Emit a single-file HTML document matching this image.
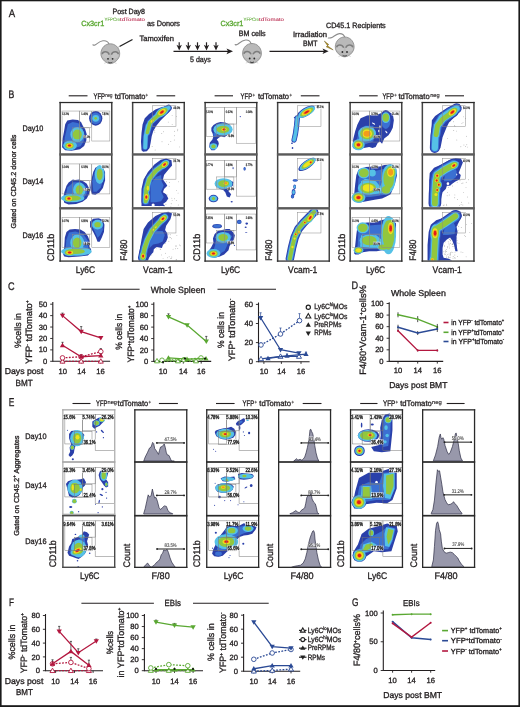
<!DOCTYPE html>
<html><head><meta charset="utf-8"><style>
html,body{margin:0;padding:0;background:#fff;width:520px;height:707px;overflow:hidden}
svg{display:block;font-family:"Liberation Sans", sans-serif;text-rendering:geometricPrecision;will-change:transform}
</style></head><body>
<svg width="520" height="707" viewBox="0 0 520 707" fill="#231f20">
<defs>
<filter id="bl" x="-20%" y="-20%" width="140%" height="140%"><feGaussianBlur stdDeviation="0.6"/></filter>
<filter id="bl2" x="-20%" y="-20%" width="140%" height="140%"><feGaussianBlur stdDeviation="0.3"/></filter>
<clipPath id="cB00"><rect x="60.199999999999996" y="102.89999999999999" width="51.5" height="51.0"/></clipPath>
<clipPath id="cB01"><rect x="132.70000000000002" y="102.89999999999999" width="51.5" height="51.0"/></clipPath>
<clipPath id="cB02"><rect x="205.20000000000002" y="102.89999999999999" width="51.5" height="51.0"/></clipPath>
<clipPath id="cB03"><rect x="277.7" y="102.89999999999999" width="51.5" height="51.0"/></clipPath>
<clipPath id="cB04"><rect x="350.2" y="102.89999999999999" width="51.5" height="51.0"/></clipPath>
<clipPath id="cB05"><rect x="422.40000000000003" y="102.89999999999999" width="51.5" height="51.0"/></clipPath>
<clipPath id="cB10"><rect x="60.199999999999996" y="155.8" width="51.5" height="51.0"/></clipPath>
<clipPath id="cB11"><rect x="132.70000000000002" y="155.8" width="51.5" height="51.0"/></clipPath>
<clipPath id="cB12"><rect x="205.20000000000002" y="155.8" width="51.5" height="51.0"/></clipPath>
<clipPath id="cB13"><rect x="277.7" y="155.8" width="51.5" height="51.0"/></clipPath>
<clipPath id="cB14"><rect x="350.2" y="155.8" width="51.5" height="51.0"/></clipPath>
<clipPath id="cB15"><rect x="422.40000000000003" y="155.8" width="51.5" height="51.0"/></clipPath>
<clipPath id="cB20"><rect x="60.199999999999996" y="209.60000000000002" width="51.5" height="51.0"/></clipPath>
<clipPath id="cB21"><rect x="132.70000000000002" y="209.60000000000002" width="51.5" height="51.0"/></clipPath>
<clipPath id="cB22"><rect x="205.20000000000002" y="209.60000000000002" width="51.5" height="51.0"/></clipPath>
<clipPath id="cB23"><rect x="277.7" y="209.60000000000002" width="51.5" height="51.0"/></clipPath>
<clipPath id="cB24"><rect x="350.2" y="209.60000000000002" width="51.5" height="51.0"/></clipPath>
<clipPath id="cB25"><rect x="422.40000000000003" y="209.60000000000002" width="51.5" height="51.0"/></clipPath>
<clipPath id="cE00"><rect x="63.0" y="410.1" width="51.6" height="50.9"/></clipPath>
<clipPath id="cE02"><rect x="206.9" y="410.1" width="51.6" height="50.9"/></clipPath>
<clipPath id="cE04"><rect x="350.7" y="410.1" width="51.6" height="50.9"/></clipPath>
<clipPath id="cE10"><rect x="63.0" y="463.1" width="51.6" height="50.9"/></clipPath>
<clipPath id="cE12"><rect x="206.9" y="463.1" width="51.6" height="50.9"/></clipPath>
<clipPath id="cE14"><rect x="350.7" y="463.1" width="51.6" height="50.9"/></clipPath>
<clipPath id="cE20"><rect x="63.0" y="516.4" width="51.6" height="50.9"/></clipPath>
<clipPath id="cE22"><rect x="206.9" y="516.4" width="51.6" height="50.9"/></clipPath>
<clipPath id="cE24"><rect x="350.7" y="516.4" width="51.6" height="50.9"/></clipPath>
</defs>
<rect x="0" y="0" width="520" height="707" fill="#fff"/>
<text x="8.8" y="16.5" font-size="11" textLength="6.4" lengthAdjust="spacingAndGlyphs" stroke="#231f20" stroke-width="0.32">A</text>
<text x="112.5" y="14.2" font-size="7.6" textLength="32.5" lengthAdjust="spacingAndGlyphs" stroke="#231f20" stroke-width="0.32">Post Day8</text>
<text x="81.2" y="25.5" font-size="7.6" textLength="23" lengthAdjust="spacingAndGlyphs" fill="#5aa832" stroke="#5aa832" stroke-width="0.32">Cx3cr1</text>
<text x="104.5" y="21.3" font-size="4.8" textLength="15.5" lengthAdjust="spacingAndGlyphs" fill="#5aa832" stroke="#5aa832" stroke-width="0.05">YFPCre</text>
<text x="120" y="21.3" font-size="4.8" textLength="25" lengthAdjust="spacingAndGlyphs" fill="#b3173f" stroke="#b3173f" stroke-width="0.05">tdTomato</text>
<text x="147" y="25.5" font-size="7.6" textLength="33" lengthAdjust="spacingAndGlyphs" stroke="#231f20" stroke-width="0.32">as Donors</text>
<text x="139.5" y="41.2" font-size="7.6" textLength="34.5" lengthAdjust="spacingAndGlyphs" stroke="#231f20" stroke-width="0.32">Tamoxifen</text>
<text x="220.4" y="25.5" font-size="7.6" textLength="23" lengthAdjust="spacingAndGlyphs" fill="#5aa832" stroke="#5aa832" stroke-width="0.32">Cx3cr1</text>
<text x="243.5" y="21.3" font-size="4.8" textLength="15.5" lengthAdjust="spacingAndGlyphs" fill="#5aa832" stroke="#5aa832" stroke-width="0.05">YFPCre</text>
<text x="259" y="21.3" font-size="4.8" textLength="25" lengthAdjust="spacingAndGlyphs" fill="#b3173f" stroke="#b3173f" stroke-width="0.05">tdTomato</text>
<text x="238.8" y="35.5" font-size="7.6" textLength="26.8" lengthAdjust="spacingAndGlyphs" stroke="#231f20" stroke-width="0.32">BM cells</text>
<text x="293" y="36.5" font-size="7.6" textLength="34" lengthAdjust="spacingAndGlyphs" stroke="#231f20" stroke-width="0.32">Irradiation</text>
<text x="303" y="45.5" font-size="7.6" textLength="14.5" lengthAdjust="spacingAndGlyphs" stroke="#231f20" stroke-width="0.32">BMT</text>
<text x="326" y="28" font-size="7.6" textLength="59.7" lengthAdjust="spacingAndGlyphs" stroke="#231f20" stroke-width="0.32">CD45.1 Recipients</text>
<text x="190" y="61.5" font-size="7.6" textLength="20.8" lengthAdjust="spacingAndGlyphs" stroke="#231f20" stroke-width="0.32">5 days</text>
<line x1="173.5" y1="51.3" x2="229" y2="51.3" stroke="#231f20" stroke-width="1.3"/>
<path d="M226.5,48.4 L233,51.3 L226.5,54.2 L228,51.3 Z" fill="#231f20"/>
<line x1="179.2" y1="42.3" x2="179.2" y2="47" stroke="#231f20" stroke-width="1.2"/>
<path d="M176.5,44.8 L179.2,46.3 L181.89999999999998,44.8 L179.2,50.6 Z" fill="#231f20"/>
<line x1="188.3" y1="42.3" x2="188.3" y2="47" stroke="#231f20" stroke-width="1.2"/>
<path d="M185.60000000000002,44.8 L188.3,46.3 L191.0,44.8 L188.3,50.6 Z" fill="#231f20"/>
<line x1="197.5" y1="42.3" x2="197.5" y2="47" stroke="#231f20" stroke-width="1.2"/>
<path d="M194.8,44.8 L197.5,46.3 L200.2,44.8 L197.5,50.6 Z" fill="#231f20"/>
<line x1="206.5" y1="42.3" x2="206.5" y2="47" stroke="#231f20" stroke-width="1.2"/>
<path d="M203.8,44.8 L206.5,46.3 L209.2,44.8 L206.5,50.6 Z" fill="#231f20"/>
<line x1="216" y1="42.3" x2="216" y2="47" stroke="#231f20" stroke-width="1.2"/>
<path d="M213.3,44.8 L216,46.3 L218.7,44.8 L216,50.6 Z" fill="#231f20"/>
<line x1="269.5" y1="51.3" x2="325" y2="51.3" stroke="#231f20" stroke-width="1.3"/>
<path d="M322.5,48.5 L328.6,51.3 L322.5,54.1 L324,51.3 Z" fill="#231f20"/>
<path d="M324.3,41 L328.8,44.6 L327.2,45.6 L333.2,49.9 L326.2,46.8 L327.6,45.8 Z" fill="#b8961e" stroke="#5a4a10" stroke-width="0.4"/>
<line x1="119.5" y1="46.5" x2="132.5" y2="39.5" stroke="#222" stroke-width="1.4"/>
<line x1="117.5" y1="47.5" x2="120" y2="46.3" stroke="#999" stroke-width="0.6"/>
<g transform="translate(100.9,43.6)"><path d="M8,0.3 C7,-2.5 5,-3.2 2,-2.8 C-1.5,-2.3 -3.5,0 -5.5,1.2 C-6.5,1.8 -7.5,1.6 -8,1.2" fill="none" stroke="#8c8c8c" stroke-width="1.1" stroke-linecap="round"/><path d="M9.4,0.2 C14.2,0.2 18.4,3.8 18.8,9.6 C19,13 17.4,15.4 15.2,17.4 C13.2,19.2 11.2,20 9.4,20 C7.6,20 5.6,19.2 3.6,17.4 C1.4,15.4 -0.2,13 0,9.6 C0.4,3.8 4.6,0.2 9.4,0.2 Z" fill="#b9b9b9" stroke="#858585" stroke-width="0.8"/><path d="M1.2,12.5 C1,9.5 3,8 5,8.2 C7,8.4 8.3,9.8 8.6,12 C8.8,14.5 6,15.5 4,14.8 C2.2,14.2 1.3,13.5 1.2,12.5 Z" fill="#c4c4c4"/><path d="M17.6,12.5 C17.8,9.5 15.8,8 13.8,8.2 C11.8,8.4 10.5,9.8 10.2,12 C10,14.5 12.8,15.5 14.8,14.8 C16.6,14.2 17.5,13.5 17.6,12.5 Z" fill="#c4c4c4"/><path d="M1.3,10.5 C2,7.8 6.5,7 8.4,11" fill="none" stroke="#7d7d7d" stroke-width="1.5"/><path d="M17.5,10.5 C16.8,7.8 12.3,7 10.4,11" fill="none" stroke="#7d7d7d" stroke-width="1.5"/><circle cx="7.1" cy="15.2" r="0.9" fill="#2a2a2a"/><circle cx="11.7" cy="15.2" r="0.9" fill="#2a2a2a"/><path d="M7.4,18.6 C8.5,19.4 10.3,19.4 11.4,18.6" fill="none" stroke="#333" stroke-width="0.9"/><path d="M6,17.8 L2.8,17.2 M6,18.6 L3.2,19.8 M12.8,17.8 L16,17.2 M12.8,18.6 L15.6,19.8" stroke="#b0b0b0" stroke-width="0.45"/></g>
<g transform="translate(242.6,43.3)"><path d="M8.5,0.3 C7.5,-2.5 6,-3.6 3,-3.3 C-0.5,-3 -3,-0.5 -5,1 C-6,1.6 -7,1.6 -7.4,1.2" fill="none" stroke="#8c8c8c" stroke-width="1.1" stroke-linecap="round"/><path d="M9.4,0.2 C14.2,0.2 18.4,3.8 18.8,9.6 C19,13 17.4,15.4 15.2,17.4 C13.2,19.2 11.2,20 9.4,20 C7.6,20 5.6,19.2 3.6,17.4 C1.4,15.4 -0.2,13 0,9.6 C0.4,3.8 4.6,0.2 9.4,0.2 Z" fill="#b9b9b9" stroke="#858585" stroke-width="0.8"/><path d="M1.2,12.5 C1,9.5 3,8 5,8.2 C7,8.4 8.3,9.8 8.6,12 C8.8,14.5 6,15.5 4,14.8 C2.2,14.2 1.3,13.5 1.2,12.5 Z" fill="#c4c4c4"/><path d="M17.6,12.5 C17.8,9.5 15.8,8 13.8,8.2 C11.8,8.4 10.5,9.8 10.2,12 C10,14.5 12.8,15.5 14.8,14.8 C16.6,14.2 17.5,13.5 17.6,12.5 Z" fill="#c4c4c4"/><path d="M1.3,10.5 C2,7.8 6.5,7 8.4,11" fill="none" stroke="#7d7d7d" stroke-width="1.5"/><path d="M17.5,10.5 C16.8,7.8 12.3,7 10.4,11" fill="none" stroke="#7d7d7d" stroke-width="1.5"/><circle cx="7.1" cy="15.2" r="0.9" fill="#2a2a2a"/><circle cx="11.7" cy="15.2" r="0.9" fill="#2a2a2a"/><path d="M7.4,18.6 C8.5,19.4 10.3,19.4 11.4,18.6" fill="none" stroke="#333" stroke-width="0.9"/><path d="M6,17.8 L2.8,17.2 M6,18.6 L3.2,19.8 M12.8,17.8 L16,17.2 M12.8,18.6 L15.6,19.8" stroke="#b0b0b0" stroke-width="0.45"/></g>
<g transform="translate(335.3,36.8)"><path d="M9.4,0.2 C8.5,-2.4 6.8,-3.4 4,-3.2 C1,-3 -1,-0.5 -3.5,0.8 C-4.5,1.3 -6,1.3 -7,1.2" fill="none" stroke="#8c8c8c" stroke-width="1.1" stroke-linecap="round"/><path d="M9.4,0.2 C14.2,0.2 18.4,3.8 18.8,9.6 C19,13 17.4,15.4 15.2,17.4 C13.2,19.2 11.2,20 9.4,20 C7.6,20 5.6,19.2 3.6,17.4 C1.4,15.4 -0.2,13 0,9.6 C0.4,3.8 4.6,0.2 9.4,0.2 Z" fill="#b9b9b9" stroke="#858585" stroke-width="0.8"/><path d="M1.2,12.5 C1,9.5 3,8 5,8.2 C7,8.4 8.3,9.8 8.6,12 C8.8,14.5 6,15.5 4,14.8 C2.2,14.2 1.3,13.5 1.2,12.5 Z" fill="#c4c4c4"/><path d="M17.6,12.5 C17.8,9.5 15.8,8 13.8,8.2 C11.8,8.4 10.5,9.8 10.2,12 C10,14.5 12.8,15.5 14.8,14.8 C16.6,14.2 17.5,13.5 17.6,12.5 Z" fill="#c4c4c4"/><path d="M1.3,10.5 C2,7.8 6.5,7 8.4,11" fill="none" stroke="#7d7d7d" stroke-width="1.5"/><path d="M17.5,10.5 C16.8,7.8 12.3,7 10.4,11" fill="none" stroke="#7d7d7d" stroke-width="1.5"/><circle cx="7.1" cy="15.2" r="0.9" fill="#2a2a2a"/><circle cx="11.7" cy="15.2" r="0.9" fill="#2a2a2a"/><path d="M7.4,18.6 C8.5,19.4 10.3,19.4 11.4,18.6" fill="none" stroke="#333" stroke-width="0.9"/><path d="M6,17.8 L2.8,17.2 M6,18.6 L3.2,19.8 M12.8,17.8 L16,17.2 M12.8,18.6 L15.6,19.8" stroke="#b0b0b0" stroke-width="0.45"/></g>
<text x="8.6" y="97.7" font-size="11" textLength="5.8" lengthAdjust="spacingAndGlyphs" stroke="#231f20" stroke-width="0.32">B</text>
<line x1="68.7" y1="95.8" x2="87.5" y2="95.8" stroke="#231f20" stroke-width="1.1"/>
<line x1="156.5" y1="95.8" x2="175.2" y2="95.8" stroke="#231f20" stroke-width="1.1"/>
<text x="93.5" y="98.6" font-size="8.0" textLength="11.5" lengthAdjust="spacingAndGlyphs" stroke="#231f20" stroke-width="0.32">YFP</text>
<text x="105.2" y="96.7" font-size="5.6" textLength="7.3" lengthAdjust="spacingAndGlyphs" stroke="#231f20" stroke-width="0.15">neg</text>
<text x="114.8" y="98.6" font-size="8.0" textLength="30.6" lengthAdjust="spacingAndGlyphs" stroke="#231f20" stroke-width="0.32">tdTomato</text>
<text x="145.6" y="96.7" font-size="5.6" textLength="2.6" lengthAdjust="spacingAndGlyphs" stroke="#231f20" stroke-width="0.15">+</text>
<line x1="214.6" y1="95.8" x2="233" y2="95.8" stroke="#231f20" stroke-width="1.1"/>
<line x1="300.8" y1="95.8" x2="319.5" y2="95.8" stroke="#231f20" stroke-width="1.1"/>
<text x="240.6" y="98.6" font-size="8.0" textLength="11.5" lengthAdjust="spacingAndGlyphs" stroke="#231f20" stroke-width="0.32">YFP</text>
<text x="252.6" y="96.7" font-size="5.6" textLength="2.6" lengthAdjust="spacingAndGlyphs" stroke="#231f20" stroke-width="0.15">+</text>
<text x="257.9" y="98.6" font-size="8.0" textLength="31.1" lengthAdjust="spacingAndGlyphs" stroke="#231f20" stroke-width="0.32">tdTomato</text>
<text x="289.6" y="96.7" font-size="5.6" textLength="2.6" lengthAdjust="spacingAndGlyphs" stroke="#231f20" stroke-width="0.15">+</text>
<line x1="359.2" y1="95.8" x2="377.7" y2="95.8" stroke="#231f20" stroke-width="1.1"/>
<line x1="445" y1="95.8" x2="464" y2="95.8" stroke="#231f20" stroke-width="1.1"/>
<text x="382.5" y="98.6" font-size="8.0" textLength="11.3" lengthAdjust="spacingAndGlyphs" stroke="#231f20" stroke-width="0.32">YFP</text>
<text x="394.2" y="96.7" font-size="5.6" textLength="2.6" lengthAdjust="spacingAndGlyphs" stroke="#231f20" stroke-width="0.15">+</text>
<text x="398.5" y="98.6" font-size="8.0" textLength="31.1" lengthAdjust="spacingAndGlyphs" stroke="#231f20" stroke-width="0.32">tdTomato</text>
<text x="430.2" y="96.7" font-size="5.6" textLength="9.5" lengthAdjust="spacingAndGlyphs" stroke="#231f20" stroke-width="0.15">neg</text>
<text x="22.4" y="130.5" font-size="8" textLength="21" lengthAdjust="spacingAndGlyphs" stroke="#231f20" stroke-width="0.32">Day10</text>
<text x="22.4" y="183.7" font-size="8" textLength="21" lengthAdjust="spacingAndGlyphs" stroke="#231f20" stroke-width="0.32">Day14</text>
<text x="22.4" y="237.7" font-size="8" textLength="21" lengthAdjust="spacingAndGlyphs" stroke="#231f20" stroke-width="0.32">Day16</text>
<text x="16.2" y="228.5" font-size="7.2" textLength="94" lengthAdjust="spacingAndGlyphs" transform="rotate(-90 16.2 228.5)" stroke="#231f20" stroke-width="0.32">Gated on CD45.2 donor cells</text>
<text x="54.5" y="261.2" font-size="9.6" textLength="27.4" lengthAdjust="spacingAndGlyphs" transform="rotate(-90 54.5 261.2)" stroke="#231f20" stroke-width="0.32">CD11b</text>
<text x="75.8" y="273" font-size="9.6" textLength="19.3" lengthAdjust="spacingAndGlyphs" stroke="#231f20" stroke-width="0.32">Ly6C</text>
<text x="127.1" y="260.8" font-size="9.6" textLength="21.2" lengthAdjust="spacingAndGlyphs" transform="rotate(-90 127.1 260.8)" stroke="#231f20" stroke-width="0.32">F4/80</text>
<text x="143.1" y="273" font-size="9.6" textLength="29.3" lengthAdjust="spacingAndGlyphs" stroke="#231f20" stroke-width="0.32">Vcam-1</text>
<text x="199.6" y="261.2" font-size="9.6" textLength="27.4" lengthAdjust="spacingAndGlyphs" transform="rotate(-90 199.6 261.2)" stroke="#231f20" stroke-width="0.32">CD11b</text>
<text x="220.9" y="273" font-size="9.6" textLength="19.3" lengthAdjust="spacingAndGlyphs" stroke="#231f20" stroke-width="0.32">Ly6C</text>
<text x="272" y="260.8" font-size="9.6" textLength="21.2" lengthAdjust="spacingAndGlyphs" transform="rotate(-90 272 260.8)" stroke="#231f20" stroke-width="0.32">F4/80</text>
<text x="288" y="273" font-size="9.6" textLength="29.3" lengthAdjust="spacingAndGlyphs" stroke="#231f20" stroke-width="0.32">Vcam-1</text>
<text x="344.6" y="261.2" font-size="9.6" textLength="27.4" lengthAdjust="spacingAndGlyphs" transform="rotate(-90 344.6 261.2)" stroke="#231f20" stroke-width="0.32">CD11b</text>
<text x="365.90000000000003" y="273" font-size="9.6" textLength="19.3" lengthAdjust="spacingAndGlyphs" stroke="#231f20" stroke-width="0.32">Ly6C</text>
<text x="416.5" y="260.8" font-size="9.6" textLength="21.2" lengthAdjust="spacingAndGlyphs" transform="rotate(-90 416.5 260.8)" stroke="#231f20" stroke-width="0.32">F4/80</text>
<text x="432.5" y="273" font-size="9.6" textLength="29.3" lengthAdjust="spacingAndGlyphs" stroke="#231f20" stroke-width="0.32">Vcam-1</text>
<text x="8" y="290.3" font-size="11" textLength="6.6" lengthAdjust="spacingAndGlyphs" stroke="#231f20" stroke-width="0.32">C</text>
<line x1="81.4" y1="289.3" x2="139.6" y2="289.3" stroke="#231f20" stroke-width="1.1"/>
<text x="150.8" y="292.5" font-size="9" textLength="54.6" lengthAdjust="spacingAndGlyphs" stroke="#231f20" stroke-width="0.32">Whole Spleen</text>
<line x1="217.5" y1="289.3" x2="276" y2="289.3" stroke="#231f20" stroke-width="1.1"/>
<line x1="52.8" y1="302" x2="52.8" y2="361.8" stroke="#231f20" stroke-width="1.1"/>
<line x1="52.8" y1="361.3" x2="110.1" y2="361.3" stroke="#231f20" stroke-width="1.1"/>
<line x1="50.199999999999996" y1="304.20000000000005" x2="52.8" y2="304.20000000000005" stroke="#231f20" stroke-width="0.9"/>
<text x="47.199999999999996" y="306.80000000000007" font-size="7.6" text-anchor="end" stroke="#231f20" stroke-width="0.32">50</text>
<line x1="50.199999999999996" y1="315.62" x2="52.8" y2="315.62" stroke="#231f20" stroke-width="0.9"/>
<text x="47.199999999999996" y="318.22" font-size="7.6" text-anchor="end" stroke="#231f20" stroke-width="0.32">40</text>
<line x1="50.199999999999996" y1="327.04" x2="52.8" y2="327.04" stroke="#231f20" stroke-width="0.9"/>
<text x="47.199999999999996" y="329.64000000000004" font-size="7.6" text-anchor="end" stroke="#231f20" stroke-width="0.32">30</text>
<line x1="50.199999999999996" y1="338.46000000000004" x2="52.8" y2="338.46000000000004" stroke="#231f20" stroke-width="0.9"/>
<text x="47.199999999999996" y="341.06000000000006" font-size="7.6" text-anchor="end" stroke="#231f20" stroke-width="0.32">20</text>
<line x1="50.199999999999996" y1="349.88" x2="52.8" y2="349.88" stroke="#231f20" stroke-width="0.9"/>
<text x="47.199999999999996" y="352.48" font-size="7.6" text-anchor="end" stroke="#231f20" stroke-width="0.32">10</text>
<line x1="50.199999999999996" y1="361.3" x2="52.8" y2="361.3" stroke="#231f20" stroke-width="0.9"/>
<text x="47.199999999999996" y="363.90000000000003" font-size="7.6" text-anchor="end" stroke="#231f20" stroke-width="0.32">0</text>
<text x="62.8" y="374.3" font-size="7.6" text-anchor="middle" stroke="#231f20" stroke-width="0.32">10</text>
<line x1="62.8" y1="361.3" x2="62.8" y2="363.5" stroke="#231f20" stroke-width="0.9"/>
<text x="81.6" y="374.3" font-size="7.6" text-anchor="middle" stroke="#231f20" stroke-width="0.32">14</text>
<line x1="81.6" y1="361.3" x2="81.6" y2="363.5" stroke="#231f20" stroke-width="0.9"/>
<text x="100.6" y="374.3" font-size="7.6" text-anchor="middle" stroke="#231f20" stroke-width="0.32">16</text>
<line x1="100.6" y1="361.3" x2="100.6" y2="363.5" stroke="#231f20" stroke-width="0.9"/>
<text x="4.7" y="374.4" font-size="8.6" textLength="38.7" lengthAdjust="spacingAndGlyphs" stroke="#231f20" stroke-width="0.32">Days post</text>
<text x="15.6" y="385.8" font-size="9" textLength="17.2" lengthAdjust="spacingAndGlyphs" stroke="#231f20" stroke-width="0.32">BMT</text>
<text x="21.3" y="348" font-size="9.2" textLength="35" lengthAdjust="spacingAndGlyphs" transform="rotate(-90 21.3 348)" stroke="#231f20" stroke-width="0.32">%cells in</text>
<text x="32.4" y="363.9" font-size="9.2" textLength="63.5" lengthAdjust="spacingAndGlyphs" transform="rotate(-90 32.4 363.9)" stroke="#231f20" stroke-width="0.32">YFP<tspan font-size="5" dy="-3">-</tspan><tspan dy="3"> tdTomato</tspan><tspan font-size="5" dy="-3">+</tspan></text>
<path d="M62.50,361.30 L81.20,361.30 L100.80,361.30" fill="none" stroke="#b3173f" stroke-width="1.3" stroke-dasharray="1.8,1.4"/>
<path d="M59.97,363.14 L65.03,363.14 L62.50,358.77 Z" fill="#fff" stroke="#b3173f" stroke-width="0.9"/>
<path d="M78.67,363.14 L83.73,363.14 L81.20,358.77 Z" fill="#fff" stroke="#b3173f" stroke-width="0.9"/>
<path d="M98.27,363.14 L103.33,363.14 L100.80,358.77 Z" fill="#fff" stroke="#b3173f" stroke-width="0.9"/>
<path d="M62.50,357.87 L81.20,356.73 L100.80,351.59" fill="none" stroke="#b3173f" stroke-width="1.3" stroke-dasharray="1.8,1.4"/>
<line x1="100.8" y1="351.593" x2="100.8" y2="348.593" stroke="#222" stroke-width="0.7"/>
<line x1="99.7" y1="348.593" x2="101.89999999999999" y2="348.593" stroke="#222" stroke-width="0.7"/>
<circle cx="62.50" cy="357.87" r="2.30" fill="#fff" stroke="#b3173f" stroke-width="0.9"/>
<circle cx="81.20" cy="356.73" r="2.30" fill="#fff" stroke="#b3173f" stroke-width="0.9"/>
<circle cx="100.80" cy="351.59" r="2.30" fill="#fff" stroke="#b3173f" stroke-width="0.9"/>
<path d="M62.50,345.31 L81.20,356.73 L100.80,355.59" fill="none" stroke="#b3173f" stroke-width="1.3"/>
<line x1="62.5" y1="345.312" x2="62.5" y2="342.312" stroke="#222" stroke-width="0.7"/>
<line x1="61.4" y1="342.312" x2="63.6" y2="342.312" stroke="#222" stroke-width="0.7"/>
<line x1="81.2" y1="356.732" x2="81.2" y2="355.232" stroke="#222" stroke-width="0.7"/>
<line x1="80.10000000000001" y1="355.232" x2="82.3" y2="355.232" stroke="#222" stroke-width="0.7"/>
<line x1="100.8" y1="355.59000000000003" x2="100.8" y2="354.09000000000003" stroke="#222" stroke-width="0.7"/>
<line x1="99.7" y1="354.09000000000003" x2="101.89999999999999" y2="354.09000000000003" stroke="#222" stroke-width="0.7"/>
<path d="M59.86,347.15 L65.14,347.15 L62.50,342.67 Z" fill="#b3173f"/>
<path d="M78.56,358.57 L83.84,358.57 L81.20,354.09 Z" fill="#b3173f"/>
<path d="M98.16,357.43 L103.44,357.43 L100.80,352.95 Z" fill="#b3173f"/>
<path d="M62.50,315.62 L81.20,331.61 L100.80,337.89" fill="none" stroke="#b3173f" stroke-width="1.3"/>
<line x1="62.5" y1="315.62" x2="62.5" y2="313.12" stroke="#222" stroke-width="0.7"/>
<line x1="61.4" y1="313.12" x2="63.6" y2="313.12" stroke="#222" stroke-width="0.7"/>
<line x1="81.2" y1="331.608" x2="81.2" y2="326.608" stroke="#222" stroke-width="0.7"/>
<line x1="80.10000000000001" y1="326.608" x2="82.3" y2="326.608" stroke="#222" stroke-width="0.7"/>
<line x1="100.8" y1="337.889" x2="100.8" y2="336.889" stroke="#222" stroke-width="0.7"/>
<line x1="99.7" y1="336.889" x2="101.89999999999999" y2="336.889" stroke="#222" stroke-width="0.7"/>
<path d="M59.86,313.78 L65.14,313.78 L62.50,318.26 Z" fill="#b3173f"/>
<path d="M78.56,329.77 L83.84,329.77 L81.20,334.25 Z" fill="#b3173f"/>
<path d="M98.16,336.05 L103.44,336.05 L100.80,340.53 Z" fill="#b3173f"/>
<line x1="153.8" y1="302.2" x2="153.8" y2="361.9" stroke="#231f20" stroke-width="1.1"/>
<line x1="153.8" y1="361.4" x2="211.2" y2="361.4" stroke="#231f20" stroke-width="1.1"/>
<line x1="151.20000000000002" y1="304.26" x2="153.8" y2="304.26" stroke="#231f20" stroke-width="0.9"/>
<text x="148.20000000000002" y="306.86" font-size="7.6" text-anchor="end" stroke="#231f20" stroke-width="0.32">100</text>
<line x1="151.20000000000002" y1="315.688" x2="153.8" y2="315.688" stroke="#231f20" stroke-width="0.9"/>
<text x="148.20000000000002" y="318.288" font-size="7.6" text-anchor="end" stroke="#231f20" stroke-width="0.32">80</text>
<line x1="151.20000000000002" y1="327.116" x2="153.8" y2="327.116" stroke="#231f20" stroke-width="0.9"/>
<text x="148.20000000000002" y="329.716" font-size="7.6" text-anchor="end" stroke="#231f20" stroke-width="0.32">60</text>
<line x1="151.20000000000002" y1="338.544" x2="153.8" y2="338.544" stroke="#231f20" stroke-width="0.9"/>
<text x="148.20000000000002" y="341.144" font-size="7.6" text-anchor="end" stroke="#231f20" stroke-width="0.32">40</text>
<line x1="151.20000000000002" y1="349.972" x2="153.8" y2="349.972" stroke="#231f20" stroke-width="0.9"/>
<text x="148.20000000000002" y="352.572" font-size="7.6" text-anchor="end" stroke="#231f20" stroke-width="0.32">20</text>
<line x1="151.20000000000002" y1="361.4" x2="153.8" y2="361.4" stroke="#231f20" stroke-width="0.9"/>
<text x="148.20000000000002" y="364.0" font-size="7.6" text-anchor="end" stroke="#231f20" stroke-width="0.32">0</text>
<text x="163.1" y="374.3" font-size="7.6" text-anchor="middle" stroke="#231f20" stroke-width="0.32">10</text>
<line x1="163.1" y1="361.4" x2="163.1" y2="363.59999999999997" stroke="#231f20" stroke-width="0.9"/>
<text x="183.3" y="374.3" font-size="7.6" text-anchor="middle" stroke="#231f20" stroke-width="0.32">14</text>
<line x1="183.3" y1="361.4" x2="183.3" y2="363.59999999999997" stroke="#231f20" stroke-width="0.9"/>
<text x="201.2" y="374.3" font-size="7.6" text-anchor="middle" stroke="#231f20" stroke-width="0.32">16</text>
<line x1="201.2" y1="361.4" x2="201.2" y2="363.59999999999997" stroke="#231f20" stroke-width="0.9"/>
<text x="122.4" y="349.8" font-size="9.2" textLength="36" lengthAdjust="spacingAndGlyphs" transform="rotate(-90 122.4 349.8)" stroke="#231f20" stroke-width="0.32">% cells in</text>
<text x="134.1" y="362.5" font-size="9.2" textLength="57" lengthAdjust="spacingAndGlyphs" transform="rotate(-90 134.1 362.5)" stroke="#231f20" stroke-width="0.32">YFP<tspan font-size="5" dy="-3">+</tspan><tspan dy="3">tdTomato</tspan><tspan font-size="5" dy="-3">+</tspan></text>
<path d="M157.00,361.00 L178.00,361.00 L196.00,361.00" fill="none" stroke="#5aa832" stroke-width="1.3" stroke-dasharray="1.8,1.4"/>
<path d="M154.47,362.84 L159.53,362.84 L157.00,358.47 Z" fill="#fff" stroke="#5aa832" stroke-width="0.9"/>
<path d="M175.47,362.84 L180.53,362.84 L178.00,358.47 Z" fill="#fff" stroke="#5aa832" stroke-width="0.9"/>
<path d="M193.47,362.84 L198.53,362.84 L196.00,358.47 Z" fill="#fff" stroke="#5aa832" stroke-width="0.9"/>
<path d="M162.00,360.26 L184.00,359.69 L201.00,357.97" fill="none" stroke="#5aa832" stroke-width="1.3" stroke-dasharray="1.8,1.4"/>
<circle cx="162.00" cy="360.26" r="2.30" fill="#fff" stroke="#5aa832" stroke-width="0.9"/>
<circle cx="184.00" cy="359.69" r="2.30" fill="#fff" stroke="#5aa832" stroke-width="0.9"/>
<circle cx="201.00" cy="357.97" r="2.30" fill="#fff" stroke="#5aa832" stroke-width="0.9"/>
<path d="M168.50,357.97 L187.00,359.11 L206.00,358.54" fill="none" stroke="#5aa832" stroke-width="1.3"/>
<path d="M165.85,359.81 L171.15,359.81 L168.50,355.33 Z" fill="#5aa832"/>
<path d="M184.35,360.95 L189.65,360.95 L187.00,356.47 Z" fill="#5aa832"/>
<path d="M203.35,360.38 L208.65,360.38 L206.00,355.90 Z" fill="#5aa832"/>
<circle cx="163.00" cy="362.00" r="1.10" fill="#111"/>
<circle cx="185.00" cy="358.50" r="1.10" fill="#111"/>
<circle cx="205.00" cy="358.50" r="1.10" fill="#111"/>
<path d="M168.50,316.83 L187.10,325.12 L206.30,341.40" fill="none" stroke="#5aa832" stroke-width="1.3"/>
<line x1="168.5" y1="316.83079999999995" x2="168.5" y2="313.83079999999995" stroke="#222" stroke-width="0.7"/>
<line x1="167.4" y1="313.83079999999995" x2="169.6" y2="313.83079999999995" stroke="#222" stroke-width="0.7"/>
<line x1="206.3" y1="341.40099999999995" x2="206.3" y2="336.40099999999995" stroke="#222" stroke-width="0.7"/>
<line x1="205.20000000000002" y1="336.40099999999995" x2="207.4" y2="336.40099999999995" stroke="#222" stroke-width="0.7"/>
<path d="M165.85,314.99 L171.15,314.99 L168.50,319.48 Z" fill="#5aa832"/>
<path d="M184.45,323.28 L189.75,323.28 L187.10,327.76 Z" fill="#5aa832"/>
<path d="M203.66,339.56 L208.95,339.56 L206.30,344.05 Z" fill="#5aa832"/>
<line x1="258.5" y1="302.5" x2="258.5" y2="362.2" stroke="#231f20" stroke-width="1.1"/>
<line x1="258.5" y1="361.7" x2="309.6" y2="361.7" stroke="#231f20" stroke-width="1.1"/>
<line x1="255.9" y1="304.4" x2="258.5" y2="304.4" stroke="#231f20" stroke-width="0.9"/>
<text x="252.9" y="307.0" font-size="7.6" text-anchor="end" stroke="#231f20" stroke-width="0.32">60</text>
<line x1="255.9" y1="323.5" x2="258.5" y2="323.5" stroke="#231f20" stroke-width="0.9"/>
<text x="252.9" y="326.1" font-size="7.6" text-anchor="end" stroke="#231f20" stroke-width="0.32">40</text>
<line x1="255.9" y1="342.59999999999997" x2="258.5" y2="342.59999999999997" stroke="#231f20" stroke-width="0.9"/>
<text x="252.9" y="345.2" font-size="7.6" text-anchor="end" stroke="#231f20" stroke-width="0.32">20</text>
<line x1="255.9" y1="361.7" x2="258.5" y2="361.7" stroke="#231f20" stroke-width="0.9"/>
<text x="252.9" y="364.3" font-size="7.6" text-anchor="end" stroke="#231f20" stroke-width="0.32">0</text>
<text x="263.9" y="374.3" font-size="7.6" text-anchor="middle" stroke="#231f20" stroke-width="0.32">10</text>
<line x1="263.9" y1="361.7" x2="263.9" y2="363.9" stroke="#231f20" stroke-width="0.9"/>
<text x="281.4" y="374.3" font-size="7.6" text-anchor="middle" stroke="#231f20" stroke-width="0.32">14</text>
<line x1="281.4" y1="361.7" x2="281.4" y2="363.9" stroke="#231f20" stroke-width="0.9"/>
<text x="301" y="374.3" font-size="7.6" text-anchor="middle" stroke="#231f20" stroke-width="0.32">16</text>
<line x1="301" y1="361.7" x2="301" y2="363.9" stroke="#231f20" stroke-width="0.9"/>
<text x="223.8" y="348" font-size="9.2" textLength="36" lengthAdjust="spacingAndGlyphs" transform="rotate(-90 223.8 348)" stroke="#231f20" stroke-width="0.32">% cells in</text>
<text x="235.2" y="361.3" font-size="9.2" textLength="62.6" lengthAdjust="spacingAndGlyphs" transform="rotate(-90 235.2 361.3)" stroke="#231f20" stroke-width="0.32">YFP<tspan font-size="5" dy="-3">+</tspan><tspan dy="3"> tdTomato</tspan><tspan font-size="5" dy="-3">-</tspan></text>
<path d="M261.00,358.83 L280.50,356.45 L299.00,356.45" fill="none" stroke="#2b4a95" stroke-width="1.3"/>
<path d="M258.47,360.67 L263.53,360.67 L261.00,356.31 Z" fill="#fff" stroke="#2b4a95" stroke-width="0.9"/>
<path d="M277.97,358.29 L283.03,358.29 L280.50,353.92 Z" fill="#fff" stroke="#2b4a95" stroke-width="0.9"/>
<path d="M296.47,358.29 L301.53,358.29 L299.00,353.92 Z" fill="#fff" stroke="#2b4a95" stroke-width="0.9"/>
<path d="M268.00,358.36 L287.00,355.97 L306.00,354.06" fill="none" stroke="#2b4a95" stroke-width="1.3"/>
<line x1="287" y1="355.96999999999997" x2="287" y2="353.96999999999997" stroke="#2b4a95" stroke-width="0.7"/>
<line x1="285.9" y1="353.96999999999997" x2="288.1" y2="353.96999999999997" stroke="#2b4a95" stroke-width="0.7"/>
<line x1="306" y1="354.06" x2="306" y2="352.06" stroke="#2b4a95" stroke-width="0.7"/>
<line x1="304.9" y1="352.06" x2="307.1" y2="352.06" stroke="#2b4a95" stroke-width="0.7"/>
<path d="M265.36,360.20 L270.64,360.20 L268.00,355.71 Z" fill="#2b4a95"/>
<path d="M284.36,357.81 L289.64,357.81 L287.00,353.32 Z" fill="#2b4a95"/>
<path d="M303.36,355.90 L308.64,355.90 L306.00,351.42 Z" fill="#2b4a95"/>
<path d="M261.00,344.99 L280.50,334.00 L299.50,320.63" fill="none" stroke="#2b4a95" stroke-width="1.3" stroke-dasharray="1.8,1.4"/>
<line x1="261" y1="344.9875" x2="261" y2="342.9875" stroke="#2b4a95" stroke-width="0.7"/>
<line x1="259.9" y1="342.9875" x2="262.1" y2="342.9875" stroke="#2b4a95" stroke-width="0.7"/>
<line x1="280.5" y1="334.005" x2="280.5" y2="328.005" stroke="#2b4a95" stroke-width="0.7"/>
<line x1="279.4" y1="328.005" x2="281.6" y2="328.005" stroke="#2b4a95" stroke-width="0.7"/>
<line x1="299.5" y1="320.635" x2="299.5" y2="313.635" stroke="#2b4a95" stroke-width="0.7"/>
<line x1="298.4" y1="313.635" x2="300.6" y2="313.635" stroke="#2b4a95" stroke-width="0.7"/>
<circle cx="261.00" cy="344.99" r="2.30" fill="#fff" stroke="#2b4a95" stroke-width="0.9"/>
<circle cx="280.50" cy="334.00" r="2.30" fill="#fff" stroke="#2b4a95" stroke-width="0.9"/>
<circle cx="299.50" cy="320.63" r="2.30" fill="#fff" stroke="#2b4a95" stroke-width="0.9"/>
<path d="M260.60,317.77 L280.50,349.76 L298.90,353.11" fill="none" stroke="#2b4a95" stroke-width="1.3"/>
<line x1="260.6" y1="317.77" x2="260.6" y2="312.77" stroke="#2b4a95" stroke-width="0.7"/>
<line x1="259.5" y1="312.77" x2="261.70000000000005" y2="312.77" stroke="#2b4a95" stroke-width="0.7"/>
<path d="M257.96,315.93 L263.25,315.93 L260.60,320.41 Z" fill="#2b4a95"/>
<path d="M277.86,347.92 L283.14,347.92 L280.50,352.41 Z" fill="#2b4a95"/>
<path d="M296.25,351.27 L301.54,351.27 L298.90,355.75 Z" fill="#2b4a95"/>
<circle cx="308.3" cy="307.2" r="2.1" fill="#fff" stroke="#222" stroke-width="1.2"/>
<text x="314.3" y="309.2" font-size="7.6" textLength="33" lengthAdjust="spacingAndGlyphs" stroke="#231f20" stroke-width="0.32">Ly6C<tspan font-size="4.8" dy="-2.8">hi</tspan><tspan dy="2.8">MOs</tspan></text>
<path d="M305.8,318 L310.8,318 L308.3,313.6 Z" fill="#fff" stroke="#222" stroke-width="1.1"/>
<text x="314.3" y="318.6" font-size="7.6" textLength="33" lengthAdjust="spacingAndGlyphs" stroke="#231f20" stroke-width="0.32">Ly6C<tspan font-size="4.8" dy="-2.8">lo</tspan><tspan dy="2.8">MOs</tspan></text>
<path d="M305.7,326.8 L310.9,326.8 L308.3,322.2 Z" fill="#222"/>
<text x="314.3" y="326.6" font-size="7.6" textLength="27" lengthAdjust="spacingAndGlyphs" stroke="#231f20" stroke-width="0.32">PreRPMs</text>
<path d="M305.7,331.4 L310.9,331.4 L308.3,336 Z" fill="#222"/>
<text x="314.3" y="335.4" font-size="7.6" textLength="17" lengthAdjust="spacingAndGlyphs" stroke="#231f20" stroke-width="0.32">RPMs</text>
<text x="351.4" y="289.2" font-size="11" textLength="6.6" lengthAdjust="spacingAndGlyphs" stroke="#231f20" stroke-width="0.32">D</text>
<text x="390.9" y="296" font-size="8.6" textLength="54.9" lengthAdjust="spacingAndGlyphs" stroke="#231f20" stroke-width="0.32">Whole Spleen</text>
<line x1="389.2" y1="302.2" x2="389.2" y2="361.9" stroke="#231f20" stroke-width="1.1"/>
<line x1="389.2" y1="361.4" x2="443.2" y2="361.4" stroke="#231f20" stroke-width="1.1"/>
<line x1="386.59999999999997" y1="303.5" x2="389.2" y2="303.5" stroke="#231f20" stroke-width="0.9"/>
<text x="383.59999999999997" y="306.1" font-size="7.6" text-anchor="end" stroke="#231f20" stroke-width="0.32">100</text>
<line x1="386.59999999999997" y1="315.08" x2="389.2" y2="315.08" stroke="#231f20" stroke-width="0.9"/>
<text x="383.59999999999997" y="317.68" font-size="7.6" text-anchor="end" stroke="#231f20" stroke-width="0.32">80</text>
<line x1="386.59999999999997" y1="326.65999999999997" x2="389.2" y2="326.65999999999997" stroke="#231f20" stroke-width="0.9"/>
<text x="383.59999999999997" y="329.26" font-size="7.6" text-anchor="end" stroke="#231f20" stroke-width="0.32">60</text>
<line x1="386.59999999999997" y1="338.24" x2="389.2" y2="338.24" stroke="#231f20" stroke-width="0.9"/>
<text x="383.59999999999997" y="340.84000000000003" font-size="7.6" text-anchor="end" stroke="#231f20" stroke-width="0.32">40</text>
<line x1="386.59999999999997" y1="349.82" x2="389.2" y2="349.82" stroke="#231f20" stroke-width="0.9"/>
<text x="383.59999999999997" y="352.42" font-size="7.6" text-anchor="end" stroke="#231f20" stroke-width="0.32">20</text>
<line x1="386.59999999999997" y1="361.4" x2="389.2" y2="361.4" stroke="#231f20" stroke-width="0.9"/>
<text x="383.59999999999997" y="364.0" font-size="7.6" text-anchor="end" stroke="#231f20" stroke-width="0.32">0</text>
<text x="398" y="372.5" font-size="7.6" text-anchor="middle" stroke="#231f20" stroke-width="0.32">10</text>
<line x1="398" y1="361.4" x2="398" y2="363.59999999999997" stroke="#231f20" stroke-width="0.9"/>
<text x="417.7" y="372.5" font-size="7.6" text-anchor="middle" stroke="#231f20" stroke-width="0.32">14</text>
<line x1="417.7" y1="361.4" x2="417.7" y2="363.59999999999997" stroke="#231f20" stroke-width="0.9"/>
<text x="437.3" y="372.5" font-size="7.6" text-anchor="middle" stroke="#231f20" stroke-width="0.32">16</text>
<line x1="437.3" y1="361.4" x2="437.3" y2="363.59999999999997" stroke="#231f20" stroke-width="0.9"/>
<text x="389.2" y="388" font-size="8.6" textLength="58.2" lengthAdjust="spacingAndGlyphs" stroke="#231f20" stroke-width="0.32">Days post BMT</text>
<text x="366.2" y="374.8" font-size="9.2" textLength="89.8" lengthAdjust="spacingAndGlyphs" transform="rotate(-90 366.2 374.8)" stroke="#231f20" stroke-width="0.32">F4/80<tspan font-size="5" dy="-3">+</tspan><tspan dy="3">Vcam-1</tspan><tspan font-size="5" dy="-3">+</tspan><tspan dy="3">cells%</tspan></text>
<line x1="398" y1="312.29049999999995" x2="398" y2="317.29049999999995" stroke="#222" stroke-width="0.8"/>
<line x1="417.7" y1="316.133" x2="417.7" y2="322.133" stroke="#222" stroke-width="0.8"/>
<line x1="437.3" y1="323.9495" x2="437.3" y2="329.9495" stroke="#222" stroke-width="0.8"/>
<path d="M398.00,314.79 L417.70,319.13 L437.30,326.95" fill="none" stroke="#5aa832" stroke-width="1.4"/>
<circle cx="398.00" cy="314.79" r="0.99" fill="#5aa832"/>
<circle cx="417.70" cy="319.13" r="0.99" fill="#5aa832"/>
<circle cx="437.30" cy="326.95" r="0.99" fill="#5aa832"/>
<line x1="398" y1="324.739" x2="398" y2="329.739" stroke="#222" stroke-width="0.8"/>
<line x1="417.7" y1="331.029" x2="417.7" y2="335.029" stroke="#222" stroke-width="0.8"/>
<line x1="437.3" y1="325.976" x2="437.3" y2="331.976" stroke="#222" stroke-width="0.8"/>
<path d="M398.00,327.24 L417.70,333.03 L437.30,328.98" fill="none" stroke="#2b4a95" stroke-width="1.4"/>
<circle cx="398.00" cy="327.24" r="0.99" fill="#2b4a95"/>
<circle cx="417.70" cy="333.03" r="0.99" fill="#2b4a95"/>
<circle cx="437.30" cy="328.98" r="0.99" fill="#2b4a95"/>
<line x1="398" y1="329.71299999999997" x2="398" y2="331.71299999999997" stroke="#222" stroke-width="0.8"/>
<line x1="417.7" y1="349.399" x2="417.7" y2="351.399" stroke="#222" stroke-width="0.8"/>
<line x1="437.3" y1="349.399" x2="437.3" y2="351.399" stroke="#222" stroke-width="0.8"/>
<path d="M398.00,330.71 L417.70,350.40 L437.30,350.40" fill="none" stroke="#b3173f" stroke-width="1.4"/>
<circle cx="398.00" cy="330.71" r="0.99" fill="#b3173f"/>
<circle cx="417.70" cy="350.40" r="0.99" fill="#b3173f"/>
<circle cx="437.30" cy="350.40" r="0.99" fill="#b3173f"/>
<line x1="443.5" y1="322.5" x2="448.5" y2="322.5" stroke="#b3173f" stroke-width="1.6"/>
<text x="451.3" y="325.1" font-size="7.4" textLength="53" lengthAdjust="spacingAndGlyphs" stroke="#231f20" stroke-width="0.32">in YFP<tspan font-size="4.6" dy="-2.8">-</tspan><tspan dy="2.8"> tdTomato</tspan><tspan font-size="4.6" dy="-2.8">+</tspan></text>
<line x1="443.5" y1="332.3" x2="448.5" y2="332.3" stroke="#5aa832" stroke-width="1.6"/>
<text x="451.3" y="334.90000000000003" font-size="7.4" textLength="53" lengthAdjust="spacingAndGlyphs" stroke="#231f20" stroke-width="0.32">in YFP<tspan font-size="4.6" dy="-2.8">+</tspan><tspan dy="2.8">tdTomato</tspan><tspan font-size="4.6" dy="-2.8">+</tspan></text>
<line x1="443.5" y1="341.5" x2="448.5" y2="341.5" stroke="#2b4a95" stroke-width="1.6"/>
<text x="451.3" y="344.1" font-size="7.4" textLength="53" lengthAdjust="spacingAndGlyphs" stroke="#231f20" stroke-width="0.32">in YFP<tspan font-size="4.6" dy="-2.8">+</tspan><tspan dy="2.8">tdTomato</tspan><tspan font-size="4.6" dy="-2.8">-</tspan></text>
<text x="8.8" y="405.8" font-size="11.5" textLength="5.6" lengthAdjust="spacingAndGlyphs" stroke="#231f20" stroke-width="0.32">E</text>
<line x1="72.5" y1="403.5" x2="90.5" y2="403.5" stroke="#231f20" stroke-width="1.1"/>
<line x1="158.9" y1="403.5" x2="177.9" y2="403.5" stroke="#231f20" stroke-width="1.1"/>
<text x="96.1" y="406.3" font-size="8.0" textLength="11.2" lengthAdjust="spacingAndGlyphs" stroke="#231f20" stroke-width="0.32">YFP</text>
<text x="107.5" y="404.4" font-size="5.6" textLength="9.4" lengthAdjust="spacingAndGlyphs" stroke="#231f20" stroke-width="0.15">neg</text>
<text x="117.6" y="406.3" font-size="8.0" textLength="30.6" lengthAdjust="spacingAndGlyphs" stroke="#231f20" stroke-width="0.32">tdTomato</text>
<text x="148.6" y="404.4" font-size="5.6" textLength="2.6" lengthAdjust="spacingAndGlyphs" stroke="#231f20" stroke-width="0.15">+</text>
<line x1="216" y1="403.5" x2="234.6" y2="403.5" stroke="#231f20" stroke-width="1.1"/>
<line x1="302.7" y1="403.5" x2="321.5" y2="403.5" stroke="#231f20" stroke-width="1.1"/>
<text x="242.6" y="406.3" font-size="8.0" textLength="11.5" lengthAdjust="spacingAndGlyphs" stroke="#231f20" stroke-width="0.32">YFP</text>
<text x="254.4" y="404.4" font-size="5.6" textLength="2.6" lengthAdjust="spacingAndGlyphs" stroke="#231f20" stroke-width="0.15">+</text>
<text x="259.3" y="406.3" font-size="8.0" textLength="31.7" lengthAdjust="spacingAndGlyphs" stroke="#231f20" stroke-width="0.32">tdTomato</text>
<text x="291.4" y="404.4" font-size="5.6" textLength="2.6" lengthAdjust="spacingAndGlyphs" stroke="#231f20" stroke-width="0.15">+</text>
<line x1="360.2" y1="403.5" x2="377.5" y2="403.5" stroke="#231f20" stroke-width="1.1"/>
<line x1="446.7" y1="403.5" x2="464.6" y2="403.5" stroke="#231f20" stroke-width="1.1"/>
<text x="383" y="406.3" font-size="8.0" textLength="12.3" lengthAdjust="spacingAndGlyphs" stroke="#231f20" stroke-width="0.32">YFP</text>
<text x="395.6" y="404.4" font-size="5.6" textLength="2.6" lengthAdjust="spacingAndGlyphs" stroke="#231f20" stroke-width="0.15">+</text>
<text x="400.2" y="406.3" font-size="8.0" textLength="31.6" lengthAdjust="spacingAndGlyphs" stroke="#231f20" stroke-width="0.32">tdTomato</text>
<text x="432.1" y="404.4" font-size="5.6" textLength="9.8" lengthAdjust="spacingAndGlyphs" stroke="#231f20" stroke-width="0.15">neg</text>
<text x="25.3" y="438.9" font-size="8" textLength="21.2" lengthAdjust="spacingAndGlyphs" stroke="#231f20" stroke-width="0.32">Day10</text>
<text x="25.3" y="488.4" font-size="8" textLength="21.2" lengthAdjust="spacingAndGlyphs" stroke="#231f20" stroke-width="0.32">Day14</text>
<text x="25.3" y="544.4" font-size="8" textLength="21.2" lengthAdjust="spacingAndGlyphs" stroke="#231f20" stroke-width="0.32">Day16</text>
<text x="18.6" y="535.8" font-size="7.2" textLength="100.4" lengthAdjust="spacingAndGlyphs" transform="rotate(-90 18.6 535.8)" stroke="#231f20" stroke-width="0.32">Gated on CD45.2<tspan font-size="4.4" dy="-2.6">+</tspan><tspan dy="2.6"> Aggregates</tspan></text>
<text x="56.0" y="567.3" font-size="9.6" textLength="27" lengthAdjust="spacingAndGlyphs" transform="rotate(-90 56.0 567.3)" stroke="#231f20" stroke-width="0.32">CD11b</text>
<text x="80.0" y="579.4" font-size="9.6" textLength="19.5" lengthAdjust="spacingAndGlyphs" stroke="#231f20" stroke-width="0.32">Ly6C</text>
<text x="129.6" y="567.4" font-size="9.6" textLength="23.7" lengthAdjust="spacingAndGlyphs" transform="rotate(-90 129.6 567.4)" stroke="#231f20" stroke-width="0.32">Count</text>
<text x="151.5" y="579.4" font-size="9.6" textLength="18.2" lengthAdjust="spacingAndGlyphs" stroke="#231f20" stroke-width="0.32">F/80</text>
<text x="199.8" y="567.3" font-size="9.6" textLength="27" lengthAdjust="spacingAndGlyphs" transform="rotate(-90 199.8 567.3)" stroke="#231f20" stroke-width="0.32">CD11b</text>
<text x="223.8" y="579.4" font-size="9.6" textLength="19.5" lengthAdjust="spacingAndGlyphs" stroke="#231f20" stroke-width="0.32">Ly6C</text>
<text x="273.2" y="567.4" font-size="9.6" textLength="23.7" lengthAdjust="spacingAndGlyphs" transform="rotate(-90 273.2 567.4)" stroke="#231f20" stroke-width="0.32">Count</text>
<text x="290.4" y="579.4" font-size="9.6" textLength="23.3" lengthAdjust="spacingAndGlyphs" stroke="#231f20" stroke-width="0.32">F4/80</text>
<text x="343.6" y="567.3" font-size="9.6" textLength="27" lengthAdjust="spacingAndGlyphs" transform="rotate(-90 343.6 567.3)" stroke="#231f20" stroke-width="0.32">CD11b</text>
<text x="367.6" y="579.4" font-size="9.6" textLength="19.5" lengthAdjust="spacingAndGlyphs" stroke="#231f20" stroke-width="0.32">Ly6C</text>
<text x="417.2" y="567.4" font-size="9.6" textLength="23.7" lengthAdjust="spacingAndGlyphs" transform="rotate(-90 417.2 567.4)" stroke="#231f20" stroke-width="0.32">Count</text>
<text x="434.4" y="579.4" font-size="9.6" textLength="23.3" lengthAdjust="spacingAndGlyphs" stroke="#231f20" stroke-width="0.32">F4/80</text>
<text x="8.9" y="605.8" font-size="11" textLength="5" lengthAdjust="spacingAndGlyphs" stroke="#231f20" stroke-width="0.32">F</text>
<line x1="81.4" y1="603.2" x2="153.9" y2="603.2" stroke="#231f20" stroke-width="1.1"/>
<text x="164.5" y="606.4" font-size="9" textLength="16.5" lengthAdjust="spacingAndGlyphs" stroke="#231f20" stroke-width="0.32">EBIs</text>
<line x1="193" y1="603.2" x2="268.7" y2="603.2" stroke="#231f20" stroke-width="1.1"/>
<line x1="45.5" y1="614" x2="45.5" y2="671.2" stroke="#231f20" stroke-width="1.1"/>
<line x1="45.5" y1="670.7" x2="103" y2="670.7" stroke="#231f20" stroke-width="1.1"/>
<line x1="42.9" y1="615.5" x2="45.5" y2="615.5" stroke="#231f20" stroke-width="0.9"/>
<text x="39.9" y="618.1" font-size="7.6" text-anchor="end" stroke="#231f20" stroke-width="0.32">80</text>
<line x1="42.9" y1="629.3000000000001" x2="45.5" y2="629.3000000000001" stroke="#231f20" stroke-width="0.9"/>
<text x="39.9" y="631.9000000000001" font-size="7.6" text-anchor="end" stroke="#231f20" stroke-width="0.32">60</text>
<line x1="42.9" y1="643.1" x2="45.5" y2="643.1" stroke="#231f20" stroke-width="0.9"/>
<text x="39.9" y="645.7" font-size="7.6" text-anchor="end" stroke="#231f20" stroke-width="0.32">40</text>
<line x1="42.9" y1="656.9000000000001" x2="45.5" y2="656.9000000000001" stroke="#231f20" stroke-width="0.9"/>
<text x="39.9" y="659.5000000000001" font-size="7.6" text-anchor="end" stroke="#231f20" stroke-width="0.32">20</text>
<line x1="42.9" y1="670.7" x2="45.5" y2="670.7" stroke="#231f20" stroke-width="0.9"/>
<text x="39.9" y="673.3000000000001" font-size="7.6" text-anchor="end" stroke="#231f20" stroke-width="0.32">0</text>
<text x="55.6" y="683.7" font-size="7.6" text-anchor="middle" stroke="#231f20" stroke-width="0.32">10</text>
<line x1="55.6" y1="670.7" x2="55.6" y2="672.9000000000001" stroke="#231f20" stroke-width="0.9"/>
<text x="74.5" y="683.7" font-size="7.6" text-anchor="middle" stroke="#231f20" stroke-width="0.32">14</text>
<line x1="74.5" y1="670.7" x2="74.5" y2="672.9000000000001" stroke="#231f20" stroke-width="0.9"/>
<text x="93.1" y="683.7" font-size="7.6" text-anchor="middle" stroke="#231f20" stroke-width="0.32">16</text>
<line x1="93.1" y1="670.7" x2="93.1" y2="672.9000000000001" stroke="#231f20" stroke-width="0.9"/>
<text x="4.7" y="684.2" font-size="8.6" textLength="38.7" lengthAdjust="spacingAndGlyphs" stroke="#231f20" stroke-width="0.32">Days post</text>
<text x="15.9" y="695.2" font-size="8.6" textLength="16.9" lengthAdjust="spacingAndGlyphs" stroke="#231f20" stroke-width="0.32">BMT</text>
<text x="14.6" y="659.5" font-size="9.2" textLength="35" lengthAdjust="spacingAndGlyphs" transform="rotate(-90 14.6 659.5)" stroke="#231f20" stroke-width="0.32">%cells in</text>
<text x="26.7" y="673.3" font-size="9.2" textLength="60.3" lengthAdjust="spacingAndGlyphs" transform="rotate(-90 26.7 673.3)" stroke="#231f20" stroke-width="0.32">YFP<tspan font-size="5" dy="-3">-</tspan><tspan dy="3"> tdTomato</tspan><tspan font-size="5" dy="-3">+</tspan></text>
<path d="M52.50,670.70 L70.90,670.70 L88.90,670.70" fill="none" stroke="#b3173f" stroke-width="1.3" stroke-dasharray="1.8,1.4"/>
<path d="M49.97,672.54 L55.03,672.54 L52.50,668.17 Z" fill="#fff" stroke="#b3173f" stroke-width="0.9"/>
<path d="M68.37,672.54 L73.43,672.54 L70.90,668.17 Z" fill="#fff" stroke="#b3173f" stroke-width="0.9"/>
<path d="M86.37,672.54 L91.43,672.54 L88.90,668.17 Z" fill="#fff" stroke="#b3173f" stroke-width="0.9"/>
<path d="M52.50,663.80 L70.90,662.42 L88.90,668.63" fill="none" stroke="#b3173f" stroke-width="1.3" stroke-dasharray="1.8,1.4"/>
<line x1="70.9" y1="662.4200000000001" x2="70.9" y2="657.4200000000001" stroke="#222" stroke-width="0.7"/>
<line x1="69.80000000000001" y1="657.4200000000001" x2="72.0" y2="657.4200000000001" stroke="#222" stroke-width="0.7"/>
<circle cx="52.50" cy="663.80" r="2.30" fill="#fff" stroke="#b3173f" stroke-width="0.9"/>
<circle cx="70.90" cy="662.42" r="2.30" fill="#fff" stroke="#b3173f" stroke-width="0.9"/>
<circle cx="88.90" cy="668.63" r="2.30" fill="#fff" stroke="#b3173f" stroke-width="0.9"/>
<path d="M52.50,663.80 L70.90,651.38 L88.90,665.18" fill="none" stroke="#b3173f" stroke-width="1.3"/>
<line x1="52.5" y1="663.8000000000001" x2="52.5" y2="659.8000000000001" stroke="#222" stroke-width="0.7"/>
<line x1="51.4" y1="659.8000000000001" x2="53.6" y2="659.8000000000001" stroke="#222" stroke-width="0.7"/>
<line x1="70.9" y1="651.38" x2="70.9" y2="641.38" stroke="#222" stroke-width="0.7"/>
<line x1="69.80000000000001" y1="641.38" x2="72.0" y2="641.38" stroke="#222" stroke-width="0.7"/>
<line x1="88.9" y1="665.1800000000001" x2="88.9" y2="660.1800000000001" stroke="#222" stroke-width="0.7"/>
<line x1="87.80000000000001" y1="660.1800000000001" x2="90.0" y2="660.1800000000001" stroke="#222" stroke-width="0.7"/>
<path d="M49.86,665.64 L55.14,665.64 L52.50,661.16 Z" fill="#b3173f"/>
<path d="M68.26,653.22 L73.55,653.22 L70.90,648.74 Z" fill="#b3173f"/>
<path d="M86.26,667.02 L91.55,667.02 L88.90,662.54 Z" fill="#b3173f"/>
<path d="M59.20,631.37 L78.30,652.76 L96.30,641.03" fill="none" stroke="#b3173f" stroke-width="1.3"/>
<line x1="59.2" y1="631.37" x2="59.2" y2="626.37" stroke="#222" stroke-width="0.7"/>
<line x1="58.1" y1="626.37" x2="60.300000000000004" y2="626.37" stroke="#222" stroke-width="0.7"/>
<line x1="78.3" y1="652.76" x2="78.3" y2="648.76" stroke="#222" stroke-width="0.7"/>
<line x1="77.2" y1="648.76" x2="79.39999999999999" y2="648.76" stroke="#222" stroke-width="0.7"/>
<line x1="96.3" y1="641.0300000000001" x2="96.3" y2="639.0300000000001" stroke="#222" stroke-width="0.7"/>
<line x1="95.2" y1="639.0300000000001" x2="97.39999999999999" y2="639.0300000000001" stroke="#222" stroke-width="0.7"/>
<path d="M56.56,629.53 L61.84,629.53 L59.20,634.01 Z" fill="#b3173f"/>
<path d="M75.66,650.92 L80.94,650.92 L78.30,655.40 Z" fill="#b3173f"/>
<path d="M93.66,639.19 L98.94,639.19 L96.30,643.68 Z" fill="#b3173f"/>
<line x1="144.4" y1="614" x2="144.4" y2="671.2" stroke="#231f20" stroke-width="1.1"/>
<line x1="144.4" y1="670.7" x2="203" y2="670.7" stroke="#231f20" stroke-width="1.1"/>
<line x1="141.8" y1="615.5" x2="144.4" y2="615.5" stroke="#231f20" stroke-width="0.9"/>
<text x="138.8" y="618.1" font-size="7.6" text-anchor="end" stroke="#231f20" stroke-width="0.32">100</text>
<line x1="141.8" y1="626.5400000000001" x2="144.4" y2="626.5400000000001" stroke="#231f20" stroke-width="0.9"/>
<text x="138.8" y="629.1400000000001" font-size="7.6" text-anchor="end" stroke="#231f20" stroke-width="0.32">80</text>
<line x1="141.8" y1="637.58" x2="144.4" y2="637.58" stroke="#231f20" stroke-width="0.9"/>
<text x="138.8" y="640.1800000000001" font-size="7.6" text-anchor="end" stroke="#231f20" stroke-width="0.32">60</text>
<line x1="141.8" y1="648.62" x2="144.4" y2="648.62" stroke="#231f20" stroke-width="0.9"/>
<text x="138.8" y="651.22" font-size="7.6" text-anchor="end" stroke="#231f20" stroke-width="0.32">40</text>
<line x1="141.8" y1="659.6600000000001" x2="144.4" y2="659.6600000000001" stroke="#231f20" stroke-width="0.9"/>
<text x="138.8" y="662.2600000000001" font-size="7.6" text-anchor="end" stroke="#231f20" stroke-width="0.32">20</text>
<line x1="141.8" y1="670.7" x2="144.4" y2="670.7" stroke="#231f20" stroke-width="0.9"/>
<text x="138.8" y="673.3000000000001" font-size="7.6" text-anchor="end" stroke="#231f20" stroke-width="0.32">0</text>
<text x="156" y="683.7" font-size="7.6" text-anchor="middle" stroke="#231f20" stroke-width="0.32">10</text>
<line x1="156" y1="670.7" x2="156" y2="672.9000000000001" stroke="#231f20" stroke-width="0.9"/>
<text x="174.5" y="683.7" font-size="7.6" text-anchor="middle" stroke="#231f20" stroke-width="0.32">14</text>
<line x1="174.5" y1="670.7" x2="174.5" y2="672.9000000000001" stroke="#231f20" stroke-width="0.9"/>
<text x="193.1" y="683.7" font-size="7.6" text-anchor="middle" stroke="#231f20" stroke-width="0.32">16</text>
<line x1="193.1" y1="670.7" x2="193.1" y2="672.9000000000001" stroke="#231f20" stroke-width="0.9"/>
<text x="113.2" y="654.2" font-size="9.2" textLength="23.2" lengthAdjust="spacingAndGlyphs" transform="rotate(-90 113.2 654.2)" stroke="#231f20" stroke-width="0.32">%cells</text>
<text x="124.2" y="677.5" font-size="9.2" textLength="69.8" lengthAdjust="spacingAndGlyphs" transform="rotate(-90 124.2 677.5)" stroke="#231f20" stroke-width="0.32">in YFP<tspan font-size="5" dy="-3">+</tspan><tspan dy="3">tdTomato</tspan><tspan font-size="5" dy="-3">+</tspan></text>
<path d="M150.80,670.50 L168.80,670.50 L187.80,670.50" fill="none" stroke="#5aa832" stroke-width="1.3" stroke-dasharray="1.8,1.4"/>
<path d="M148.27,672.34 L153.33,672.34 L150.80,667.97 Z" fill="#fff" stroke="#5aa832" stroke-width="0.9"/>
<path d="M166.27,672.34 L171.33,672.34 L168.80,667.97 Z" fill="#fff" stroke="#5aa832" stroke-width="0.9"/>
<path d="M185.27,672.34 L190.33,672.34 L187.80,667.97 Z" fill="#fff" stroke="#5aa832" stroke-width="0.9"/>
<path d="M156.00,669.60 L174.50,669.60 L193.00,669.60" fill="none" stroke="#5aa832" stroke-width="1.3"/>
<path d="M153.35,671.44 L158.65,671.44 L156.00,666.95 Z" fill="#5aa832"/>
<path d="M171.85,671.44 L177.15,671.44 L174.50,666.95 Z" fill="#5aa832"/>
<path d="M190.35,671.44 L195.65,671.44 L193.00,666.95 Z" fill="#5aa832"/>
<path d="M150.80,667.94 L168.80,664.63 L187.80,665.73" fill="none" stroke="#5aa832" stroke-width="1.3" stroke-dasharray="1.8,1.4"/>
<circle cx="150.80" cy="667.94" r="2.30" fill="#fff" stroke="#5aa832" stroke-width="0.9"/>
<circle cx="168.80" cy="664.63" r="2.30" fill="#fff" stroke="#5aa832" stroke-width="0.9"/>
<circle cx="187.80" cy="665.73" r="2.30" fill="#fff" stroke="#5aa832" stroke-width="0.9"/>
<circle cx="156.00" cy="669.00" r="1.10" fill="#111"/>
<circle cx="174.50" cy="669.00" r="1.10" fill="#111"/>
<circle cx="193.00" cy="669.00" r="1.10" fill="#111"/>
<path d="M156.00,622.12 L174.50,625.44 L193.10,627.09" fill="none" stroke="#5aa832" stroke-width="1.3"/>
<line x1="156" y1="622.124" x2="156" y2="620.124" stroke="#222" stroke-width="0.7"/>
<line x1="154.9" y1="620.124" x2="157.1" y2="620.124" stroke="#222" stroke-width="0.7"/>
<line x1="174.5" y1="625.436" x2="174.5" y2="623.436" stroke="#222" stroke-width="0.7"/>
<line x1="173.4" y1="623.436" x2="175.6" y2="623.436" stroke="#222" stroke-width="0.7"/>
<path d="M153.35,620.28 L158.65,620.28 L156.00,624.77 Z" fill="#5aa832"/>
<path d="M171.85,623.60 L177.15,623.60 L174.50,628.08 Z" fill="#5aa832"/>
<path d="M190.45,625.25 L195.75,625.25 L193.10,629.74 Z" fill="#5aa832"/>
<line x1="243.6" y1="614" x2="243.6" y2="671.7" stroke="#231f20" stroke-width="1.1"/>
<line x1="243.6" y1="671.2" x2="300.2" y2="671.2" stroke="#231f20" stroke-width="1.1"/>
<line x1="241.0" y1="615.2" x2="243.6" y2="615.2" stroke="#231f20" stroke-width="0.9"/>
<text x="238.0" y="617.8000000000001" font-size="7.6" text-anchor="end" stroke="#231f20" stroke-width="0.32">80</text>
<line x1="241.0" y1="629.2" x2="243.6" y2="629.2" stroke="#231f20" stroke-width="0.9"/>
<text x="238.0" y="631.8000000000001" font-size="7.6" text-anchor="end" stroke="#231f20" stroke-width="0.32">60</text>
<line x1="241.0" y1="643.2" x2="243.6" y2="643.2" stroke="#231f20" stroke-width="0.9"/>
<text x="238.0" y="645.8000000000001" font-size="7.6" text-anchor="end" stroke="#231f20" stroke-width="0.32">40</text>
<line x1="241.0" y1="657.2" x2="243.6" y2="657.2" stroke="#231f20" stroke-width="0.9"/>
<text x="238.0" y="659.8000000000001" font-size="7.6" text-anchor="end" stroke="#231f20" stroke-width="0.32">20</text>
<line x1="241.0" y1="671.2" x2="243.6" y2="671.2" stroke="#231f20" stroke-width="0.9"/>
<text x="238.0" y="673.8000000000001" font-size="7.6" text-anchor="end" stroke="#231f20" stroke-width="0.32">0</text>
<text x="253.8" y="683.9" font-size="7.6" text-anchor="middle" stroke="#231f20" stroke-width="0.32">10</text>
<line x1="253.8" y1="671.2" x2="253.8" y2="673.4000000000001" stroke="#231f20" stroke-width="0.9"/>
<text x="272.2" y="683.9" font-size="7.6" text-anchor="middle" stroke="#231f20" stroke-width="0.32">14</text>
<line x1="272.2" y1="671.2" x2="272.2" y2="673.4000000000001" stroke="#231f20" stroke-width="0.9"/>
<text x="291" y="683.9" font-size="7.6" text-anchor="middle" stroke="#231f20" stroke-width="0.32">16</text>
<line x1="291" y1="671.2" x2="291" y2="673.4000000000001" stroke="#231f20" stroke-width="0.9"/>
<text x="213.6" y="661" font-size="9.2" textLength="37.7" lengthAdjust="spacingAndGlyphs" transform="rotate(-90 213.6 661)" stroke="#231f20" stroke-width="0.32">% cells in</text>
<text x="225.7" y="673" font-size="9.2" textLength="60.5" lengthAdjust="spacingAndGlyphs" transform="rotate(-90 225.7 673)" stroke="#231f20" stroke-width="0.32">YFP<tspan font-size="5" dy="-3">+</tspan><tspan dy="3"> tdTomato</tspan><tspan font-size="5" dy="-3">-</tspan></text>
<path d="M253.80,671.20 L272.20,670.50 L291.00,669.10" fill="none" stroke="#2b4a95" stroke-width="1.3" stroke-dasharray="1.8,1.4"/>
<path d="M251.27,673.04 L256.33,673.04 L253.80,668.67 Z" fill="#fff" stroke="#2b4a95" stroke-width="0.9"/>
<path d="M269.67,672.34 L274.73,672.34 L272.20,667.97 Z" fill="#fff" stroke="#2b4a95" stroke-width="0.9"/>
<path d="M288.47,670.94 L293.53,670.94 L291.00,666.57 Z" fill="#fff" stroke="#2b4a95" stroke-width="0.9"/>
<path d="M253.80,668.75 L272.20,665.60 L291.00,665.60" fill="none" stroke="#2b4a95" stroke-width="1.3"/>
<path d="M251.16,670.59 L256.44,670.59 L253.80,666.11 Z" fill="#2b4a95"/>
<path d="M269.56,667.44 L274.84,667.44 L272.20,662.96 Z" fill="#2b4a95"/>
<path d="M288.36,667.44 L293.64,667.44 L291.00,662.96 Z" fill="#2b4a95"/>
<path d="M253.80,659.30 L272.20,653.00 L291.00,649.50" fill="none" stroke="#2b4a95" stroke-width="1.3" stroke-dasharray="1.8,1.4"/>
<circle cx="253.80" cy="659.30" r="2.30" fill="#fff" stroke="#2b4a95" stroke-width="0.9"/>
<circle cx="272.20" cy="653.00" r="2.30" fill="#fff" stroke="#2b4a95" stroke-width="0.9"/>
<circle cx="291.00" cy="649.50" r="2.30" fill="#fff" stroke="#2b4a95" stroke-width="0.9"/>
<path d="M253.80,622.20 L272.20,646.70 L291.00,648.10" fill="none" stroke="#2b4a95" stroke-width="1.3"/>
<path d="M251.16,620.36 L256.44,620.36 L253.80,624.85 Z" fill="#2b4a95"/>
<path d="M269.56,644.86 L274.84,644.86 L272.20,649.35 Z" fill="#2b4a95"/>
<path d="M288.36,646.26 L293.64,646.26 L291.00,650.75 Z" fill="#2b4a95"/>
<line x1="299" y1="630.4" x2="306.5" y2="630.4" stroke="#222" stroke-width="1.2"/>
<line x1="299" y1="639.6" x2="306.5" y2="639.6" stroke="#222" stroke-width="1.2"/>
<line x1="299" y1="648.2" x2="306.5" y2="648.2" stroke="#222" stroke-width="1.2"/>
<line x1="299" y1="657.2" x2="306.5" y2="657.2" stroke="#222" stroke-width="1.2"/>
<path d="M300.4,632.1 L305.2,632.1 L302.8,627.9 Z" fill="#fff" stroke="#222" stroke-width="1.1"/>
<text x="307.7" y="633" font-size="7.6" textLength="33.4" lengthAdjust="spacingAndGlyphs" stroke="#231f20" stroke-width="0.32">Ly6C<tspan font-size="4.8" dy="-2.8">lo</tspan><tspan dy="2.8">MOs</tspan></text>
<circle cx="302.8" cy="639.6" r="2" fill="#fff" stroke="#222" stroke-width="1.1"/>
<text x="307.7" y="642.2" font-size="7.6" textLength="33.4" lengthAdjust="spacingAndGlyphs" stroke="#231f20" stroke-width="0.32">Ly6C<tspan font-size="4.8" dy="-2.8">hi</tspan><tspan dy="2.8">MOs</tspan></text>
<path d="M300.2,649.8 L305.4,649.8 L302.8,645.4 Z" fill="#222"/>
<text x="307.7" y="650.3" font-size="7.6" textLength="27.1" lengthAdjust="spacingAndGlyphs" stroke="#231f20" stroke-width="0.32">PreRPMs</text>
<path d="M300.2,655.4 L305.4,655.4 L302.8,659.8 Z" fill="#222"/>
<text x="307.7" y="659.5" font-size="7.6" textLength="17.3" lengthAdjust="spacingAndGlyphs" stroke="#231f20" stroke-width="0.32">RPMs</text>
<text x="352.1" y="605.6" font-size="11" textLength="6.5" lengthAdjust="spacingAndGlyphs" stroke="#231f20" stroke-width="0.32">G</text>
<text x="403" y="605.6" font-size="8.6" textLength="16.6" lengthAdjust="spacingAndGlyphs" stroke="#231f20" stroke-width="0.32">EBIs</text>
<line x1="383.3" y1="610.6" x2="383.3" y2="671.0" stroke="#231f20" stroke-width="1.1"/>
<line x1="383.3" y1="670.5" x2="435.2" y2="670.5" stroke="#231f20" stroke-width="1.1"/>
<line x1="380.7" y1="613.0" x2="383.3" y2="613.0" stroke="#231f20" stroke-width="0.9"/>
<text x="377.7" y="615.6" font-size="7.6" text-anchor="end" stroke="#231f20" stroke-width="0.32">100</text>
<line x1="380.7" y1="641.75" x2="383.3" y2="641.75" stroke="#231f20" stroke-width="0.9"/>
<text x="377.7" y="644.35" font-size="7.6" text-anchor="end" stroke="#231f20" stroke-width="0.32">50</text>
<line x1="380.7" y1="670.5" x2="383.3" y2="670.5" stroke="#231f20" stroke-width="0.9"/>
<text x="377.7" y="673.1" font-size="7.6" text-anchor="end" stroke="#231f20" stroke-width="0.32">0</text>
<text x="392.6" y="683.4" font-size="7.6" text-anchor="middle" stroke="#231f20" stroke-width="0.32">10</text>
<line x1="392.6" y1="670.5" x2="392.6" y2="672.7" stroke="#231f20" stroke-width="0.9"/>
<text x="411.6" y="683.4" font-size="7.6" text-anchor="middle" stroke="#231f20" stroke-width="0.32">14</text>
<line x1="411.6" y1="670.5" x2="411.6" y2="672.7" stroke="#231f20" stroke-width="0.9"/>
<text x="430.7" y="683.4" font-size="7.6" text-anchor="middle" stroke="#231f20" stroke-width="0.32">16</text>
<line x1="430.7" y1="670.5" x2="430.7" y2="672.7" stroke="#231f20" stroke-width="0.9"/>
<text x="383.3" y="697.8" font-size="8.6" textLength="58.8" lengthAdjust="spacingAndGlyphs" stroke="#231f20" stroke-width="0.32">Days post BMT</text>
<text x="359.6" y="666" font-size="9.2" textLength="52" lengthAdjust="spacingAndGlyphs" transform="rotate(-90 359.6 666)" stroke="#231f20" stroke-width="0.32">F4/80<tspan font-size="5" dy="-3">+</tspan><tspan dy="3">cells%</tspan></text>
<path d="M392.60,614.73 L411.60,614.15 L430.70,614.15" fill="none" stroke="#5aa832" stroke-width="1.4"/>
<circle cx="392.60" cy="614.73" r="0.99" fill="#5aa832"/>
<circle cx="411.60" cy="614.15" r="0.99" fill="#5aa832"/>
<circle cx="430.70" cy="614.15" r="0.99" fill="#5aa832"/>
<path d="M392.60,621.62 L411.60,637.73 L430.70,639.45" fill="none" stroke="#2b4a95" stroke-width="1.4"/>
<circle cx="392.60" cy="621.62" r="0.99" fill="#2b4a95"/>
<circle cx="411.60" cy="637.73" r="0.99" fill="#2b4a95"/>
<circle cx="430.70" cy="639.45" r="0.99" fill="#2b4a95"/>
<path d="M392.60,623.35 L411.60,637.15 L430.70,622.77" fill="none" stroke="#b3173f" stroke-width="1.4"/>
<circle cx="392.60" cy="623.35" r="0.99" fill="#b3173f"/>
<circle cx="411.60" cy="637.15" r="0.99" fill="#b3173f"/>
<circle cx="430.70" cy="622.77" r="0.99" fill="#b3173f"/>
<line x1="442.1" y1="630.6" x2="448" y2="630.6" stroke="#5aa832" stroke-width="1.6"/>
<text x="450.8" y="633.2" font-size="7.4" textLength="51" lengthAdjust="spacingAndGlyphs" stroke="#231f20" stroke-width="0.32">YFP<tspan font-size="4.6" dy="-2.8">+</tspan><tspan dy="2.8"> tdTomato</tspan><tspan font-size="4.6" dy="-2.8">+</tspan></text>
<line x1="442.1" y1="640.7" x2="448" y2="640.7" stroke="#2b4a95" stroke-width="1.6"/>
<text x="450.8" y="643.3000000000001" font-size="7.4" textLength="51" lengthAdjust="spacingAndGlyphs" stroke="#231f20" stroke-width="0.32">YFP<tspan font-size="4.6" dy="-2.8">+</tspan><tspan dy="2.8">tdTomato</tspan><tspan font-size="4.6" dy="-2.8">-</tspan></text>
<line x1="442.1" y1="651" x2="448" y2="651" stroke="#b3173f" stroke-width="1.6"/>
<text x="450.8" y="653.6" font-size="7.4" textLength="51" lengthAdjust="spacingAndGlyphs" stroke="#231f20" stroke-width="0.32">YFP<tspan font-size="4.6" dy="-2.8">-</tspan><tspan dy="2.8"> tdTomato</tspan><tspan font-size="4.6" dy="-2.8">+</tspan></text>
<g clip-path="url(#cB00)"><g filter="url(#bl)"><path d="M62.05,147.13 L62.59,138.76 L64.18,130.40 L65.19,124.14 L67.31,120.46 L72.57,119.41 L77.83,119.93 L81.01,122.04 L83.08,126.19 L85.21,129.35 L86.80,134.61 L86.27,140.87 L84.14,146.07 L79.95,149.23 L71.51,150.81 L65.19,150.28 Z" fill="#2b40aa" stroke-linejoin="round"/><ellipse cx="95.72" cy="118.35" rx="6.64" ry="7.36" fill="#2b40aa"/><path d="M64.18,145.23 L64.71,137.87 L66.30,131.03 L67.90,124.19 L72.67,122.09 L78.52,123.14 L82.23,128.40 L84.36,134.71 L83.83,141.02 L80.64,146.28 L72.67,148.39 L65.77,147.86 Z" fill="#3a6fd2" stroke-linejoin="round"/><ellipse cx="95.72" cy="118.35" rx="5.34" ry="5.93" fill="#3a6fd2"/><ellipse cx="77.29" cy="134.61" rx="6.90" ry="7.52" fill="#55c1e6"/><ellipse cx="77.29" cy="134.61" rx="5.87" ry="6.50" fill="#55c1e6"/><ellipse cx="70.02" cy="145.55" rx="6.90" ry="4.79" fill="#55c1e6"/><ellipse cx="69.49" cy="145.55" rx="5.52" ry="3.76" fill="#55c1e6"/><ellipse cx="95.72" cy="118.35" rx="3.45" ry="3.42" fill="#55c1e6"/><ellipse cx="95.72" cy="118.35" rx="1.73" ry="1.71" fill="#55c1e6"/><ellipse cx="77.29" cy="134.61" rx="4.51" ry="5.00" fill="#92c73e"/><ellipse cx="69.49" cy="145.55" rx="4.25" ry="2.89" fill="#92c73e"/><ellipse cx="95.72" cy="118.35" rx="1.33" ry="1.32" fill="#92c73e"/><ellipse cx="69.49" cy="145.55" rx="3.06" ry="2.08" fill="#efe31e"/><ellipse cx="69.49" cy="145.55" rx="2.21" ry="1.50" fill="#f39b1f"/><ellipse cx="69.49" cy="145.55" rx="1.53" ry="1.04" fill="#e11b1e"/></g></g>
<rect x="62.05" y="111.04" width="17.52" height="29.98" fill="none" stroke="#8a8a8a" stroke-width="0.5"/><rect x="79.58" y="111.04" width="11.68" height="16.31" fill="none" stroke="#8a8a8a" stroke-width="0.5"/><rect x="91.79" y="111.04" width="18.05" height="29.98" fill="none" stroke="#8a8a8a" stroke-width="0.5"/><rect x="72.67" y="127.87" width="16.99" height="14.20" fill="none" stroke="#8a8a8a" stroke-width="0.5"/><rect x="61.76" y="112.44" width="7.35" height="3.06" fill="#fff" opacity="0.85"/><text x="62.05" y="115.25" font-size="3.6" fill="#333" stroke="#333" stroke-width="0.23" textLength="6.8" lengthAdjust="spacingAndGlyphs">13.2%</text><rect x="80.87" y="112.44" width="7.35" height="3.06" fill="#fff" opacity="0.85"/><text x="81.17" y="115.25" font-size="3.6" fill="#333" stroke="#333" stroke-width="0.23" textLength="6.8" lengthAdjust="spacingAndGlyphs">1.46%</text><rect x="101.58" y="112.44" width="7.35" height="3.06" fill="#fff" opacity="0.85"/><text x="101.88" y="115.25" font-size="3.6" fill="#333" stroke="#333" stroke-width="0.23" textLength="6.8" lengthAdjust="spacingAndGlyphs">7.80%</text><rect x="83.00" y="135.06" width="7.35" height="3.06" fill="#fff" opacity="0.85"/><text x="83.30" y="137.87" font-size="3.6" fill="#333" stroke="#333" stroke-width="0.23" textLength="6.8" lengthAdjust="spacingAndGlyphs">37.1%</text>
<g clip-path="url(#cB01)"><g filter="url(#bl)"><circle cx="152.11" cy="146.45" r="0.45" fill="#9a9a9a"/><circle cx="172.16" cy="124.64" r="0.45" fill="#9a9a9a"/><circle cx="163.61" cy="131.80" r="0.45" fill="#9a9a9a"/><circle cx="168.59" cy="144.29" r="0.45" fill="#9a9a9a"/><circle cx="150.82" cy="116.29" r="0.45" fill="#9a9a9a"/><circle cx="174.46" cy="131.18" r="0.45" fill="#9a9a9a"/><circle cx="172.12" cy="115.33" r="0.45" fill="#9a9a9a"/><circle cx="162.02" cy="141.82" r="0.45" fill="#9a9a9a"/><circle cx="155.12" cy="150.05" r="0.45" fill="#9a9a9a"/><circle cx="176.55" cy="116.38" r="0.45" fill="#9a9a9a"/><circle cx="148.64" cy="135.18" r="0.45" fill="#9a9a9a"/><circle cx="177.75" cy="129.29" r="0.45" fill="#9a9a9a"/><circle cx="154.73" cy="130.79" r="0.45" fill="#9a9a9a"/><circle cx="148.76" cy="123.41" r="0.45" fill="#9a9a9a"/><circle cx="161.78" cy="133.51" r="0.45" fill="#9a9a9a"/><circle cx="155.26" cy="123.75" r="0.45" fill="#9a9a9a"/><circle cx="154.80" cy="132.17" r="0.45" fill="#9a9a9a"/><circle cx="157.06" cy="116.04" r="0.45" fill="#9a9a9a"/><circle cx="174.52" cy="135.74" r="0.45" fill="#9a9a9a"/><circle cx="168.29" cy="122.10" r="0.45" fill="#9a9a9a"/><circle cx="179.45" cy="146.91" r="0.45" fill="#9a9a9a"/><circle cx="151.68" cy="127.50" r="0.45" fill="#9a9a9a"/><circle cx="170.82" cy="141.44" r="0.45" fill="#9a9a9a"/><circle cx="177.66" cy="130.79" r="0.45" fill="#9a9a9a"/><circle cx="174.27" cy="139.93" r="0.45" fill="#9a9a9a"/><path d="M141.51,150.18 L140.98,141.60 L141.51,133.08 L142.57,124.56 L144.75,118.14 L149.00,113.88 L155.42,109.62 L161.90,106.99 L168.33,105.89 L171.51,106.99 L170.45,110.67 L166.15,114.99 L160.79,120.30 L156.54,125.61 L153.30,130.98 L151.71,136.29 L150.64,142.71 L149.58,148.02 L146.87,151.23 L143.10,151.75 Z" fill="#2b40aa" stroke-linejoin="round"/><path d="M145.18,147.34 L145.71,136.29 L147.83,125.77 L154.20,117.88 L162.70,111.57 L168.54,107.89" fill="none" stroke="#2b40aa" stroke-width="6.37" stroke-linecap="round" stroke-linejoin="round"/><path d="M147.30,132.61 L149.95,122.61 L158.45,115.25 L165.88,109.99" fill="none" stroke="#2b40aa" stroke-width="7.43" stroke-linecap="round" stroke-linejoin="round"/><path d="M145.18,147.34 L145.71,136.29 L147.83,125.77 L154.20,117.88 L162.70,111.57 L168.54,107.89" fill="none" stroke="#3a6fd2" stroke-width="5.13" stroke-linecap="round" stroke-linejoin="round"/><path d="M147.30,132.61 L149.95,122.61 L158.45,115.25 L165.88,109.99" fill="none" stroke="#3a6fd2" stroke-width="5.98" stroke-linecap="round" stroke-linejoin="round"/><path d="M145.18,147.34 L145.71,136.29 L147.83,125.77 L154.20,117.88 L162.70,111.57 L168.54,107.89" fill="none" stroke="#55c1e6" stroke-width="3.89" stroke-linecap="round" stroke-linejoin="round"/><path d="M147.30,132.61 L149.95,122.61 L158.45,115.25 L165.88,109.99" fill="none" stroke="#55c1e6" stroke-width="4.53" stroke-linecap="round" stroke-linejoin="round"/><ellipse cx="161.90" cy="112.09" rx="7.59" ry="4.10" fill="#55c1e6" transform="rotate(-35 161.90 112.09)"/><ellipse cx="152.08" cy="121.04" rx="3.45" ry="2.05" fill="#55c1e6" transform="rotate(-45 152.08 121.04)"/><path d="M147.30,132.61 L149.95,122.61 L158.45,115.25 L165.88,109.99" fill="none" stroke="#92c73e" stroke-width="3.38" stroke-linecap="round" stroke-linejoin="round"/><ellipse cx="161.90" cy="112.09" rx="5.84" ry="3.16" fill="#92c73e" transform="rotate(-35 161.90 112.09)"/><ellipse cx="152.08" cy="121.04" rx="2.66" ry="1.58" fill="#92c73e" transform="rotate(-45 152.08 121.04)"/><ellipse cx="161.90" cy="112.09" rx="4.21" ry="2.27" fill="#efe31e" transform="rotate(-35 161.90 112.09)"/><ellipse cx="152.08" cy="121.04" rx="1.91" ry="1.14" fill="#efe31e" transform="rotate(-45 152.08 121.04)"/><ellipse cx="161.90" cy="112.09" rx="3.04" ry="1.64" fill="#f39b1f" transform="rotate(-35 161.90 112.09)"/><ellipse cx="161.90" cy="112.09" rx="2.10" ry="1.14" fill="#e11b1e" transform="rotate(-35 161.90 112.09)"/></g></g>
<rect x="152.61" y="105.78" width="23.36" height="20.51" fill="none" stroke="#8a8a8a" stroke-width="0.5"/><rect x="173.02" y="106.13" width="7.35" height="3.06" fill="#fff" opacity="0.85"/><text x="173.32" y="108.94" font-size="3.6" fill="#333" stroke="#333" stroke-width="0.23" textLength="6.8" lengthAdjust="spacingAndGlyphs">49.0%</text>
<g clip-path="url(#cB02)"><g filter="url(#bl)"><path d="M211.36,127.77 L213.48,125.09 L216.72,122.98 L220.44,121.88 L225.27,122.40 L229.57,124.56 L231.69,127.77 L230.63,132.03 L227.39,135.24 L224.21,137.34 L220.97,136.29 L218.84,137.87 L216.72,139.50 L218.31,141.60 L218.84,143.76 L217.78,146.97 L214.54,150.18 L211.36,150.18 L209.18,146.97 L209.71,142.71 L212.42,139.50 L213.48,136.29 L212.42,133.08 L211.36,130.98 Z" fill="#2b40aa" stroke-linejoin="round"/><ellipse cx="215.02" cy="134.71" rx="2.12" ry="2.63" fill="#2b40aa"/><ellipse cx="240.30" cy="116.56" rx="0.64" ry="0.63" fill="#2b40aa"/><ellipse cx="215.02" cy="134.71" rx="1.71" ry="2.12" fill="#3a6fd2"/><ellipse cx="222.99" cy="129.45" rx="9.66" ry="6.15" fill="#55c1e6"/><ellipse cx="222.99" cy="129.45" rx="8.28" ry="4.79" fill="#55c1e6"/><ellipse cx="224.05" cy="129.45" rx="4.83" ry="3.08" fill="#55c1e6"/><ellipse cx="213.48" cy="146.44" rx="3.80" ry="3.08" fill="#55c1e6"/><ellipse cx="213.48" cy="146.44" rx="2.76" ry="2.39" fill="#55c1e6"/><ellipse cx="222.99" cy="129.45" rx="6.37" ry="3.68" fill="#92c73e"/><ellipse cx="224.05" cy="129.45" rx="3.72" ry="2.37" fill="#92c73e"/><ellipse cx="213.48" cy="146.44" rx="2.12" ry="1.84" fill="#92c73e"/><ellipse cx="224.05" cy="129.45" rx="2.68" ry="1.70" fill="#efe31e"/><ellipse cx="224.05" cy="129.45" rx="1.93" ry="1.23" fill="#f39b1f"/><ellipse cx="224.05" cy="129.45" rx="1.34" ry="0.85" fill="#e11b1e"/></g></g>
<rect x="206.52" y="107.36" width="18.21" height="28.93" fill="none" stroke="#8a8a8a" stroke-width="0.5"/><rect x="224.74" y="107.36" width="11.79" height="16.67" fill="none" stroke="#8a8a8a" stroke-width="0.5"/><rect x="236.53" y="107.36" width="19.33" height="35.87" fill="none" stroke="#8a8a8a" stroke-width="0.5"/><rect x="216.72" y="124.03" width="17.15" height="11.20" fill="none" stroke="#8a8a8a" stroke-width="0.5"/><rect x="205.69" y="109.81" width="7.35" height="3.06" fill="#fff" opacity="0.85"/><text x="205.99" y="112.62" font-size="3.6" fill="#333" stroke="#333" stroke-width="0.23" textLength="6.8" lengthAdjust="spacingAndGlyphs">5.10%</text><rect x="225.50" y="109.81" width="7.35" height="3.06" fill="#fff" opacity="0.85"/><text x="225.80" y="112.62" font-size="3.6" fill="#333" stroke="#333" stroke-width="0.23" textLength="6.8" lengthAdjust="spacingAndGlyphs">0.62%</text><rect x="245.36" y="109.81" width="7.35" height="3.06" fill="#fff" opacity="0.85"/><text x="245.66" y="112.62" font-size="3.6" fill="#333" stroke="#333" stroke-width="0.23" textLength="6.8" lengthAdjust="spacingAndGlyphs">1.04%</text><rect x="227.15" y="134.01" width="7.35" height="3.06" fill="#fff" opacity="0.85"/><text x="227.45" y="136.82" font-size="3.6" fill="#333" stroke="#333" stroke-width="0.23" textLength="6.8" lengthAdjust="spacingAndGlyphs">76.8%</text>
<g clip-path="url(#cB03)"><g filter="url(#bl)"><path d="M297.34,117.88 L296.55,125.77 L295.48,133.66 L294.10,139.97" fill="none" stroke="#2b40aa" stroke-width="5.31" stroke-linecap="round" stroke-linejoin="round"/><ellipse cx="305.89" cy="111.78" rx="10.09" ry="4.21" fill="#2b40aa" transform="rotate(-30 305.89 111.78)"/><ellipse cx="294.64" cy="117.62" rx="0.80" ry="0.79" fill="#2b40aa"/><ellipse cx="291.98" cy="143.23" rx="0.96" ry="0.79" fill="#2b40aa"/><ellipse cx="292.51" cy="148.02" rx="0.80" ry="1.05" fill="#2b40aa"/><path d="M297.34,117.88 L296.55,125.77 L295.48,133.66 L294.10,139.97" fill="none" stroke="#3a6fd2" stroke-width="4.27" stroke-linecap="round" stroke-linejoin="round"/><ellipse cx="305.89" cy="111.78" rx="8.12" ry="3.39" fill="#3a6fd2" transform="rotate(-30 305.89 111.78)"/><path d="M297.34,117.88 L296.55,125.77 L295.48,133.66 L294.10,139.97" fill="none" stroke="#55c1e6" stroke-width="3.24" stroke-linecap="round" stroke-linejoin="round"/><ellipse cx="305.89" cy="111.78" rx="6.15" ry="2.57" fill="#55c1e6" transform="rotate(-30 305.89 111.78)"/><ellipse cx="306.64" cy="112.09" rx="9.66" ry="3.76" fill="#55c1e6" transform="rotate(-30 306.64 112.09)"/><ellipse cx="306.64" cy="112.09" rx="7.43" ry="2.89" fill="#92c73e" transform="rotate(-30 306.64 112.09)"/><ellipse cx="306.64" cy="112.09" rx="5.35" ry="2.08" fill="#efe31e" transform="rotate(-30 306.64 112.09)"/><ellipse cx="306.64" cy="112.09" rx="3.87" ry="1.50" fill="#f39b1f" transform="rotate(-30 306.64 112.09)"/><ellipse cx="306.64" cy="112.09" rx="2.68" ry="1.04" fill="#e11b1e" transform="rotate(-30 306.64 112.09)"/></g></g>
<rect x="297.61" y="105.78" width="23.36" height="20.51" fill="none" stroke="#8a8a8a" stroke-width="0.5"/><rect x="316.42" y="105.60" width="7.35" height="3.06" fill="#fff" opacity="0.85"/><text x="316.72" y="108.41" font-size="3.6" fill="#333" stroke="#333" stroke-width="0.23" textLength="6.8" lengthAdjust="spacingAndGlyphs">85.1%</text>
<g clip-path="url(#cB04)"><g filter="url(#bl)"><path d="M352.59,146.97 L353.12,139.50 L355.24,130.98 L357.42,124.56 L360.60,118.14 L367.08,115.51 L372.39,114.99 L378.87,113.88 L382.06,112.83 L388.48,111.78 L392.78,113.88 L393.84,120.30 L392.78,127.77 L390.66,132.03 L388.48,135.24 L384.23,138.39 L382.06,143.76 L379.93,141.60 L377.81,142.71 L375.63,146.97 L372.45,148.02 L369.21,146.97 L363.84,148.02 L358.48,149.60 L354.18,149.07 Z" fill="#2b40aa" stroke-linejoin="round"/><ellipse cx="385.83" cy="120.51" rx="5.84" ry="10.52" fill="#2b40aa"/><ellipse cx="373.51" cy="123.51" rx="1.86" ry="0.63" fill="#fff" transform="rotate(30 373.51 123.51)"/><ellipse cx="379.93" cy="126.72" rx="0.64" ry="1.58" fill="#fff"/><ellipse cx="386.36" cy="132.03" rx="1.59" ry="0.63" fill="#fff" transform="rotate(50 386.36 132.03)"/><ellipse cx="378.87" cy="130.98" rx="0.64" ry="1.32" fill="#fff"/><path d="M355.77,144.18 L358.96,131.03 L365.33,125.77 L373.29,125.77 L374.89,133.66 L373.29,141.55 L365.33,144.18 Z" fill="#3a6fd2" stroke-linejoin="round"/><ellipse cx="385.83" cy="120.51" rx="4.70" ry="8.47" fill="#3a6fd2"/><path d="M358.43,141.55 L361.08,131.03 L365.33,128.40 L371.70,128.40 L373.29,134.71 L370.64,139.97 L365.33,141.55 Z" fill="#55c1e6" stroke-linejoin="round"/><ellipse cx="367.08" cy="133.66" rx="8.97" ry="7.52" fill="#55c1e6"/><ellipse cx="358.48" cy="144.81" rx="6.21" ry="5.47" fill="#55c1e6"/><ellipse cx="385.83" cy="117.62" rx="4.14" ry="5.47" fill="#55c1e6"/><ellipse cx="367.08" cy="133.66" rx="6.90" ry="5.79" fill="#92c73e"/><ellipse cx="358.48" cy="144.81" rx="4.78" ry="4.21" fill="#92c73e"/><ellipse cx="385.83" cy="117.62" rx="3.19" ry="4.21" fill="#92c73e"/><ellipse cx="367.08" cy="133.66" rx="4.97" ry="4.17" fill="#efe31e"/><ellipse cx="358.48" cy="144.81" rx="3.44" ry="3.03" fill="#efe31e"/><ellipse cx="367.08" cy="133.66" rx="3.59" ry="3.01" fill="#f39b1f"/><ellipse cx="358.48" cy="144.81" rx="2.49" ry="2.19" fill="#f39b1f"/><ellipse cx="358.48" cy="144.81" rx="1.72" ry="1.51" fill="#e11b1e"/></g></g>
<rect x="352.05" y="111.04" width="17.52" height="29.98" fill="none" stroke="#8a8a8a" stroke-width="0.5"/><rect x="369.58" y="111.04" width="11.68" height="16.31" fill="none" stroke="#8a8a8a" stroke-width="0.5"/><rect x="381.79" y="111.04" width="18.05" height="29.98" fill="none" stroke="#8a8a8a" stroke-width="0.5"/><rect x="362.67" y="127.87" width="16.99" height="14.20" fill="none" stroke="#8a8a8a" stroke-width="0.5"/><rect x="351.75" y="112.44" width="7.35" height="3.06" fill="#fff" opacity="0.85"/><text x="352.05" y="115.25" font-size="3.6" fill="#333" stroke="#333" stroke-width="0.23" textLength="6.8" lengthAdjust="spacingAndGlyphs">16.0%</text><rect x="370.87" y="112.44" width="7.35" height="3.06" fill="#fff" opacity="0.85"/><text x="371.17" y="115.25" font-size="3.6" fill="#333" stroke="#333" stroke-width="0.23" textLength="6.8" lengthAdjust="spacingAndGlyphs">3.78%</text><rect x="391.58" y="112.44" width="7.35" height="3.06" fill="#fff" opacity="0.85"/><text x="391.88" y="115.25" font-size="3.6" fill="#333" stroke="#333" stroke-width="0.23" textLength="6.8" lengthAdjust="spacingAndGlyphs">21.4%</text><rect x="372.99" y="135.06" width="7.35" height="3.06" fill="#fff" opacity="0.85"/><text x="373.29" y="137.87" font-size="3.6" fill="#333" stroke="#333" stroke-width="0.23" textLength="6.8" lengthAdjust="spacingAndGlyphs">36.0%</text>
<g clip-path="url(#cB05)"><g filter="url(#bl)"><circle cx="445.05" cy="119.05" r="0.45" fill="#9a9a9a"/><circle cx="450.15" cy="120.96" r="0.45" fill="#9a9a9a"/><circle cx="439.65" cy="130.04" r="0.45" fill="#9a9a9a"/><circle cx="466.78" cy="144.72" r="0.45" fill="#9a9a9a"/><circle cx="461.91" cy="123.42" r="0.45" fill="#9a9a9a"/><circle cx="454.63" cy="125.44" r="0.45" fill="#9a9a9a"/><circle cx="443.03" cy="119.16" r="0.45" fill="#9a9a9a"/><circle cx="444.36" cy="149.40" r="0.45" fill="#9a9a9a"/><circle cx="463.94" cy="144.95" r="0.45" fill="#9a9a9a"/><circle cx="463.03" cy="122.37" r="0.45" fill="#9a9a9a"/><circle cx="447.40" cy="138.34" r="0.45" fill="#9a9a9a"/><circle cx="460.85" cy="146.72" r="0.45" fill="#9a9a9a"/><circle cx="465.57" cy="118.44" r="0.45" fill="#9a9a9a"/><circle cx="456.83" cy="139.98" r="0.45" fill="#9a9a9a"/><circle cx="453.65" cy="121.80" r="0.45" fill="#9a9a9a"/><circle cx="452.62" cy="118.54" r="0.45" fill="#9a9a9a"/><circle cx="467.31" cy="147.12" r="0.45" fill="#9a9a9a"/><circle cx="454.98" cy="126.31" r="0.45" fill="#9a9a9a"/><circle cx="466.49" cy="136.32" r="0.45" fill="#9a9a9a"/><circle cx="465.64" cy="146.47" r="0.45" fill="#9a9a9a"/><circle cx="453.73" cy="130.49" r="0.45" fill="#9a9a9a"/><circle cx="456.61" cy="131.12" r="0.45" fill="#9a9a9a"/><circle cx="442.67" cy="126.48" r="0.45" fill="#9a9a9a"/><circle cx="463.42" cy="116.84" r="0.45" fill="#9a9a9a"/><circle cx="439.01" cy="138.31" r="0.45" fill="#9a9a9a"/><path d="M431.32,151.23 L430.79,143.76 L431.32,133.08 L431.85,120.30 L435.09,116.04 L441.51,111.78 L447.94,107.52 L454.36,104.84 L459.73,104.84 L461.32,107.52 L458.66,112.83 L453.30,118.14 L449.00,122.40 L446.88,126.72 L444.70,132.03 L442.57,137.34 L441.51,142.71 L440.45,148.02 L437.21,151.23 Z" fill="#2b40aa" stroke-linejoin="round"/><path d="M434.88,147.86 L435.41,136.29 L437.00,125.77 L441.78,117.88 L449.21,112.62 L456.65,108.41" fill="none" stroke="#2b40aa" stroke-width="10.09" stroke-linecap="round" stroke-linejoin="round"/><path d="M436.15,134.71 L437.53,125.77 L442.84,118.93 L448.15,115.25 L453.46,111.57" fill="none" stroke="#2b40aa" stroke-width="10.62" stroke-linecap="round" stroke-linejoin="round"/><path d="M434.88,147.86 L435.41,136.29 L437.00,125.77 L441.78,117.88 L449.21,112.62 L456.65,108.41" fill="none" stroke="#3a6fd2" stroke-width="8.12" stroke-linecap="round" stroke-linejoin="round"/><path d="M436.15,134.71 L437.53,125.77 L442.84,118.93 L448.15,115.25 L453.46,111.57" fill="none" stroke="#3a6fd2" stroke-width="8.55" stroke-linecap="round" stroke-linejoin="round"/><path d="M434.88,147.86 L435.41,136.29 L437.00,125.77 L441.78,117.88 L449.21,112.62 L456.65,108.41" fill="none" stroke="#55c1e6" stroke-width="6.15" stroke-linecap="round" stroke-linejoin="round"/><path d="M436.15,134.71 L437.53,125.77 L442.84,118.93 L448.15,115.25 L453.46,111.57" fill="none" stroke="#55c1e6" stroke-width="6.48" stroke-linecap="round" stroke-linejoin="round"/><ellipse cx="452.40" cy="112.09" rx="7.59" ry="4.10" fill="#55c1e6" transform="rotate(-38 452.40 112.09)"/><path d="M436.15,134.71 L437.53,125.77 L442.84,118.93 L448.15,115.25 L453.46,111.57" fill="none" stroke="#92c73e" stroke-width="4.82" stroke-linecap="round" stroke-linejoin="round"/><ellipse cx="452.40" cy="112.09" rx="5.84" ry="3.16" fill="#92c73e" transform="rotate(-38 452.40 112.09)"/><ellipse cx="452.40" cy="112.09" rx="4.21" ry="2.27" fill="#efe31e" transform="rotate(-38 452.40 112.09)"/><ellipse cx="452.40" cy="112.09" rx="3.04" ry="1.64" fill="#f39b1f" transform="rotate(-38 452.40 112.09)"/><ellipse cx="452.40" cy="112.09" rx="2.10" ry="1.14" fill="#e11b1e" transform="rotate(-38 452.40 112.09)"/></g></g>
<rect x="442.31" y="105.78" width="23.36" height="20.51" fill="none" stroke="#8a8a8a" stroke-width="0.5"/><rect x="462.72" y="106.13" width="7.35" height="3.06" fill="#fff" opacity="0.85"/><text x="463.02" y="108.94" font-size="3.6" fill="#333" stroke="#333" stroke-width="0.23" textLength="6.8" lengthAdjust="spacingAndGlyphs">64.0%</text>
<g clip-path="url(#cB10)"><g filter="url(#bl)"><path d="M63.22,198.55 L64.29,192.19 L66.46,185.77 L68.59,182.56 L72.89,179.41 L75.01,179.93 L79.31,179.41 L83.61,181.51 L86.80,183.67 L88.98,187.93 L90.04,190.03 L88.98,194.29 L86.80,198.55 L82.55,201.76 L76.07,203.92 L68.59,204.44 L64.29,202.81 Z" fill="#2b40aa" stroke-linejoin="round"/><path d="M92.16,194.29 L90.04,188.98 L91.10,180.46 L93.22,171.94 L95.40,167.68 L98.59,166.05 L102.89,167.68 L105.07,171.94 L105.07,180.46 L102.89,187.93 L99.70,192.19 L95.40,194.82 Z" fill="#2b40aa" stroke-linejoin="round"/><path d="M65.24,198.13 L67.36,187.61 L73.21,182.35 L80.64,182.35 L85.95,186.56 L87.01,192.87 L83.30,199.18 L75.33,201.29 L67.36,201.29 Z" fill="#3a6fd2" stroke-linejoin="round"/><path d="M93.38,191.82 L92.32,181.30 L94.45,172.36 L97.63,168.15 L102.41,169.20 L103.47,178.67 L100.82,187.61 L96.57,191.82 Z" fill="#3a6fd2" stroke-linejoin="round"/><ellipse cx="79.31" cy="190.03" rx="6.21" ry="7.52" fill="#55c1e6"/><ellipse cx="79.31" cy="190.03" rx="4.83" ry="6.15" fill="#55c1e6"/><ellipse cx="72.67" cy="198.13" rx="11.74" ry="4.10" fill="#55c1e6"/><ellipse cx="73.21" cy="198.13" rx="9.66" ry="3.42" fill="#55c1e6"/><ellipse cx="68.96" cy="198.55" rx="5.52" ry="3.76" fill="#55c1e6"/><ellipse cx="99.70" cy="174.46" rx="4.83" ry="9.57" fill="#55c1e6"/><ellipse cx="99.70" cy="174.46" rx="3.80" ry="7.52" fill="#55c1e6"/><ellipse cx="79.31" cy="190.03" rx="3.72" ry="4.73" fill="#92c73e"/><ellipse cx="73.21" cy="198.13" rx="7.43" ry="2.63" fill="#92c73e"/><ellipse cx="68.96" cy="198.55" rx="4.25" ry="2.89" fill="#92c73e"/><ellipse cx="99.70" cy="174.46" rx="2.92" ry="5.79" fill="#92c73e"/><ellipse cx="68.96" cy="198.55" rx="3.06" ry="2.08" fill="#efe31e"/><ellipse cx="68.96" cy="198.55" rx="2.21" ry="1.50" fill="#f39b1f"/><ellipse cx="68.96" cy="198.55" rx="1.53" ry="1.04" fill="#e11b1e"/></g></g>
<rect x="62.05" y="163.94" width="17.52" height="29.98" fill="none" stroke="#8a8a8a" stroke-width="0.5"/><rect x="79.58" y="163.94" width="11.68" height="16.31" fill="none" stroke="#8a8a8a" stroke-width="0.5"/><rect x="91.79" y="163.94" width="18.05" height="29.98" fill="none" stroke="#8a8a8a" stroke-width="0.5"/><rect x="72.67" y="180.77" width="16.99" height="14.20" fill="none" stroke="#8a8a8a" stroke-width="0.5"/><rect x="61.76" y="165.34" width="7.35" height="3.06" fill="#fff" opacity="0.85"/><text x="62.05" y="168.15" font-size="3.6" fill="#333" stroke="#333" stroke-width="0.23" textLength="6.8" lengthAdjust="spacingAndGlyphs">3.04%</text><rect x="80.87" y="165.34" width="7.35" height="3.06" fill="#fff" opacity="0.85"/><text x="81.17" y="168.15" font-size="3.6" fill="#333" stroke="#333" stroke-width="0.23" textLength="6.8" lengthAdjust="spacingAndGlyphs">6.18%</text><rect x="101.58" y="165.34" width="7.35" height="3.06" fill="#fff" opacity="0.85"/><text x="101.88" y="168.15" font-size="3.6" fill="#333" stroke="#333" stroke-width="0.23" textLength="6.8" lengthAdjust="spacingAndGlyphs">18.0%</text><rect x="83.00" y="187.96" width="7.35" height="3.06" fill="#fff" opacity="0.85"/><text x="83.30" y="190.77" font-size="3.6" fill="#333" stroke="#333" stroke-width="0.23" textLength="6.8" lengthAdjust="spacingAndGlyphs">17.6%</text>
<g clip-path="url(#cB11)"><g filter="url(#bl)"><circle cx="178.29" cy="205.01" r="0.45" fill="#9a9a9a"/><circle cx="149.63" cy="179.59" r="0.45" fill="#9a9a9a"/><circle cx="174.45" cy="198.77" r="0.45" fill="#9a9a9a"/><circle cx="169.17" cy="186.17" r="0.45" fill="#9a9a9a"/><circle cx="167.14" cy="194.97" r="0.45" fill="#9a9a9a"/><circle cx="166.35" cy="181.76" r="0.45" fill="#9a9a9a"/><circle cx="161.55" cy="188.68" r="0.45" fill="#9a9a9a"/><circle cx="170.87" cy="206.40" r="0.45" fill="#9a9a9a"/><circle cx="178.08" cy="193.12" r="0.45" fill="#9a9a9a"/><circle cx="162.00" cy="184.99" r="0.45" fill="#9a9a9a"/><circle cx="148.97" cy="177.90" r="0.45" fill="#9a9a9a"/><circle cx="162.64" cy="186.47" r="0.45" fill="#9a9a9a"/><circle cx="159.94" cy="203.36" r="0.45" fill="#9a9a9a"/><circle cx="164.58" cy="193.60" r="0.45" fill="#9a9a9a"/><circle cx="155.35" cy="177.79" r="0.45" fill="#9a9a9a"/><circle cx="158.19" cy="181.12" r="0.45" fill="#9a9a9a"/><circle cx="164.09" cy="206.51" r="0.45" fill="#9a9a9a"/><circle cx="169.32" cy="182.45" r="0.45" fill="#9a9a9a"/><circle cx="176.30" cy="200.56" r="0.45" fill="#9a9a9a"/><circle cx="171.23" cy="203.80" r="0.45" fill="#9a9a9a"/><circle cx="172.14" cy="200.35" r="0.45" fill="#9a9a9a"/><circle cx="159.10" cy="205.99" r="0.45" fill="#9a9a9a"/><circle cx="178.48" cy="181.84" r="0.45" fill="#9a9a9a"/><circle cx="171.85" cy="198.16" r="0.45" fill="#9a9a9a"/><circle cx="162.53" cy="192.71" r="0.45" fill="#9a9a9a"/><circle cx="163.44" cy="204.33" r="0.45" fill="#9a9a9a"/><circle cx="163.79" cy="201.59" r="0.45" fill="#9a9a9a"/><circle cx="159.11" cy="203.10" r="0.45" fill="#9a9a9a"/><circle cx="176.49" cy="190.67" r="0.45" fill="#9a9a9a"/><circle cx="165.92" cy="204.20" r="0.45" fill="#9a9a9a"/><path d="M141.51,206.02 L141.51,188.98 L143.64,179.41 L147.94,171.94 L154.36,164.47 L160.79,159.63 L166.15,158.58 L171.51,160.21 L172.04,165.52 L168.33,169.78 L164.03,175.09 L162.96,179.41 L166.15,183.67 L167.26,185.77 L164.03,188.98 L162.96,192.19 L166.15,194.29 L168.33,198.55 L166.15,201.76 L162.96,203.92 L165.09,206.02 L155.48,206.02 Z" fill="#2b40aa" stroke-linejoin="round"/><path d="M145.71,201.29 L146.24,189.19 L149.42,178.67 L155.80,170.78 L164.82,163.94" fill="none" stroke="#2b40aa" stroke-width="8.50" stroke-linecap="round" stroke-linejoin="round"/><ellipse cx="155.26" cy="193.92" rx="1.06" ry="1.58" fill="#fff"/><ellipse cx="153.14" cy="204.97" rx="1.59" ry="1.58" fill="#fff"/><path d="M150.49,202.34 L150.49,183.93 L155.80,177.09 L161.11,174.99 L161.64,181.30 L163.76,185.51 L161.11,191.82 L163.76,197.08 L161.11,201.29 L155.80,202.34 Z" fill="#3a6fd2" stroke-linejoin="round"/><path d="M145.71,201.29 L146.24,189.19 L149.42,178.67 L155.80,170.78 L164.82,163.94" fill="none" stroke="#3a6fd2" stroke-width="6.84" stroke-linecap="round" stroke-linejoin="round"/><path d="M145.71,201.29 L146.24,189.19 L149.42,178.67 L155.80,170.78 L164.82,163.94" fill="none" stroke="#55c1e6" stroke-width="5.18" stroke-linecap="round" stroke-linejoin="round"/><ellipse cx="146.34" cy="197.08" rx="3.45" ry="5.47" fill="#55c1e6"/><ellipse cx="147.83" cy="188.14" rx="2.07" ry="4.10" fill="#55c1e6"/><ellipse cx="164.56" cy="164.47" rx="5.52" ry="3.42" fill="#55c1e6" transform="rotate(-40 164.56 164.47)"/><path d="M145.71,201.29 L146.24,189.19 L149.42,178.67 L155.80,170.78 L164.82,163.94" fill="none" stroke="#92c73e" stroke-width="3.86" stroke-linecap="round" stroke-linejoin="round"/><ellipse cx="146.34" cy="197.08" rx="2.66" ry="4.21" fill="#92c73e"/><ellipse cx="147.83" cy="188.14" rx="1.59" ry="3.16" fill="#92c73e"/><ellipse cx="164.56" cy="164.47" rx="4.25" ry="2.63" fill="#92c73e" transform="rotate(-40 164.56 164.47)"/><ellipse cx="146.34" cy="197.08" rx="1.91" ry="3.03" fill="#efe31e"/><ellipse cx="147.83" cy="188.14" rx="1.15" ry="2.27" fill="#efe31e"/><ellipse cx="164.56" cy="164.47" rx="3.06" ry="1.89" fill="#efe31e" transform="rotate(-40 164.56 164.47)"/><ellipse cx="146.34" cy="197.08" rx="1.38" ry="2.19" fill="#f39b1f"/><ellipse cx="164.56" cy="164.47" rx="2.21" ry="1.37" fill="#f39b1f" transform="rotate(-40 164.56 164.47)"/><ellipse cx="146.34" cy="197.08" rx="0.96" ry="1.51" fill="#e11b1e"/><ellipse cx="164.56" cy="164.47" rx="1.53" ry="0.95" fill="#e11b1e" transform="rotate(-40 164.56 164.47)"/></g></g>
<rect x="152.61" y="158.68" width="23.36" height="20.51" fill="none" stroke="#8a8a8a" stroke-width="0.5"/><rect x="173.02" y="159.03" width="7.35" height="3.06" fill="#fff" opacity="0.85"/><text x="173.32" y="161.84" font-size="3.6" fill="#333" stroke="#333" stroke-width="0.23" textLength="6.8" lengthAdjust="spacingAndGlyphs">39.7%</text>
<g clip-path="url(#cB12)"><g filter="url(#bl)"><path d="M215.60,182.56 L218.84,179.93 L224.21,179.41 L229.57,179.93 L233.34,182.04 L232.81,185.77 L229.57,187.93 L228.51,191.14 L231.16,194.29 L229.57,197.50 L226.86,196.45 L225.27,192.19 L223.14,190.03 L219.91,188.98 L216.72,186.82 L215.07,184.72 Z" fill="#2b40aa" stroke-linejoin="round"/><ellipse cx="213.48" cy="198.55" rx="4.78" ry="3.68" fill="#2b40aa"/><ellipse cx="244.60" cy="168.73" rx="1.06" ry="1.84" fill="#2b40aa"/><ellipse cx="231.69" cy="201.76" rx="1.06" ry="0.79" fill="#2b40aa"/><ellipse cx="233.07" cy="168.15" rx="0.53" ry="1.05" fill="#2b40aa"/><ellipse cx="213.48" cy="198.55" rx="3.85" ry="2.96" fill="#3a6fd2"/><ellipse cx="244.60" cy="168.73" rx="0.85" ry="1.48" fill="#3a6fd2"/><ellipse cx="223.52" cy="183.67" rx="8.97" ry="5.47" fill="#55c1e6"/><ellipse cx="223.52" cy="183.67" rx="6.90" ry="4.44" fill="#55c1e6"/><ellipse cx="225.80" cy="183.14" rx="4.14" ry="2.74" fill="#55c1e6"/><ellipse cx="213.48" cy="198.55" rx="3.45" ry="2.74" fill="#55c1e6"/><ellipse cx="213.48" cy="198.55" rx="2.07" ry="2.05" fill="#55c1e6"/><ellipse cx="223.52" cy="183.67" rx="5.31" ry="3.42" fill="#92c73e"/><ellipse cx="225.80" cy="183.14" rx="3.19" ry="2.10" fill="#92c73e"/><ellipse cx="213.48" cy="198.55" rx="1.59" ry="1.58" fill="#92c73e"/><ellipse cx="225.80" cy="183.14" rx="2.29" ry="1.51" fill="#efe31e"/><ellipse cx="225.80" cy="183.14" rx="1.66" ry="1.09" fill="#f39b1f"/></g></g>
<rect x="206.52" y="160.26" width="18.21" height="28.93" fill="none" stroke="#8a8a8a" stroke-width="0.5"/><rect x="224.74" y="160.26" width="11.79" height="16.67" fill="none" stroke="#8a8a8a" stroke-width="0.5"/><rect x="236.53" y="160.26" width="19.33" height="35.87" fill="none" stroke="#8a8a8a" stroke-width="0.5"/><rect x="216.72" y="176.93" width="17.15" height="11.20" fill="none" stroke="#8a8a8a" stroke-width="0.5"/><rect x="205.69" y="162.71" width="7.35" height="3.06" fill="#fff" opacity="0.85"/><text x="205.99" y="165.52" font-size="3.6" fill="#333" stroke="#333" stroke-width="0.23" textLength="6.8" lengthAdjust="spacingAndGlyphs">3.77%</text><rect x="225.50" y="162.71" width="7.35" height="3.06" fill="#fff" opacity="0.85"/><text x="225.80" y="165.52" font-size="3.6" fill="#333" stroke="#333" stroke-width="0.23" textLength="6.8" lengthAdjust="spacingAndGlyphs">1.89%</text><rect x="245.36" y="162.71" width="7.35" height="3.06" fill="#fff" opacity="0.85"/><text x="245.66" y="165.52" font-size="3.6" fill="#333" stroke="#333" stroke-width="0.23" textLength="6.8" lengthAdjust="spacingAndGlyphs">3.77%</text><rect x="227.15" y="186.91" width="7.35" height="3.06" fill="#fff" opacity="0.85"/><text x="227.45" y="189.72" font-size="3.6" fill="#333" stroke="#333" stroke-width="0.23" textLength="6.8" lengthAdjust="spacingAndGlyphs">93.3%</text>
<g clip-path="url(#cB13)"><g filter="url(#bl)"><ellipse cx="307.01" cy="164.47" rx="10.09" ry="3.94" fill="#2b40aa" transform="rotate(-35 307.01 164.47)"/><ellipse cx="295.22" cy="180.46" rx="2.66" ry="1.16" fill="#2b40aa"/><ellipse cx="294.64" cy="186.82" rx="1.33" ry="2.37" fill="#2b40aa"/><ellipse cx="293.57" cy="192.19" rx="1.86" ry="3.16" fill="#2b40aa"/><ellipse cx="292.51" cy="196.45" rx="1.59" ry="2.10" fill="#2b40aa"/><ellipse cx="307.01" cy="164.47" rx="8.12" ry="3.18" fill="#3a6fd2" transform="rotate(-35 307.01 164.47)"/><ellipse cx="295.22" cy="180.46" rx="2.14" ry="0.93" fill="#3a6fd2"/><ellipse cx="294.64" cy="186.82" rx="1.07" ry="1.91" fill="#3a6fd2"/><ellipse cx="293.57" cy="192.19" rx="1.50" ry="2.54" fill="#3a6fd2"/><ellipse cx="292.51" cy="196.45" rx="1.28" ry="1.69" fill="#3a6fd2"/><ellipse cx="307.01" cy="164.47" rx="6.15" ry="2.41" fill="#55c1e6" transform="rotate(-35 307.01 164.47)"/><ellipse cx="307.70" cy="163.94" rx="9.66" ry="3.42" fill="#55c1e6" transform="rotate(-35 307.70 163.94)"/><ellipse cx="310.72" cy="162.31" rx="3.45" ry="2.74" fill="#55c1e6" transform="rotate(-35 310.72 162.31)"/><ellipse cx="294.64" cy="186.82" rx="0.81" ry="1.44" fill="#55c1e6"/><ellipse cx="293.57" cy="192.19" rx="1.13" ry="1.93" fill="#55c1e6"/><ellipse cx="307.70" cy="163.94" rx="7.43" ry="2.63" fill="#92c73e" transform="rotate(-35 307.70 163.94)"/><ellipse cx="310.72" cy="162.31" rx="2.66" ry="2.10" fill="#92c73e" transform="rotate(-35 310.72 162.31)"/><ellipse cx="307.70" cy="163.94" rx="5.35" ry="1.89" fill="#efe31e" transform="rotate(-35 307.70 163.94)"/><ellipse cx="310.72" cy="162.31" rx="1.91" ry="1.51" fill="#efe31e" transform="rotate(-35 310.72 162.31)"/><ellipse cx="310.72" cy="162.31" rx="1.38" ry="1.09" fill="#f39b1f" transform="rotate(-35 310.72 162.31)"/><ellipse cx="310.72" cy="162.31" rx="0.96" ry="0.76" fill="#e11b1e" transform="rotate(-35 310.72 162.31)"/></g></g>
<rect x="297.61" y="158.68" width="23.36" height="20.51" fill="none" stroke="#8a8a8a" stroke-width="0.5"/><rect x="316.42" y="158.50" width="7.35" height="3.06" fill="#fff" opacity="0.85"/><text x="316.72" y="161.31" font-size="3.6" fill="#333" stroke="#333" stroke-width="0.23" textLength="6.8" lengthAdjust="spacingAndGlyphs">82.4%</text>
<g clip-path="url(#cB14)"><g filter="url(#bl)"><path d="M353.12,200.71 L354.18,194.29 L355.24,183.67 L356.36,175.09 L358.48,169.78 L365.97,167.10 L373.51,166.57 L379.93,166.57 L384.23,164.99 L390.66,164.47 L396.02,167.68 L397.08,175.09 L394.96,183.67 L392.78,188.98 L390.66,194.29 L386.36,196.45 L382.06,198.55 L374.57,199.66 L369.21,200.71 L363.84,201.76 L358.48,202.81 Z" fill="#2b40aa" stroke-linejoin="round"/><ellipse cx="382.06" cy="183.67" rx="3.19" ry="1.58" fill="#fff" transform="rotate(-20 382.06 183.67)"/><path d="M357.36,197.08 L358.43,178.67 L362.67,170.78 L375.95,170.78 L386.57,168.15 L394.53,170.78 L392.94,186.56 L386.57,194.45 L370.64,197.08 Z" fill="#3a6fd2" stroke-linejoin="round"/><path d="M360.02,192.87 L361.08,181.30 L365.33,178.67 L375.95,181.30 L380.20,186.56 L386.57,170.78 L392.94,173.41 L390.82,186.56 L386.57,192.87 L370.64,194.45 Z" fill="#55c1e6" stroke-linejoin="round"/><ellipse cx="363.84" cy="172.99" rx="6.21" ry="5.47" fill="#55c1e6"/><ellipse cx="372.39" cy="172.99" rx="3.45" ry="3.42" fill="#55c1e6"/><ellipse cx="368.14" cy="187.93" rx="10.35" ry="6.84" fill="#55c1e6"/><ellipse cx="388.69" cy="178.67" rx="6.90" ry="13.68" fill="#55c1e6"/><ellipse cx="390.66" cy="172.36" rx="6.21" ry="8.21" fill="#55c1e6"/><ellipse cx="358.48" cy="197.50" rx="6.90" ry="5.47" fill="#55c1e6"/><ellipse cx="386.04" cy="189.72" rx="5.52" ry="4.79" fill="#55c1e6"/><ellipse cx="363.84" cy="172.99" rx="4.78" ry="4.21" fill="#92c73e"/><ellipse cx="368.14" cy="187.93" rx="7.96" ry="5.26" fill="#92c73e"/><ellipse cx="388.69" cy="178.67" rx="5.31" ry="10.52" fill="#92c73e"/><ellipse cx="390.66" cy="172.36" rx="4.78" ry="6.31" fill="#92c73e"/><ellipse cx="358.48" cy="197.50" rx="5.31" ry="4.21" fill="#92c73e"/><ellipse cx="386.04" cy="189.72" rx="4.25" ry="3.68" fill="#92c73e"/><ellipse cx="368.14" cy="187.93" rx="5.73" ry="3.79" fill="#efe31e"/><ellipse cx="390.66" cy="172.36" rx="3.44" ry="4.54" fill="#efe31e"/><ellipse cx="358.48" cy="197.50" rx="3.82" ry="3.03" fill="#efe31e"/><ellipse cx="390.66" cy="172.36" rx="2.49" ry="3.28" fill="#f39b1f"/><ellipse cx="358.48" cy="197.50" rx="2.76" ry="2.19" fill="#f39b1f"/><ellipse cx="358.48" cy="197.50" rx="1.91" ry="1.51" fill="#e11b1e"/></g></g>
<rect x="352.05" y="163.94" width="17.52" height="29.98" fill="none" stroke="#8a8a8a" stroke-width="0.5"/><rect x="369.58" y="163.94" width="11.68" height="16.31" fill="none" stroke="#8a8a8a" stroke-width="0.5"/><rect x="381.79" y="163.94" width="18.05" height="29.98" fill="none" stroke="#8a8a8a" stroke-width="0.5"/><rect x="362.67" y="180.77" width="16.99" height="14.20" fill="none" stroke="#8a8a8a" stroke-width="0.5"/><rect x="351.75" y="165.34" width="7.35" height="3.06" fill="#fff" opacity="0.85"/><text x="352.05" y="168.15" font-size="3.6" fill="#333" stroke="#333" stroke-width="0.23" textLength="6.8" lengthAdjust="spacingAndGlyphs">10.2%</text><rect x="370.87" y="165.34" width="7.35" height="3.06" fill="#fff" opacity="0.85"/><text x="371.17" y="168.15" font-size="3.6" fill="#333" stroke="#333" stroke-width="0.23" textLength="6.8" lengthAdjust="spacingAndGlyphs">4.22%</text><rect x="391.58" y="165.34" width="7.35" height="3.06" fill="#fff" opacity="0.85"/><text x="391.88" y="168.15" font-size="3.6" fill="#333" stroke="#333" stroke-width="0.23" textLength="6.8" lengthAdjust="spacingAndGlyphs">21.0%</text><rect x="372.99" y="187.96" width="7.35" height="3.06" fill="#fff" opacity="0.85"/><text x="373.29" y="190.77" font-size="3.6" fill="#333" stroke="#333" stroke-width="0.23" textLength="6.8" lengthAdjust="spacingAndGlyphs">35.8%</text>
<g clip-path="url(#cB15)"><g filter="url(#bl)"><circle cx="457.38" cy="199.49" r="0.45" fill="#9a9a9a"/><circle cx="462.86" cy="204.97" r="0.45" fill="#9a9a9a"/><circle cx="461.10" cy="204.42" r="0.45" fill="#9a9a9a"/><circle cx="438.45" cy="191.93" r="0.45" fill="#9a9a9a"/><circle cx="467.59" cy="196.95" r="0.45" fill="#9a9a9a"/><circle cx="466.23" cy="182.29" r="0.45" fill="#9a9a9a"/><circle cx="452.47" cy="185.94" r="0.45" fill="#9a9a9a"/><circle cx="454.85" cy="194.89" r="0.45" fill="#9a9a9a"/><circle cx="437.95" cy="185.12" r="0.45" fill="#9a9a9a"/><circle cx="446.43" cy="204.26" r="0.45" fill="#9a9a9a"/><circle cx="461.93" cy="183.56" r="0.45" fill="#9a9a9a"/><circle cx="462.93" cy="182.99" r="0.45" fill="#9a9a9a"/><circle cx="457.20" cy="182.66" r="0.45" fill="#9a9a9a"/><circle cx="437.59" cy="203.03" r="0.45" fill="#9a9a9a"/><circle cx="444.20" cy="185.09" r="0.45" fill="#9a9a9a"/><circle cx="468.83" cy="203.06" r="0.45" fill="#9a9a9a"/><circle cx="446.75" cy="205.49" r="0.45" fill="#9a9a9a"/><circle cx="454.71" cy="197.74" r="0.45" fill="#9a9a9a"/><circle cx="444.05" cy="204.93" r="0.45" fill="#9a9a9a"/><circle cx="459.53" cy="205.63" r="0.45" fill="#9a9a9a"/><circle cx="466.00" cy="187.37" r="0.45" fill="#9a9a9a"/><circle cx="449.04" cy="183.74" r="0.45" fill="#9a9a9a"/><circle cx="442.17" cy="180.98" r="0.45" fill="#9a9a9a"/><circle cx="447.13" cy="195.69" r="0.45" fill="#9a9a9a"/><circle cx="437.64" cy="197.74" r="0.45" fill="#9a9a9a"/><circle cx="448.30" cy="187.67" r="0.45" fill="#9a9a9a"/><circle cx="463.61" cy="192.35" r="0.45" fill="#9a9a9a"/><circle cx="447.59" cy="192.36" r="0.45" fill="#9a9a9a"/><circle cx="459.98" cy="180.76" r="0.45" fill="#9a9a9a"/><circle cx="468.60" cy="179.82" r="0.45" fill="#9a9a9a"/><circle cx="461.42" cy="202.31" r="0.45" fill="#9a9a9a"/><circle cx="438.11" cy="200.74" r="0.45" fill="#9a9a9a"/><circle cx="449.20" cy="195.02" r="0.45" fill="#9a9a9a"/><circle cx="437.82" cy="180.47" r="0.45" fill="#9a9a9a"/><circle cx="443.29" cy="205.32" r="0.45" fill="#9a9a9a"/><path d="M430.79,207.07 L429.72,196.45 L429.19,180.46 L429.72,172.99 L434.03,167.68 L441.51,164.47 L449.00,160.21 L455.42,158.05 L460.79,158.58 L462.96,162.31 L460.79,167.68 L458.66,172.99 L460.79,175.09 L459.73,179.41 L455.42,181.51 L452.24,183.67 L450.06,185.77 L446.88,185.77 L445.81,188.98 L442.57,192.19 L441.51,196.45 L440.45,201.76 L439.39,207.07 Z" fill="#2b40aa" stroke-linejoin="round"/><path d="M434.88,203.39 L435.09,194.45 L435.94,181.30 L437.21,174.99 L444.70,169.78 L453.46,164.99" fill="none" stroke="#2b40aa" stroke-width="12.74" stroke-linecap="round" stroke-linejoin="round"/><ellipse cx="456.01" cy="174.57" rx="1.33" ry="1.05" fill="#fff"/><ellipse cx="447.94" cy="183.67" rx="1.33" ry="1.32" fill="#fff"/><path d="M443.90,181.30 L445.50,170.78 L453.46,168.15 L456.65,170.78 L456.12,177.09 L450.81,181.30 Z" fill="#3a6fd2" stroke-linejoin="round"/><path d="M434.88,203.39 L435.09,194.45 L435.94,181.30 L437.21,174.99 L444.70,169.78 L453.46,164.99" fill="none" stroke="#3a6fd2" stroke-width="10.26" stroke-linecap="round" stroke-linejoin="round"/><path d="M434.88,203.39 L435.09,194.45 L435.94,181.30 L437.21,174.99 L444.70,169.78 L453.46,164.99" fill="none" stroke="#55c1e6" stroke-width="7.77" stroke-linecap="round" stroke-linejoin="round"/><ellipse cx="437.21" cy="175.67" rx="3.45" ry="3.42" fill="#55c1e6"/><ellipse cx="436.68" cy="180.46" rx="3.45" ry="3.42" fill="#55c1e6"/><ellipse cx="438.80" cy="184.72" rx="3.11" ry="3.42" fill="#55c1e6"/><ellipse cx="437.21" cy="190.03" rx="2.76" ry="3.42" fill="#55c1e6"/><ellipse cx="435.94" cy="194.45" rx="2.76" ry="2.74" fill="#55c1e6"/><ellipse cx="453.83" cy="165.52" rx="5.52" ry="3.42" fill="#55c1e6" transform="rotate(-35 453.83 165.52)"/><path d="M434.88,203.39 L435.09,194.45 L435.94,181.30 L437.21,174.99 L444.70,169.78 L453.46,164.99" fill="none" stroke="#92c73e" stroke-width="5.79" stroke-linecap="round" stroke-linejoin="round"/><ellipse cx="437.21" cy="175.67" rx="2.66" ry="2.63" fill="#92c73e"/><ellipse cx="436.68" cy="180.46" rx="2.66" ry="2.63" fill="#92c73e"/><ellipse cx="438.80" cy="184.72" rx="2.39" ry="2.63" fill="#92c73e"/><ellipse cx="437.21" cy="190.03" rx="2.12" ry="2.63" fill="#92c73e"/><ellipse cx="435.94" cy="194.45" rx="2.12" ry="2.10" fill="#92c73e"/><ellipse cx="453.83" cy="165.52" rx="4.25" ry="2.63" fill="#92c73e" transform="rotate(-35 453.83 165.52)"/><ellipse cx="437.21" cy="175.67" rx="1.91" ry="1.89" fill="#efe31e"/><ellipse cx="436.68" cy="180.46" rx="1.91" ry="1.89" fill="#efe31e"/><ellipse cx="438.80" cy="184.72" rx="1.72" ry="1.89" fill="#efe31e"/><ellipse cx="437.21" cy="190.03" rx="1.53" ry="1.89" fill="#efe31e"/><ellipse cx="435.94" cy="194.45" rx="1.53" ry="1.51" fill="#efe31e"/><ellipse cx="453.83" cy="165.52" rx="3.06" ry="1.89" fill="#efe31e" transform="rotate(-35 453.83 165.52)"/><ellipse cx="437.21" cy="175.67" rx="1.38" ry="1.37" fill="#f39b1f"/><ellipse cx="436.68" cy="180.46" rx="1.38" ry="1.37" fill="#f39b1f"/><ellipse cx="438.80" cy="184.72" rx="1.24" ry="1.37" fill="#f39b1f"/><ellipse cx="437.21" cy="190.03" rx="1.10" ry="1.37" fill="#f39b1f"/><ellipse cx="453.83" cy="165.52" rx="2.21" ry="1.37" fill="#f39b1f" transform="rotate(-35 453.83 165.52)"/><ellipse cx="437.21" cy="175.67" rx="0.96" ry="0.95" fill="#e11b1e"/><ellipse cx="436.68" cy="180.46" rx="0.96" ry="0.95" fill="#e11b1e"/><ellipse cx="438.80" cy="184.72" rx="0.86" ry="0.95" fill="#e11b1e"/><ellipse cx="437.21" cy="190.03" rx="0.76" ry="0.95" fill="#e11b1e"/><ellipse cx="453.83" cy="165.52" rx="1.53" ry="0.95" fill="#e11b1e" transform="rotate(-35 453.83 165.52)"/></g></g>
<rect x="442.31" y="158.68" width="23.36" height="20.51" fill="none" stroke="#8a8a8a" stroke-width="0.5"/><rect x="462.72" y="159.03" width="7.35" height="3.06" fill="#fff" opacity="0.85"/><text x="463.02" y="161.84" font-size="3.6" fill="#333" stroke="#333" stroke-width="0.23" textLength="6.8" lengthAdjust="spacingAndGlyphs">40.0%</text>
<g clip-path="url(#cB20)"><g filter="url(#bl)"><path d="M63.22,254.51 L64.29,245.99 L64.82,237.47 L66.46,232.10 L69.65,229.47 L75.01,228.89 L80.37,229.47 L84.68,232.10 L87.86,236.36 L90.04,241.73 L88.98,245.99 L91.10,249.14 L91.10,252.35 L87.86,255.56 L79.31,256.61 L68.59,257.19 L64.29,256.61 Z" fill="#2b40aa" stroke-linejoin="round"/><path d="M90.04,221.48 L93.22,218.79 L98.59,218.27 L102.89,219.85 L104.48,224.63 L103.95,232.10 L101.83,237.47 L99.70,241.73 L97.53,241.73 L95.93,237.47 L93.22,232.10 L90.04,226.79 Z" fill="#2b40aa" stroke-linejoin="round"/><path d="M65.24,253.51 L66.30,240.36 L68.96,232.47 L75.33,231.42 L83.30,234.05 L87.54,240.36 L88.61,249.83 L85.95,254.04 L75.33,255.09 L66.30,255.09 Z" fill="#3a6fd2" stroke-linejoin="round"/><path d="M92.32,222.48 L95.51,220.37 L101.88,220.90 L102.94,229.84 L100.29,235.10 L97.63,237.73 L94.45,230.89 L91.79,225.63 Z" fill="#3a6fd2" stroke-linejoin="round"/><ellipse cx="77.19" cy="242.78" rx="6.90" ry="8.21" fill="#55c1e6"/><ellipse cx="77.19" cy="242.78" rx="5.52" ry="6.84" fill="#55c1e6"/><ellipse cx="76.39" cy="251.41" rx="15.19" ry="4.44" fill="#55c1e6"/><ellipse cx="75.33" cy="251.41" rx="12.43" ry="3.42" fill="#55c1e6"/><ellipse cx="69.65" cy="252.56" rx="6.21" ry="3.42" fill="#55c1e6"/><ellipse cx="97.53" cy="224.63" rx="5.52" ry="4.79" fill="#55c1e6"/><ellipse cx="97.53" cy="224.63" rx="4.14" ry="3.42" fill="#55c1e6"/><ellipse cx="77.19" cy="242.78" rx="4.25" ry="5.26" fill="#92c73e"/><ellipse cx="75.33" cy="251.41" rx="9.56" ry="2.63" fill="#92c73e"/><ellipse cx="69.65" cy="252.56" rx="4.78" ry="2.63" fill="#92c73e"/><ellipse cx="97.53" cy="224.63" rx="3.19" ry="2.63" fill="#92c73e"/><ellipse cx="69.65" cy="252.56" rx="3.44" ry="1.89" fill="#efe31e"/><ellipse cx="69.65" cy="252.56" rx="2.49" ry="1.37" fill="#f39b1f"/><ellipse cx="69.65" cy="252.56" rx="1.72" ry="0.95" fill="#e11b1e"/></g></g>
<rect x="62.05" y="217.74" width="17.52" height="29.98" fill="none" stroke="#8a8a8a" stroke-width="0.5"/><rect x="79.58" y="217.74" width="11.68" height="16.31" fill="none" stroke="#8a8a8a" stroke-width="0.5"/><rect x="91.79" y="217.74" width="18.05" height="29.98" fill="none" stroke="#8a8a8a" stroke-width="0.5"/><rect x="72.67" y="234.57" width="16.99" height="14.20" fill="none" stroke="#8a8a8a" stroke-width="0.5"/><rect x="61.76" y="219.14" width="7.35" height="3.06" fill="#fff" opacity="0.85"/><text x="62.05" y="221.95" font-size="3.6" fill="#333" stroke="#333" stroke-width="0.23" textLength="6.8" lengthAdjust="spacingAndGlyphs">9.07%</text><rect x="80.87" y="219.14" width="7.35" height="3.06" fill="#fff" opacity="0.85"/><text x="81.17" y="221.95" font-size="3.6" fill="#333" stroke="#333" stroke-width="0.23" textLength="6.8" lengthAdjust="spacingAndGlyphs">6.80%</text><rect x="101.58" y="219.14" width="7.35" height="3.06" fill="#fff" opacity="0.85"/><text x="101.88" y="221.95" font-size="3.6" fill="#333" stroke="#333" stroke-width="0.23" textLength="6.8" lengthAdjust="spacingAndGlyphs">32.2%</text><rect x="83.00" y="241.76" width="7.35" height="3.06" fill="#fff" opacity="0.85"/><text x="83.30" y="244.57" font-size="3.6" fill="#333" stroke="#333" stroke-width="0.23" textLength="6.8" lengthAdjust="spacingAndGlyphs">18.6%</text>
<g clip-path="url(#cB21)"><g filter="url(#bl)"><circle cx="156.47" cy="247.88" r="0.45" fill="#9a9a9a"/><circle cx="160.68" cy="249.51" r="0.45" fill="#9a9a9a"/><circle cx="168.83" cy="234.79" r="0.45" fill="#9a9a9a"/><circle cx="149.31" cy="255.90" r="0.45" fill="#9a9a9a"/><circle cx="157.16" cy="239.41" r="0.45" fill="#9a9a9a"/><circle cx="180.61" cy="245.86" r="0.45" fill="#9a9a9a"/><circle cx="175.54" cy="246.03" r="0.45" fill="#9a9a9a"/><circle cx="169.25" cy="237.12" r="0.45" fill="#9a9a9a"/><circle cx="169.12" cy="256.74" r="0.45" fill="#9a9a9a"/><circle cx="165.56" cy="253.27" r="0.45" fill="#9a9a9a"/><circle cx="170.28" cy="234.75" r="0.45" fill="#9a9a9a"/><circle cx="173.05" cy="249.16" r="0.45" fill="#9a9a9a"/><circle cx="158.49" cy="233.84" r="0.45" fill="#9a9a9a"/><circle cx="176.47" cy="245.93" r="0.45" fill="#9a9a9a"/><circle cx="171.79" cy="257.03" r="0.45" fill="#9a9a9a"/><circle cx="171.64" cy="258.19" r="0.45" fill="#9a9a9a"/><circle cx="161.48" cy="254.90" r="0.45" fill="#9a9a9a"/><circle cx="163.06" cy="258.59" r="0.45" fill="#9a9a9a"/><circle cx="176.89" cy="235.66" r="0.45" fill="#9a9a9a"/><circle cx="153.22" cy="238.93" r="0.45" fill="#9a9a9a"/><circle cx="179.65" cy="244.93" r="0.45" fill="#9a9a9a"/><circle cx="168.86" cy="241.23" r="0.45" fill="#9a9a9a"/><circle cx="165.05" cy="243.55" r="0.45" fill="#9a9a9a"/><circle cx="160.07" cy="249.00" r="0.45" fill="#9a9a9a"/><circle cx="167.51" cy="257.73" r="0.45" fill="#9a9a9a"/><circle cx="170.62" cy="258.40" r="0.45" fill="#9a9a9a"/><circle cx="176.18" cy="260.10" r="0.45" fill="#9a9a9a"/><circle cx="170.28" cy="237.46" r="0.45" fill="#9a9a9a"/><circle cx="176.31" cy="259.38" r="0.45" fill="#9a9a9a"/><circle cx="177.72" cy="248.56" r="0.45" fill="#9a9a9a"/><circle cx="171.63" cy="238.77" r="0.45" fill="#9a9a9a"/><circle cx="175.39" cy="248.68" r="0.45" fill="#9a9a9a"/><circle cx="157.97" cy="234.73" r="0.45" fill="#9a9a9a"/><circle cx="176.10" cy="260.07" r="0.45" fill="#9a9a9a"/><circle cx="151.71" cy="254.89" r="0.45" fill="#9a9a9a"/><path d="M138.86,260.87 L139.39,252.35 L141.51,239.57 L143.64,228.89 L147.94,222.53 L155.42,216.11 L161.90,212.90 L168.33,211.85 L172.04,213.43 L170.45,219.32 L166.15,225.74 L165.09,230.00 L167.26,233.21 L167.80,237.47 L166.15,241.73 L162.96,244.88 L161.90,248.09 L156.54,247.04 L153.83,249.20 L153.30,252.35 L151.18,254.51 L149.00,257.72 L147.94,260.87 Z" fill="#2b40aa" stroke-linejoin="round"/><path d="M142.52,257.72 L144.64,248.25 L147.30,240.36 L152.08,230.89 L158.45,223.53 L164.82,217.22" fill="none" stroke="#2b40aa" stroke-width="9.03" stroke-linecap="round" stroke-linejoin="round"/><path d="M149.42,248.25 L150.49,235.10 L155.80,230.89 L162.70,230.89 L164.82,235.10 L162.70,241.41 L158.45,243.52 L153.14,244.57 Z" fill="#3a6fd2" stroke-linejoin="round"/><path d="M142.52,257.72 L144.64,248.25 L147.30,240.36 L152.08,230.89 L158.45,223.53 L164.82,217.22" fill="none" stroke="#3a6fd2" stroke-width="7.27" stroke-linecap="round" stroke-linejoin="round"/><path d="M142.52,257.72 L144.64,248.25 L147.30,240.36 L152.08,230.89 L158.45,223.53 L164.82,217.22" fill="none" stroke="#55c1e6" stroke-width="5.51" stroke-linecap="round" stroke-linejoin="round"/><ellipse cx="143.10" cy="256.09" rx="3.45" ry="4.79" fill="#55c1e6"/><ellipse cx="162.96" cy="218.79" rx="5.52" ry="3.42" fill="#55c1e6" transform="rotate(-40 162.96 218.79)"/><ellipse cx="153.14" cy="229.84" rx="2.07" ry="1.37" fill="#55c1e6" transform="rotate(-40 153.14 229.84)"/><ellipse cx="155.80" cy="227.21" rx="2.07" ry="1.37" fill="#55c1e6" transform="rotate(-40 155.80 227.21)"/><path d="M142.52,257.72 L144.64,248.25 L147.30,240.36 L152.08,230.89 L158.45,223.53 L164.82,217.22" fill="none" stroke="#92c73e" stroke-width="4.10" stroke-linecap="round" stroke-linejoin="round"/><ellipse cx="143.10" cy="256.09" rx="2.66" ry="3.68" fill="#92c73e"/><ellipse cx="162.96" cy="218.79" rx="4.25" ry="2.63" fill="#92c73e" transform="rotate(-40 162.96 218.79)"/><ellipse cx="153.14" cy="229.84" rx="1.59" ry="1.05" fill="#92c73e" transform="rotate(-40 153.14 229.84)"/><ellipse cx="155.80" cy="227.21" rx="1.59" ry="1.05" fill="#92c73e" transform="rotate(-40 155.80 227.21)"/><ellipse cx="143.10" cy="256.09" rx="1.91" ry="2.65" fill="#efe31e"/><ellipse cx="162.96" cy="218.79" rx="3.06" ry="1.89" fill="#efe31e" transform="rotate(-40 162.96 218.79)"/><ellipse cx="153.14" cy="229.84" rx="1.15" ry="0.76" fill="#efe31e" transform="rotate(-40 153.14 229.84)"/><ellipse cx="155.80" cy="227.21" rx="1.15" ry="0.76" fill="#efe31e" transform="rotate(-40 155.80 227.21)"/><ellipse cx="143.10" cy="256.09" rx="1.38" ry="1.91" fill="#f39b1f"/><ellipse cx="162.96" cy="218.79" rx="2.21" ry="1.37" fill="#f39b1f" transform="rotate(-40 162.96 218.79)"/><ellipse cx="143.10" cy="256.09" rx="0.96" ry="1.33" fill="#e11b1e"/><ellipse cx="162.96" cy="218.79" rx="1.53" ry="0.95" fill="#e11b1e" transform="rotate(-40 162.96 218.79)"/></g></g>
<rect x="152.61" y="212.48" width="23.36" height="20.51" fill="none" stroke="#8a8a8a" stroke-width="0.5"/><rect x="173.02" y="212.83" width="7.35" height="3.06" fill="#fff" opacity="0.85"/><text x="173.32" y="215.64" font-size="3.6" fill="#333" stroke="#333" stroke-width="0.23" textLength="6.8" lengthAdjust="spacingAndGlyphs">55.0%</text>
<g clip-path="url(#cB22)"><g filter="url(#bl)"><path d="M209.18,254.51 L209.18,250.25 L211.36,247.04 L213.48,242.78 L212.95,238.52 L214.54,234.26 L217.78,231.05 L222.08,230.00 L226.33,228.89 L229.57,228.89 L232.81,232.10 L234.93,235.31 L233.87,239.57 L231.69,242.78 L229.57,245.99 L228.51,250.25 L224.21,254.51 L219.91,256.61 L214.54,257.72 L210.24,256.61 Z" fill="#2b40aa" stroke-linejoin="round"/><ellipse cx="217.14" cy="226.16" rx="4.78" ry="2.10" fill="#2b40aa"/><ellipse cx="239.23" cy="221.95" rx="2.39" ry="2.10" fill="#2b40aa"/><ellipse cx="246.72" cy="223.58" rx="1.33" ry="1.05" fill="#2b40aa"/><ellipse cx="245.66" cy="227.32" rx="1.06" ry="0.79" fill="#2b40aa"/><ellipse cx="246.19" cy="232.68" rx="1.33" ry="0.42" fill="#2b40aa"/><ellipse cx="234.40" cy="245.46" rx="0.53" ry="0.63" fill="#2b40aa"/><path d="M212.37,253.51 L215.02,245.62 L216.08,237.73 L220.33,233.00 L228.30,232.47 L232.01,236.15 L228.30,242.99 L224.58,250.88 L217.68,255.09 Z" fill="#3a6fd2" stroke-linejoin="round"/><ellipse cx="217.14" cy="226.16" rx="3.85" ry="1.69" fill="#3a6fd2"/><ellipse cx="239.23" cy="221.95" rx="1.92" ry="1.69" fill="#3a6fd2"/><ellipse cx="223.14" cy="237.47" rx="7.59" ry="5.47" fill="#55c1e6"/><ellipse cx="223.14" cy="237.47" rx="6.21" ry="4.44" fill="#55c1e6"/><ellipse cx="213.48" cy="253.46" rx="6.90" ry="4.44" fill="#55c1e6"/><ellipse cx="213.48" cy="253.46" rx="5.52" ry="3.76" fill="#55c1e6"/><ellipse cx="223.14" cy="237.47" rx="4.78" ry="3.42" fill="#92c73e"/><ellipse cx="213.48" cy="253.46" rx="4.25" ry="2.89" fill="#92c73e"/><ellipse cx="213.48" cy="253.46" rx="3.06" ry="2.08" fill="#efe31e"/><ellipse cx="213.48" cy="253.46" rx="2.21" ry="1.50" fill="#f39b1f"/><ellipse cx="213.48" cy="253.46" rx="1.53" ry="1.04" fill="#e11b1e"/></g></g>
<rect x="206.52" y="214.06" width="18.21" height="28.93" fill="none" stroke="#8a8a8a" stroke-width="0.5"/><rect x="224.74" y="214.06" width="11.79" height="16.67" fill="none" stroke="#8a8a8a" stroke-width="0.5"/><rect x="236.53" y="214.06" width="19.33" height="35.87" fill="none" stroke="#8a8a8a" stroke-width="0.5"/><rect x="216.72" y="230.73" width="17.15" height="11.20" fill="none" stroke="#8a8a8a" stroke-width="0.5"/><rect x="205.69" y="216.51" width="7.35" height="3.06" fill="#fff" opacity="0.85"/><text x="205.99" y="219.32" font-size="3.6" fill="#333" stroke="#333" stroke-width="0.23" textLength="6.8" lengthAdjust="spacingAndGlyphs">5.65%</text><rect x="225.50" y="216.51" width="7.35" height="3.06" fill="#fff" opacity="0.85"/><text x="225.80" y="219.32" font-size="3.6" fill="#333" stroke="#333" stroke-width="0.23" textLength="6.8" lengthAdjust="spacingAndGlyphs">1.30%</text><rect x="245.36" y="216.51" width="7.35" height="3.06" fill="#fff" opacity="0.85"/><text x="245.66" y="219.32" font-size="3.6" fill="#333" stroke="#333" stroke-width="0.23" textLength="6.8" lengthAdjust="spacingAndGlyphs">2.91%</text><rect x="227.15" y="240.71" width="7.35" height="3.06" fill="#fff" opacity="0.85"/><text x="227.45" y="243.52" font-size="3.6" fill="#333" stroke="#333" stroke-width="0.23" textLength="6.8" lengthAdjust="spacingAndGlyphs">33.8%</text>
<g clip-path="url(#cB23)"><g filter="url(#bl)"><path d="M289.86,258.77 L291.98,248.09 L294.64,237.47 L298.41,228.89 L303.77,222.53 L310.19,216.11 L314.07,211.96" fill="none" stroke="#2b40aa" stroke-width="8.50" stroke-linecap="round" stroke-linejoin="round"/><path d="M289.86,258.77 L291.98,248.09 L294.64,237.47 L298.41,228.89 L303.77,222.53 L310.19,216.11 L314.07,211.96" fill="none" stroke="#3a6fd2" stroke-width="6.84" stroke-linecap="round" stroke-linejoin="round"/><path d="M289.86,258.77 L291.98,248.09 L294.64,237.47 L298.41,228.89 L303.77,222.53 L310.19,216.11 L314.07,211.96" fill="none" stroke="#55c1e6" stroke-width="5.18" stroke-linecap="round" stroke-linejoin="round"/><ellipse cx="310.19" cy="217.74" rx="3.45" ry="6.84" fill="#55c1e6" transform="rotate(35 310.19 217.74)"/><ellipse cx="304.83" cy="222.53" rx="2.42" ry="2.39" fill="#55c1e6"/><ellipse cx="295.75" cy="234.26" rx="2.42" ry="2.39" fill="#55c1e6"/><ellipse cx="298.94" cy="232.10" rx="2.07" ry="2.05" fill="#55c1e6"/><ellipse cx="294.64" cy="238.52" rx="2.07" ry="2.05" fill="#55c1e6"/><ellipse cx="292.51" cy="247.04" rx="2.07" ry="2.39" fill="#55c1e6"/><path d="M289.86,258.77 L291.98,248.09 L294.64,237.47 L298.41,228.89 L303.77,222.53 L310.19,216.11 L314.07,211.96" fill="none" stroke="#92c73e" stroke-width="3.86" stroke-linecap="round" stroke-linejoin="round"/><ellipse cx="310.19" cy="217.74" rx="2.66" ry="5.26" fill="#92c73e" transform="rotate(35 310.19 217.74)"/><ellipse cx="304.83" cy="222.53" rx="1.86" ry="1.84" fill="#92c73e"/><ellipse cx="295.75" cy="234.26" rx="1.86" ry="1.84" fill="#92c73e"/><ellipse cx="298.94" cy="232.10" rx="1.59" ry="1.58" fill="#92c73e"/><ellipse cx="294.64" cy="238.52" rx="1.59" ry="1.58" fill="#92c73e"/><ellipse cx="292.51" cy="247.04" rx="1.59" ry="1.84" fill="#92c73e"/><ellipse cx="310.19" cy="217.74" rx="1.91" ry="3.79" fill="#efe31e" transform="rotate(35 310.19 217.74)"/><ellipse cx="304.83" cy="222.53" rx="1.34" ry="1.33" fill="#efe31e"/><ellipse cx="295.75" cy="234.26" rx="1.34" ry="1.33" fill="#efe31e"/><ellipse cx="298.94" cy="232.10" rx="1.15" ry="1.14" fill="#efe31e"/><ellipse cx="294.64" cy="238.52" rx="1.15" ry="1.14" fill="#efe31e"/><ellipse cx="292.51" cy="247.04" rx="1.15" ry="1.33" fill="#efe31e"/><ellipse cx="310.19" cy="217.74" rx="1.38" ry="2.74" fill="#f39b1f" transform="rotate(35 310.19 217.74)"/><ellipse cx="304.83" cy="222.53" rx="0.97" ry="0.96" fill="#f39b1f"/><ellipse cx="295.75" cy="234.26" rx="0.97" ry="0.96" fill="#f39b1f"/><ellipse cx="298.94" cy="232.10" rx="0.83" ry="0.82" fill="#f39b1f"/><ellipse cx="310.19" cy="217.74" rx="0.96" ry="1.89" fill="#e11b1e" transform="rotate(35 310.19 217.74)"/><ellipse cx="304.83" cy="222.53" rx="0.67" ry="0.66" fill="#e11b1e"/><ellipse cx="295.75" cy="234.26" rx="0.67" ry="0.66" fill="#e11b1e"/></g></g>
<rect x="297.61" y="212.48" width="23.36" height="20.51" fill="none" stroke="#8a8a8a" stroke-width="0.5"/><rect x="316.42" y="212.30" width="7.35" height="3.06" fill="#fff" opacity="0.85"/><text x="316.72" y="215.11" font-size="3.6" fill="#333" stroke="#333" stroke-width="0.23" textLength="6.8" lengthAdjust="spacingAndGlyphs">57.8%</text>
<g clip-path="url(#cB24)"><g filter="url(#bl)"><path d="M354.18,253.46 L355.24,244.88 L356.36,234.26 L357.42,226.79 L360.60,223.58 L367.08,222.53 L374.57,222.53 L380.99,220.37 L385.30,219.32 L392.78,219.85 L396.02,223.58 L396.02,234.26 L393.84,242.78 L391.72,249.14 L388.48,251.30 L382.06,250.25 L376.69,251.30 L369.21,251.30 L362.78,252.35 L358.48,254.51 L355.24,254.51 Z" fill="#2b40aa" stroke-linejoin="round"/><path d="M357.36,249.83 L358.43,229.84 L365.33,225.63 L381.26,224.58 L391.88,221.95 L394.53,235.10 L389.22,248.25 L370.64,248.78 Z" fill="#3a6fd2" stroke-linejoin="round"/><path d="M360.02,246.67 L361.08,235.10 L365.33,237.73 L375.95,235.10 L382.32,240.36 L383.91,224.58 L394.00,224.58 L392.94,240.36 L389.22,247.72 L370.64,247.72 Z" fill="#55c1e6" stroke-linejoin="round"/><ellipse cx="362.78" cy="227.84" rx="6.21" ry="5.47" fill="#55c1e6"/><ellipse cx="369.21" cy="240.62" rx="9.66" ry="6.15" fill="#55c1e6"/><ellipse cx="388.48" cy="235.10" rx="7.59" ry="19.15" fill="#55c1e6"/><ellipse cx="390.66" cy="228.26" rx="4.83" ry="10.94" fill="#55c1e6"/><ellipse cx="358.48" cy="250.25" rx="4.83" ry="3.42" fill="#55c1e6"/><ellipse cx="383.12" cy="247.04" rx="6.21" ry="3.42" fill="#55c1e6"/><ellipse cx="362.78" cy="227.84" rx="4.78" ry="4.21" fill="#92c73e"/><ellipse cx="369.21" cy="240.62" rx="7.43" ry="4.73" fill="#92c73e"/><ellipse cx="388.48" cy="235.10" rx="5.84" ry="14.73" fill="#92c73e"/><ellipse cx="390.66" cy="228.26" rx="3.72" ry="8.42" fill="#92c73e"/><ellipse cx="358.48" cy="250.25" rx="3.72" ry="2.63" fill="#92c73e"/><ellipse cx="383.12" cy="247.04" rx="4.78" ry="2.63" fill="#92c73e"/><ellipse cx="390.66" cy="228.26" rx="2.68" ry="6.06" fill="#efe31e"/><ellipse cx="358.48" cy="250.25" rx="2.68" ry="1.89" fill="#efe31e"/><ellipse cx="390.66" cy="228.26" rx="1.93" ry="4.38" fill="#f39b1f"/><ellipse cx="390.66" cy="228.26" rx="1.34" ry="3.03" fill="#e11b1e"/></g></g>
<rect x="352.05" y="217.74" width="17.52" height="29.98" fill="none" stroke="#8a8a8a" stroke-width="0.5"/><rect x="369.58" y="217.74" width="11.68" height="16.31" fill="none" stroke="#8a8a8a" stroke-width="0.5"/><rect x="381.79" y="217.74" width="18.05" height="29.98" fill="none" stroke="#8a8a8a" stroke-width="0.5"/><rect x="362.67" y="234.57" width="16.99" height="14.20" fill="none" stroke="#8a8a8a" stroke-width="0.5"/><rect x="351.75" y="219.14" width="7.35" height="3.06" fill="#fff" opacity="0.85"/><text x="352.05" y="221.95" font-size="3.6" fill="#333" stroke="#333" stroke-width="0.23" textLength="6.8" lengthAdjust="spacingAndGlyphs">11.0%</text><rect x="370.87" y="219.14" width="7.35" height="3.06" fill="#fff" opacity="0.85"/><text x="371.17" y="221.95" font-size="3.6" fill="#333" stroke="#333" stroke-width="0.23" textLength="6.8" lengthAdjust="spacingAndGlyphs">4.45%</text><rect x="391.58" y="219.14" width="7.35" height="3.06" fill="#fff" opacity="0.85"/><text x="391.88" y="221.95" font-size="3.6" fill="#333" stroke="#333" stroke-width="0.23" textLength="6.8" lengthAdjust="spacingAndGlyphs">40.0%</text><rect x="372.99" y="241.76" width="7.35" height="3.06" fill="#fff" opacity="0.85"/><text x="373.29" y="244.57" font-size="3.6" fill="#333" stroke="#333" stroke-width="0.23" textLength="6.8" lengthAdjust="spacingAndGlyphs">36.0%</text>
<g clip-path="url(#cB25)"><g filter="url(#bl)"><circle cx="454.85" cy="255.02" r="0.45" fill="#9a9a9a"/><circle cx="450.60" cy="243.23" r="0.45" fill="#9a9a9a"/><circle cx="443.91" cy="251.68" r="0.45" fill="#9a9a9a"/><circle cx="450.39" cy="253.71" r="0.45" fill="#9a9a9a"/><circle cx="449.05" cy="253.93" r="0.45" fill="#9a9a9a"/><circle cx="447.67" cy="254.60" r="0.45" fill="#9a9a9a"/><circle cx="453.98" cy="246.44" r="0.45" fill="#9a9a9a"/><circle cx="451.33" cy="252.08" r="0.45" fill="#9a9a9a"/><circle cx="446.57" cy="249.38" r="0.45" fill="#9a9a9a"/><circle cx="455.02" cy="243.32" r="0.45" fill="#9a9a9a"/><circle cx="454.99" cy="252.16" r="0.45" fill="#9a9a9a"/><circle cx="455.56" cy="244.79" r="0.45" fill="#9a9a9a"/><circle cx="445.19" cy="254.57" r="0.45" fill="#9a9a9a"/><circle cx="455.01" cy="247.10" r="0.45" fill="#9a9a9a"/><circle cx="445.20" cy="241.88" r="0.45" fill="#9a9a9a"/><circle cx="452.67" cy="243.86" r="0.45" fill="#9a9a9a"/><circle cx="457.04" cy="250.11" r="0.45" fill="#9a9a9a"/><circle cx="446.68" cy="251.52" r="0.45" fill="#9a9a9a"/><circle cx="448.88" cy="257.35" r="0.45" fill="#9a9a9a"/><circle cx="456.46" cy="248.56" r="0.45" fill="#9a9a9a"/><circle cx="452.80" cy="252.41" r="0.45" fill="#9a9a9a"/><circle cx="455.02" cy="258.27" r="0.45" fill="#9a9a9a"/><circle cx="444.29" cy="245.33" r="0.45" fill="#9a9a9a"/><circle cx="452.21" cy="244.13" r="0.45" fill="#9a9a9a"/><circle cx="452.04" cy="239.62" r="0.45" fill="#9a9a9a"/><circle cx="456.05" cy="248.78" r="0.45" fill="#9a9a9a"/><circle cx="445.51" cy="251.67" r="0.45" fill="#9a9a9a"/><circle cx="448.21" cy="241.86" r="0.45" fill="#9a9a9a"/><circle cx="450.58" cy="240.64" r="0.45" fill="#9a9a9a"/><circle cx="446.80" cy="255.94" r="0.45" fill="#9a9a9a"/><circle cx="453.54" cy="237.99" r="0.45" fill="#9a9a9a"/><circle cx="454.64" cy="238.09" r="0.45" fill="#9a9a9a"/><circle cx="448.50" cy="256.76" r="0.45" fill="#9a9a9a"/><circle cx="452.47" cy="244.17" r="0.45" fill="#9a9a9a"/><circle cx="449.11" cy="245.92" r="0.45" fill="#9a9a9a"/><circle cx="445.65" cy="258.77" r="0.45" fill="#9a9a9a"/><circle cx="444.65" cy="246.63" r="0.45" fill="#9a9a9a"/><circle cx="454.21" cy="246.10" r="0.45" fill="#9a9a9a"/><circle cx="457.45" cy="242.89" r="0.45" fill="#9a9a9a"/><circle cx="457.42" cy="256.50" r="0.45" fill="#9a9a9a"/><circle cx="453.16" cy="256.45" r="0.45" fill="#9a9a9a"/><circle cx="450.08" cy="255.22" r="0.45" fill="#9a9a9a"/><circle cx="454.89" cy="248.60" r="0.45" fill="#9a9a9a"/><circle cx="450.40" cy="252.58" r="0.45" fill="#9a9a9a"/><circle cx="449.55" cy="239.54" r="0.45" fill="#9a9a9a"/><circle cx="454.21" cy="243.32" r="0.45" fill="#9a9a9a"/><circle cx="450.63" cy="254.23" r="0.45" fill="#9a9a9a"/><circle cx="446.28" cy="238.19" r="0.45" fill="#9a9a9a"/><circle cx="445.61" cy="250.13" r="0.45" fill="#9a9a9a"/><circle cx="448.89" cy="243.12" r="0.45" fill="#9a9a9a"/><circle cx="450.14" cy="257.25" r="0.45" fill="#9a9a9a"/><circle cx="447.42" cy="246.37" r="0.45" fill="#9a9a9a"/><circle cx="456.04" cy="250.61" r="0.45" fill="#9a9a9a"/><circle cx="447.60" cy="247.72" r="0.45" fill="#9a9a9a"/><circle cx="450.51" cy="240.72" r="0.45" fill="#9a9a9a"/><circle cx="449.11" cy="244.16" r="0.45" fill="#9a9a9a"/><circle cx="455.01" cy="244.53" r="0.45" fill="#9a9a9a"/><circle cx="453.00" cy="258.15" r="0.45" fill="#9a9a9a"/><circle cx="456.65" cy="245.64" r="0.45" fill="#9a9a9a"/><circle cx="452.23" cy="244.47" r="0.45" fill="#9a9a9a"/><circle cx="449.40" cy="248.00" r="0.45" fill="#9a9a9a"/><circle cx="454.86" cy="257.44" r="0.45" fill="#9a9a9a"/><circle cx="447.92" cy="237.86" r="0.45" fill="#9a9a9a"/><circle cx="450.11" cy="238.93" r="0.45" fill="#9a9a9a"/><circle cx="444.32" cy="254.01" r="0.45" fill="#9a9a9a"/><circle cx="445.45" cy="252.85" r="0.45" fill="#9a9a9a"/><circle cx="448.90" cy="257.47" r="0.45" fill="#9a9a9a"/><circle cx="455.69" cy="239.04" r="0.45" fill="#9a9a9a"/><circle cx="446.56" cy="257.66" r="0.45" fill="#9a9a9a"/><circle cx="452.37" cy="246.61" r="0.45" fill="#9a9a9a"/><circle cx="461.27" cy="227.50" r="0.45" fill="#9a9a9a"/><circle cx="466.48" cy="224.62" r="0.45" fill="#9a9a9a"/><circle cx="464.65" cy="235.41" r="0.45" fill="#9a9a9a"/><circle cx="457.04" cy="240.63" r="0.45" fill="#9a9a9a"/><circle cx="456.71" cy="237.92" r="0.45" fill="#9a9a9a"/><circle cx="457.23" cy="225.29" r="0.45" fill="#9a9a9a"/><circle cx="462.88" cy="252.39" r="0.45" fill="#9a9a9a"/><circle cx="458.09" cy="230.17" r="0.45" fill="#9a9a9a"/><circle cx="466.11" cy="256.84" r="0.45" fill="#9a9a9a"/><circle cx="465.31" cy="236.56" r="0.45" fill="#9a9a9a"/><circle cx="471.67" cy="223.67" r="0.45" fill="#9a9a9a"/><circle cx="469.79" cy="232.61" r="0.45" fill="#9a9a9a"/><circle cx="458.41" cy="226.29" r="0.45" fill="#9a9a9a"/><circle cx="461.03" cy="252.00" r="0.45" fill="#9a9a9a"/><circle cx="458.99" cy="243.36" r="0.45" fill="#9a9a9a"/><path d="M427.55,260.87 L427.55,244.94 L428.66,232.10 L430.79,224.63 L436.15,220.37 L443.64,217.74 L451.18,213.43 L456.54,210.80 L460.79,211.85 L461.90,216.11 L458.66,222.53 L456.54,226.79 L457.60,232.10 L456.54,236.36 L456.54,242.78 L457.07,248.09 L457.60,251.30 L455.42,251.30 L454.36,245.99 L452.24,240.62 L450.06,237.47 L446.88,239.57 L443.64,242.78 L442.57,248.09 L442.57,254.51 L443.64,257.72 L449.00,258.77 L452.24,260.87 Z" fill="#2b40aa" stroke-linejoin="round"/><path d="M434.03,259.82 L435.09,239.57 L436.15,228.89 L444.70,223.58 L455.42,216.11" fill="none" stroke="#2b40aa" stroke-width="12.21" stroke-linecap="round" stroke-linejoin="round"/><path d="M442.84,235.10 L445.50,225.63 L453.46,221.95 L455.58,227.21 L454.52,234.05 L448.15,235.10 Z" fill="#3a6fd2" stroke-linejoin="round"/><path d="M434.03,259.82 L435.09,239.57 L436.15,228.89 L444.70,223.58 L455.42,216.11" fill="none" stroke="#3a6fd2" stroke-width="9.83" stroke-linecap="round" stroke-linejoin="round"/><path d="M434.03,259.82 L435.09,239.57 L436.15,228.89 L444.70,223.58 L455.42,216.11" fill="none" stroke="#55c1e6" stroke-width="7.45" stroke-linecap="round" stroke-linejoin="round"/><ellipse cx="435.09" cy="233.21" rx="4.83" ry="8.89" fill="#55c1e6"/><ellipse cx="432.38" cy="259.82" rx="2.76" ry="3.42" fill="#55c1e6"/><path d="M434.03,259.82 L435.09,239.57 L436.15,228.89 L444.70,223.58 L455.42,216.11" fill="none" stroke="#92c73e" stroke-width="5.54" stroke-linecap="round" stroke-linejoin="round"/><ellipse cx="435.09" cy="233.21" rx="3.72" ry="6.84" fill="#92c73e"/><ellipse cx="432.38" cy="259.82" rx="2.12" ry="2.63" fill="#92c73e"/><ellipse cx="435.09" cy="233.21" rx="2.68" ry="4.92" fill="#efe31e"/><ellipse cx="432.38" cy="259.82" rx="1.53" ry="1.89" fill="#efe31e"/><ellipse cx="435.09" cy="233.21" rx="1.93" ry="3.56" fill="#f39b1f"/><ellipse cx="432.38" cy="259.82" rx="1.10" ry="1.37" fill="#f39b1f"/><ellipse cx="435.09" cy="233.21" rx="1.34" ry="2.46" fill="#e11b1e"/></g></g>
<rect x="442.31" y="212.48" width="23.36" height="20.51" fill="none" stroke="#8a8a8a" stroke-width="0.5"/><rect x="462.72" y="212.83" width="7.35" height="3.06" fill="#fff" opacity="0.85"/><text x="463.02" y="215.64" font-size="3.6" fill="#333" stroke="#333" stroke-width="0.23" textLength="6.8" lengthAdjust="spacingAndGlyphs">40.0%</text>
<g clip-path="url(#cE00)"><g filter="url(#bl)"><path d="M69.06,434.03 L71.19,430.88 L75.45,430.41 L78.59,431.93 L82.84,432.98 L84.38,435.08 L83.32,438.23 L81.25,441.38 L79.65,444.00 L77.52,445.05 L75.45,446.10 L74.38,449.73 L73.85,452.88 L72.25,455.50 L70.13,457.07 L68.53,454.98 L70.13,451.83 L69.59,447.62 L71.19,444.00 L70.13,441.38 L69.06,438.23 Z" fill="#2b40aa" stroke-linejoin="round"/><path d="M92.31,421.48 L95.50,419.38 L98.64,417.81 L101.83,417.28 L105.03,418.33 L103.96,421.48 L101.83,423.58 L99.71,425.68 L96.57,427.25 L94.44,428.83 L92.31,426.73 Z" fill="#2b40aa" stroke-linejoin="round"/><ellipse cx="102.37" cy="431.45" rx="2.13" ry="0.79" fill="#2b40aa" transform="rotate(45 102.37 431.45)"/><ellipse cx="103.43" cy="437.70" rx="0.64" ry="0.63" fill="#2b40aa"/><ellipse cx="96.57" cy="431.93" rx="0.64" ry="0.63" fill="#2b40aa"/><ellipse cx="67.52" cy="430.30" rx="0.53" ry="0.53" fill="#2b40aa"/><ellipse cx="72.84" cy="459.18" rx="1.06" ry="1.05" fill="#2b40aa"/><ellipse cx="77.10" cy="438.18" rx="6.92" ry="8.19" fill="#55c1e6"/><ellipse cx="77.10" cy="438.18" rx="5.53" ry="6.83" fill="#55c1e6"/><ellipse cx="77.52" cy="437.18" rx="3.46" ry="4.09" fill="#55c1e6"/><ellipse cx="72.25" cy="447.62" rx="2.07" ry="2.39" fill="#55c1e6"/><ellipse cx="101.83" cy="419.80" rx="3.11" ry="2.39" fill="#55c1e6"/><ellipse cx="96.57" cy="423.06" rx="3.11" ry="2.73" fill="#55c1e6"/><ellipse cx="77.10" cy="438.18" rx="4.26" ry="5.25" fill="#92c73e"/><ellipse cx="77.52" cy="437.18" rx="2.66" ry="3.15" fill="#92c73e"/><ellipse cx="72.25" cy="447.62" rx="1.60" ry="1.84" fill="#92c73e"/><ellipse cx="101.83" cy="419.80" rx="2.39" ry="1.84" fill="#92c73e"/><ellipse cx="96.57" cy="423.06" rx="2.39" ry="2.10" fill="#92c73e"/><ellipse cx="77.52" cy="437.18" rx="1.92" ry="2.27" fill="#efe31e"/><ellipse cx="101.83" cy="419.80" rx="1.72" ry="1.32" fill="#efe31e"/></g></g>
<rect x="64.86" y="414.55" width="17.56" height="29.40" fill="none" stroke="#777" stroke-width="0.5"/><rect x="82.42" y="414.55" width="12.77" height="16.27" fill="none" stroke="#777" stroke-width="0.5"/><rect x="95.18" y="414.55" width="19.15" height="35.70" fill="none" stroke="#777" stroke-width="0.5"/><rect x="74.44" y="431.35" width="17.56" height="13.13" fill="none" stroke="#777" stroke-width="0.5"/><rect x="62.96" y="414.67" width="12.60" height="5.02" fill="#fff" opacity="0.85"/><text x="63.26" y="419.28" font-size="5.9" fill="#1a1a1a" stroke="#1a1a1a" stroke-width="0.38" textLength="12.0" lengthAdjust="spacingAndGlyphs">15.6%</text><rect x="82.12" y="414.67" width="12.60" height="5.02" fill="#fff" opacity="0.85"/><text x="82.42" y="419.28" font-size="5.9" fill="#1a1a1a" stroke="#1a1a1a" stroke-width="0.38" textLength="12.0" lengthAdjust="spacingAndGlyphs">5.74%</text><rect x="101.27" y="414.67" width="12.60" height="5.02" fill="#fff" opacity="0.85"/><text x="101.57" y="419.28" font-size="5.9" fill="#1a1a1a" stroke="#1a1a1a" stroke-width="0.38" textLength="12.0" lengthAdjust="spacingAndGlyphs">26.2%</text><rect x="83.18" y="439.35" width="12.60" height="5.02" fill="#fff" opacity="0.85"/><text x="83.48" y="443.95" font-size="5.9" fill="#1a1a1a" stroke="#1a1a1a" stroke-width="0.38" textLength="12.0" lengthAdjust="spacingAndGlyphs">36.1%</text>
<g clip-path="url(#cE02)"><g filter="url(#bl)"><path d="M214.77,431.93 L215.84,430.41 L219.51,429.36 L223.76,428.31 L227.97,427.78 L231.16,426.73 L234.30,428.83 L235.89,431.93 L235.36,435.08 L233.29,437.70 L230.09,438.75 L226.90,439.80 L222.70,439.28 L219.51,438.23 L216.37,436.13 L215.30,434.03 Z" fill="#2b40aa" stroke-linejoin="round"/><path d="M235.89,423.58 L237.49,421.48 L240.68,419.91 L243.29,418.33 L244.88,418.86 L244.88,421.48 L242.75,423.58 L240.68,425.16 L238.55,425.68 L236.42,425.16 Z" fill="#2b40aa" stroke-linejoin="round"/><ellipse cx="240.68" cy="422.16" rx="2.66" ry="1.47" fill="#2b40aa" transform="rotate(-25 240.68 422.16)"/><ellipse cx="239.62" cy="427.78" rx="0.80" ry="2.10" fill="#2b40aa"/><ellipse cx="249.14" cy="432.98" rx="1.06" ry="1.31" fill="#2b40aa"/><ellipse cx="243.34" cy="431.88" rx="0.53" ry="0.53" fill="#2b40aa"/><ellipse cx="244.40" cy="435.55" rx="0.53" ry="0.53" fill="#2b40aa"/><ellipse cx="213.55" cy="449.20" rx="0.53" ry="0.53" fill="#2b40aa"/><ellipse cx="215.68" cy="451.30" rx="0.53" ry="0.53" fill="#2b40aa"/><ellipse cx="240.68" cy="422.16" rx="2.14" ry="1.18" fill="#3a6fd2" transform="rotate(-25 240.68 422.16)"/><ellipse cx="225.25" cy="433.98" rx="8.99" ry="5.12" fill="#55c1e6"/><ellipse cx="225.25" cy="433.98" rx="7.61" ry="4.44" fill="#55c1e6"/><ellipse cx="225.36" cy="434.03" rx="5.53" ry="3.07" fill="#55c1e6"/><ellipse cx="247.54" cy="419.91" rx="1.38" ry="1.02" fill="#55c1e6"/><ellipse cx="225.25" cy="433.98" rx="5.85" ry="3.41" fill="#92c73e"/><ellipse cx="225.36" cy="434.03" rx="4.26" ry="2.36" fill="#92c73e"/><ellipse cx="225.36" cy="434.03" rx="3.06" ry="1.70" fill="#efe31e"/><ellipse cx="225.36" cy="434.03" rx="2.21" ry="1.23" fill="#f39b1f"/><ellipse cx="225.36" cy="434.03" rx="1.53" ry="0.85" fill="#e11b1e"/></g></g>
<rect x="208.76" y="414.55" width="17.56" height="29.40" fill="none" stroke="#777" stroke-width="0.5"/><rect x="226.32" y="414.55" width="12.77" height="16.27" fill="none" stroke="#777" stroke-width="0.5"/><rect x="239.08" y="414.55" width="19.15" height="35.70" fill="none" stroke="#777" stroke-width="0.5"/><rect x="218.34" y="431.35" width="17.56" height="13.13" fill="none" stroke="#777" stroke-width="0.5"/><rect x="206.86" y="414.67" width="12.60" height="5.02" fill="#fff" opacity="0.85"/><text x="207.16" y="419.28" font-size="5.9" fill="#1a1a1a" stroke="#1a1a1a" stroke-width="0.38" textLength="12.0" lengthAdjust="spacingAndGlyphs">4.78%</text><rect x="226.02" y="414.67" width="12.60" height="5.02" fill="#fff" opacity="0.85"/><text x="226.32" y="419.28" font-size="5.9" fill="#1a1a1a" stroke="#1a1a1a" stroke-width="0.38" textLength="12.0" lengthAdjust="spacingAndGlyphs">5.88%</text><rect x="245.17" y="414.67" width="12.60" height="5.02" fill="#fff" opacity="0.85"/><text x="245.47" y="419.28" font-size="5.9" fill="#1a1a1a" stroke="#1a1a1a" stroke-width="0.38" textLength="12.0" lengthAdjust="spacingAndGlyphs">10.3%</text><rect x="227.08" y="439.35" width="12.60" height="5.02" fill="#fff" opacity="0.85"/><text x="227.38" y="443.95" font-size="5.9" fill="#1a1a1a" stroke="#1a1a1a" stroke-width="0.38" textLength="12.0" lengthAdjust="spacingAndGlyphs">77.9%</text>
<g clip-path="url(#cE04)"><g filter="url(#bl)"><path d="M381.82,419.80 L385.01,414.55 L389.80,413.50 L392.46,417.18 L392.46,430.30 L391.40,440.80 L390.33,451.30 L381.82,452.35 L373.84,451.30 L371.18,447.10 L379.16,445.00 L380.76,435.55 L380.22,427.68 Z" fill="#2b40aa" stroke-linejoin="round"/><ellipse cx="368.52" cy="435.55" rx="10.64" ry="6.30" fill="#2b40aa"/><ellipse cx="359.48" cy="450.78" rx="5.32" ry="5.25" fill="#2b40aa"/><ellipse cx="361.60" cy="425.05" rx="0.80" ry="2.62" fill="#2b40aa"/><ellipse cx="372.24" cy="424.53" rx="1.60" ry="1.05" fill="#2b40aa"/><path d="M383.42,419.80 L387.14,415.60 L390.86,418.75 L390.33,432.93 L388.20,446.05 L382.88,447.10 L382.88,430.30 Z" fill="#3a6fd2" stroke-linejoin="round"/><ellipse cx="368.52" cy="435.55" rx="8.57" ry="5.07" fill="#3a6fd2"/><ellipse cx="359.48" cy="450.78" rx="4.28" ry="4.23" fill="#3a6fd2"/><ellipse cx="386.08" cy="427.68" rx="1.73" ry="2.39" fill="#55c1e6"/><ellipse cx="387.14" cy="435.55" rx="1.73" ry="1.71" fill="#55c1e6"/><ellipse cx="385.01" cy="441.85" rx="1.73" ry="1.71" fill="#55c1e6"/><ellipse cx="388.20" cy="419.80" rx="3.46" ry="3.41" fill="#55c1e6"/><ellipse cx="368.52" cy="435.55" rx="6.49" ry="3.84" fill="#55c1e6"/><ellipse cx="367.46" cy="435.55" rx="9.68" ry="5.46" fill="#55c1e6"/><ellipse cx="370.12" cy="435.03" rx="4.84" ry="3.07" fill="#55c1e6"/><ellipse cx="359.48" cy="450.78" rx="3.25" ry="3.20" fill="#55c1e6"/><ellipse cx="359.48" cy="450.78" rx="4.15" ry="4.09" fill="#55c1e6"/><ellipse cx="388.20" cy="419.80" rx="2.66" ry="2.62" fill="#92c73e"/><ellipse cx="367.46" cy="435.55" rx="7.45" ry="4.20" fill="#92c73e"/><ellipse cx="370.12" cy="435.03" rx="3.72" ry="2.36" fill="#92c73e"/><ellipse cx="359.48" cy="450.78" rx="3.19" ry="3.15" fill="#92c73e"/><ellipse cx="370.12" cy="435.03" rx="2.68" ry="1.70" fill="#efe31e"/><ellipse cx="359.48" cy="450.78" rx="2.30" ry="2.27" fill="#efe31e"/><ellipse cx="370.12" cy="435.03" rx="1.94" ry="1.23" fill="#f39b1f"/><ellipse cx="359.48" cy="450.78" rx="1.66" ry="1.64" fill="#f39b1f"/><ellipse cx="370.12" cy="435.03" rx="1.34" ry="0.85" fill="#e11b1e"/><ellipse cx="359.48" cy="450.78" rx="1.15" ry="1.13" fill="#e11b1e"/></g></g>
<rect x="352.56" y="414.55" width="17.56" height="29.40" fill="none" stroke="#777" stroke-width="0.5"/><rect x="370.12" y="414.55" width="12.77" height="16.27" fill="none" stroke="#777" stroke-width="0.5"/><rect x="382.88" y="414.55" width="19.15" height="35.70" fill="none" stroke="#777" stroke-width="0.5"/><rect x="362.14" y="431.35" width="17.56" height="13.13" fill="none" stroke="#777" stroke-width="0.5"/><rect x="350.66" y="414.67" width="12.60" height="5.02" fill="#fff" opacity="0.85"/><text x="350.96" y="419.28" font-size="5.9" fill="#1a1a1a" stroke="#1a1a1a" stroke-width="0.38" textLength="12.0" lengthAdjust="spacingAndGlyphs">3.41%</text><rect x="369.82" y="414.67" width="12.60" height="5.02" fill="#fff" opacity="0.85"/><text x="370.12" y="419.28" font-size="5.9" fill="#1a1a1a" stroke="#1a1a1a" stroke-width="0.38" textLength="12.0" lengthAdjust="spacingAndGlyphs">1.43%</text><rect x="388.97" y="414.67" width="12.60" height="5.02" fill="#fff" opacity="0.85"/><text x="389.27" y="419.28" font-size="5.9" fill="#1a1a1a" stroke="#1a1a1a" stroke-width="0.38" textLength="12.0" lengthAdjust="spacingAndGlyphs">28.9%</text><rect x="370.88" y="439.35" width="12.60" height="5.02" fill="#fff" opacity="0.85"/><text x="371.18" y="443.95" font-size="5.9" fill="#1a1a1a" stroke="#1a1a1a" stroke-width="0.38" textLength="12.0" lengthAdjust="spacingAndGlyphs">36.4%</text>
<g clip-path="url(#cE10)"><g filter="url(#bl)"><path d="M65.92,483.93 L68.00,481.31 L72.25,479.73 L76.46,479.73 L80.71,479.21 L83.85,478.16 L85.98,482.36 L84.92,485.50 L82.84,487.55 L81.78,491.75 L79.65,494.90 L76.46,497.00 L72.25,497.53 L69.06,495.95 L68.00,491.75 L66.99,487.55 Z" fill="#2b40aa" stroke-linejoin="round"/><ellipse cx="70.71" cy="506.93" rx="1.60" ry="1.05" fill="#2b40aa"/><path d="M99.71,471.86 L101.83,469.75 L107.10,469.23 L108.16,472.91 L107.10,477.11 L106.04,479.21 L108.16,482.36 L108.16,486.50 L106.04,487.55 L103.96,485.45 L101.83,482.36 L99.71,479.21 L98.64,475.00 Z" fill="#2b40aa" stroke-linejoin="round"/><ellipse cx="102.37" cy="489.13" rx="1.06" ry="1.05" fill="#2b40aa"/><ellipse cx="101.30" cy="494.90" rx="1.86" ry="0.79" fill="#2b40aa" transform="rotate(30 101.30 494.90)"/><ellipse cx="99.17" cy="501.68" rx="0.64" ry="1.84" fill="#2b40aa" transform="rotate(10 99.17 501.68)"/><ellipse cx="106.04" cy="492.28" rx="0.64" ry="0.63" fill="#2b40aa"/><ellipse cx="106.57" cy="498.05" rx="0.64" ry="0.63" fill="#2b40aa"/><ellipse cx="102.37" cy="506.93" rx="0.64" ry="0.63" fill="#2b40aa"/><ellipse cx="95.50" cy="504.30" rx="0.53" ry="0.53" fill="#2b40aa"/><ellipse cx="78.59" cy="511.65" rx="0.64" ry="0.63" fill="#2b40aa"/><ellipse cx="98.11" cy="512.70" rx="0.64" ry="0.63" fill="#2b40aa"/><ellipse cx="74.97" cy="488.03" rx="7.61" ry="8.19" fill="#55c1e6"/><ellipse cx="74.97" cy="488.03" rx="6.22" ry="6.83" fill="#55c1e6"/><ellipse cx="72.79" cy="487.55" rx="2.07" ry="5.46" fill="#55c1e6"/><ellipse cx="80.71" cy="489.65" rx="1.73" ry="2.05" fill="#55c1e6"/><ellipse cx="74.38" cy="501.15" rx="2.42" ry="2.39" fill="#55c1e6"/><ellipse cx="71.72" cy="512.70" rx="2.07" ry="2.05" fill="#55c1e6"/><ellipse cx="103.70" cy="475.43" rx="3.46" ry="5.46" fill="#55c1e6"/><ellipse cx="103.70" cy="475.43" rx="2.77" ry="4.78" fill="#55c1e6"/><ellipse cx="105.03" cy="471.86" rx="2.07" ry="2.05" fill="#55c1e6"/><ellipse cx="106.36" cy="484.35" rx="1.38" ry="2.05" fill="#55c1e6"/><ellipse cx="74.97" cy="488.03" rx="4.79" ry="5.25" fill="#92c73e"/><ellipse cx="72.79" cy="487.55" rx="1.60" ry="4.20" fill="#92c73e"/><ellipse cx="80.71" cy="489.65" rx="1.33" ry="1.57" fill="#92c73e"/><ellipse cx="74.38" cy="501.15" rx="1.86" ry="1.84" fill="#92c73e"/><ellipse cx="71.72" cy="512.70" rx="1.60" ry="1.57" fill="#92c73e"/><ellipse cx="103.70" cy="475.43" rx="2.13" ry="3.68" fill="#92c73e"/><ellipse cx="105.03" cy="471.86" rx="1.60" ry="1.57" fill="#92c73e"/><ellipse cx="106.36" cy="484.35" rx="1.06" ry="1.57" fill="#92c73e"/><ellipse cx="72.79" cy="487.55" rx="1.15" ry="3.02" fill="#efe31e"/><ellipse cx="80.71" cy="489.65" rx="0.96" ry="1.13" fill="#efe31e"/><ellipse cx="105.03" cy="471.86" rx="1.15" ry="1.13" fill="#efe31e"/></g></g>
<rect x="64.86" y="467.55" width="17.56" height="29.40" fill="none" stroke="#777" stroke-width="0.5"/><rect x="82.42" y="467.55" width="12.77" height="16.27" fill="none" stroke="#777" stroke-width="0.5"/><rect x="95.18" y="467.55" width="19.15" height="35.70" fill="none" stroke="#777" stroke-width="0.5"/><rect x="74.44" y="484.35" width="17.56" height="13.13" fill="none" stroke="#777" stroke-width="0.5"/><rect x="62.96" y="467.67" width="12.60" height="5.02" fill="#fff" opacity="0.85"/><text x="63.26" y="472.28" font-size="5.9" fill="#1a1a1a" stroke="#1a1a1a" stroke-width="0.38" textLength="12.0" lengthAdjust="spacingAndGlyphs">28.3%</text><rect x="82.12" y="467.67" width="12.60" height="5.02" fill="#fff" opacity="0.85"/><text x="82.42" y="472.28" font-size="5.9" fill="#1a1a1a" stroke="#1a1a1a" stroke-width="0.38" textLength="12.0" lengthAdjust="spacingAndGlyphs">3.45%</text><rect x="101.27" y="467.67" width="12.60" height="5.02" fill="#fff" opacity="0.85"/><text x="101.57" y="472.28" font-size="5.9" fill="#1a1a1a" stroke="#1a1a1a" stroke-width="0.38" textLength="12.0" lengthAdjust="spacingAndGlyphs">29.0%</text><rect x="83.18" y="492.35" width="12.60" height="5.02" fill="#fff" opacity="0.85"/><text x="83.48" y="496.95" font-size="5.9" fill="#1a1a1a" stroke="#1a1a1a" stroke-width="0.38" textLength="12.0" lengthAdjust="spacingAndGlyphs">21.4%</text>
<g clip-path="url(#cE12)"><g filter="url(#bl)"><path d="M215.30,487.03 L217.43,484.40 L221.63,483.41 L226.90,482.88 L231.16,483.93 L233.76,486.50 L232.70,489.65 L230.09,491.75 L225.84,492.80 L221.63,492.80 L217.43,491.75 L215.84,489.65 Z" fill="#2b40aa" stroke-linejoin="round"/><path d="M220.57,478.16 L224.83,476.58 L230.09,477.11 L234.30,476.58 L235.36,479.21 L231.16,480.78 L226.90,481.83 L222.70,481.31 Z" fill="#2b40aa" stroke-linejoin="round"/><path d="M238.02,473.95 L241.69,472.91 L247.01,473.43 L252.28,473.95 L253.87,476.06 L252.28,478.16 L248.07,479.21 L243.82,479.73 L239.62,479.21 L238.02,477.11 Z" fill="#2b40aa" stroke-linejoin="round"/><ellipse cx="219.51" cy="497.00" rx="1.33" ry="1.31" fill="#2b40aa"/><ellipse cx="251.21" cy="485.45" rx="1.33" ry="1.57" fill="#2b40aa"/><ellipse cx="245.95" cy="487.55" rx="1.60" ry="0.63" fill="#2b40aa" transform="rotate(-30 245.95 487.55)"/><ellipse cx="215.14" cy="483.30" rx="0.53" ry="0.53" fill="#2b40aa"/><ellipse cx="224.72" cy="500.62" rx="0.53" ry="0.53" fill="#2b40aa"/><ellipse cx="230.57" cy="500.62" rx="0.53" ry="0.53" fill="#2b40aa"/><ellipse cx="243.87" cy="501.68" rx="0.53" ry="0.53" fill="#2b40aa"/><ellipse cx="238.02" cy="504.83" rx="0.53" ry="0.53" fill="#2b40aa"/><ellipse cx="214.61" cy="505.35" rx="0.53" ry="0.53" fill="#2b40aa"/><ellipse cx="224.19" cy="488.03" rx="8.99" ry="4.78" fill="#55c1e6"/><ellipse cx="224.19" cy="488.03" rx="7.61" ry="4.09" fill="#55c1e6"/><ellipse cx="223.23" cy="487.24" rx="4.15" ry="2.73" fill="#55c1e6"/><ellipse cx="227.91" cy="479.10" rx="6.92" ry="2.05" fill="#55c1e6"/><ellipse cx="226.90" cy="480.25" rx="2.07" ry="1.37" fill="#55c1e6"/><ellipse cx="245.47" cy="476.21" rx="7.61" ry="2.39" fill="#55c1e6"/><ellipse cx="244.40" cy="475.95" rx="2.77" ry="1.71" fill="#55c1e6"/><ellipse cx="224.19" cy="488.03" rx="5.85" ry="3.15" fill="#92c73e"/><ellipse cx="223.23" cy="487.24" rx="3.19" ry="2.10" fill="#92c73e"/><ellipse cx="226.90" cy="480.25" rx="1.60" ry="1.05" fill="#92c73e"/><ellipse cx="244.40" cy="475.95" rx="2.13" ry="1.31" fill="#92c73e"/><ellipse cx="223.23" cy="487.24" rx="2.30" ry="1.51" fill="#efe31e"/><ellipse cx="223.23" cy="487.24" rx="1.66" ry="1.09" fill="#f39b1f"/></g></g>
<rect x="208.76" y="467.55" width="17.56" height="29.40" fill="none" stroke="#777" stroke-width="0.5"/><rect x="226.32" y="467.55" width="12.77" height="16.27" fill="none" stroke="#777" stroke-width="0.5"/><rect x="239.08" y="467.55" width="19.15" height="35.70" fill="none" stroke="#777" stroke-width="0.5"/><rect x="218.34" y="484.35" width="17.56" height="13.13" fill="none" stroke="#777" stroke-width="0.5"/><rect x="206.86" y="467.67" width="12.60" height="5.02" fill="#fff" opacity="0.85"/><text x="207.16" y="472.28" font-size="5.9" fill="#1a1a1a" stroke="#1a1a1a" stroke-width="0.38" textLength="12.0" lengthAdjust="spacingAndGlyphs">8.93%</text><rect x="226.02" y="467.67" width="12.60" height="5.02" fill="#fff" opacity="0.85"/><text x="226.32" y="472.28" font-size="5.9" fill="#1a1a1a" stroke="#1a1a1a" stroke-width="0.38" textLength="12.0" lengthAdjust="spacingAndGlyphs">9.52%</text><rect x="245.17" y="467.67" width="12.60" height="5.02" fill="#fff" opacity="0.85"/><text x="245.47" y="472.28" font-size="5.9" fill="#1a1a1a" stroke="#1a1a1a" stroke-width="0.38" textLength="12.0" lengthAdjust="spacingAndGlyphs">22.6%</text><rect x="227.08" y="492.35" width="12.60" height="5.02" fill="#fff" opacity="0.85"/><text x="227.38" y="496.95" font-size="5.9" fill="#1a1a1a" stroke="#1a1a1a" stroke-width="0.38" textLength="12.0" lengthAdjust="spacingAndGlyphs">56.0%</text>
<g clip-path="url(#cE14)"><g filter="url(#bl)"><path d="M352.56,504.30 L355.22,491.18 L358.94,478.05 L368.52,472.80 L381.82,471.23 L389.80,468.60 L396.72,472.80 L396.72,488.55 L392.46,500.10 L387.14,503.25 L376.50,502.73 L365.86,504.30 L360.54,508.50 L354.16,508.50 Z" fill="#2b40aa" stroke-linejoin="round"/><ellipse cx="358.94" cy="502.20" rx="7.45" ry="6.83" fill="#2b40aa"/><ellipse cx="376.50" cy="482.25" rx="1.33" ry="1.57" fill="#fff"/><ellipse cx="380.76" cy="485.93" rx="1.06" ry="1.57" fill="#fff"/><path d="M356.28,501.68 L359.48,485.93 L368.52,482.25 L379.16,483.30 L382.88,472.80 L395.12,471.75 L395.12,488.55 L389.80,500.10 L376.50,500.10 L365.86,501.68 Z" fill="#3a6fd2" stroke-linejoin="round"/><ellipse cx="358.94" cy="502.20" rx="6.00" ry="5.49" fill="#3a6fd2"/><path d="M360.54,499.05 L361.60,485.93 L371.18,485.93 L372.24,499.05 Z" fill="#55c1e6" stroke-linejoin="round"/><path d="M383.95,473.85 L394.59,472.80 L394.59,488.55 L390.33,499.05 L385.01,498.00 L382.88,485.93 Z" fill="#55c1e6" stroke-linejoin="round"/><ellipse cx="358.94" cy="502.20" rx="4.54" ry="4.16" fill="#55c1e6"/><ellipse cx="358.94" cy="502.20" rx="6.92" ry="6.83" fill="#55c1e6"/><path d="M362.67,498.00 L363.20,486.98 L369.58,486.98 L370.12,498.00 Z" fill="#92c73e" stroke-linejoin="round"/><path d="M386.08,475.43 L393.52,473.85 L393.52,485.93 L390.33,494.85 L386.08,493.80 Z" fill="#92c73e" stroke-linejoin="round"/><ellipse cx="358.94" cy="502.20" rx="5.32" ry="5.25" fill="#92c73e"/><ellipse cx="358.94" cy="502.20" rx="3.83" ry="3.78" fill="#efe31e"/><ellipse cx="358.94" cy="502.20" rx="2.77" ry="2.73" fill="#f39b1f"/><ellipse cx="358.94" cy="502.20" rx="1.92" ry="1.89" fill="#e11b1e"/></g></g>
<rect x="352.56" y="467.55" width="17.56" height="29.40" fill="none" stroke="#777" stroke-width="0.5"/><rect x="370.12" y="467.55" width="12.77" height="16.27" fill="none" stroke="#777" stroke-width="0.5"/><rect x="382.88" y="467.55" width="19.15" height="35.70" fill="none" stroke="#777" stroke-width="0.5"/><rect x="362.14" y="484.35" width="17.56" height="13.13" fill="none" stroke="#777" stroke-width="0.5"/><rect x="350.66" y="467.67" width="12.60" height="5.02" fill="#fff" opacity="0.85"/><text x="350.96" y="472.28" font-size="5.9" fill="#1a1a1a" stroke="#1a1a1a" stroke-width="0.38" textLength="12.0" lengthAdjust="spacingAndGlyphs">4.31%</text><rect x="369.82" y="467.67" width="12.60" height="5.02" fill="#fff" opacity="0.85"/><text x="370.12" y="472.28" font-size="5.9" fill="#1a1a1a" stroke="#1a1a1a" stroke-width="0.38" textLength="12.0" lengthAdjust="spacingAndGlyphs">2.16%</text><rect x="388.97" y="467.67" width="12.60" height="5.02" fill="#fff" opacity="0.85"/><text x="389.27" y="472.28" font-size="5.9" fill="#1a1a1a" stroke="#1a1a1a" stroke-width="0.38" textLength="12.0" lengthAdjust="spacingAndGlyphs">27.1%</text><rect x="370.88" y="492.35" width="12.60" height="5.02" fill="#fff" opacity="0.85"/><text x="371.18" y="496.95" font-size="5.9" fill="#1a1a1a" stroke="#1a1a1a" stroke-width="0.38" textLength="12.0" lengthAdjust="spacingAndGlyphs">13.9%</text>
<g clip-path="url(#cE20)"><g filter="url(#bl)"><path d="M67.52,552.72 L69.06,546.42 L71.19,543.27 L72.25,539.07 L75.45,538.02 L78.59,536.50 L81.78,534.92 L83.85,531.25 L87.04,532.30 L89.17,534.39 L88.11,538.02 L87.04,541.17 L88.11,545.37 L87.04,549.57 L84.92,553.77 L81.78,556.87 L78.59,558.97 L75.45,557.92 L72.25,556.87 L69.06,555.82 Z" fill="#2b40aa" stroke-linejoin="round"/><ellipse cx="89.70" cy="553.24" rx="0.80" ry="0.79" fill="#2b40aa"/><ellipse cx="77.52" cy="560.75" rx="0.80" ry="0.79" fill="#2b40aa"/><ellipse cx="75.45" cy="534.39" rx="0.80" ry="0.53" fill="#2b40aa"/><ellipse cx="78.16" cy="566.52" rx="0.64" ry="0.63" fill="#2b40aa"/><path d="M69.65,553.40 L71.24,546.05 L73.90,541.85 L79.22,539.23 L84.54,537.65 L85.61,544.48 L84.54,551.30 L80.82,554.98 L73.90,555.50 Z" fill="#3a6fd2" stroke-linejoin="round"/><ellipse cx="78.69" cy="548.52" rx="7.61" ry="8.87" fill="#55c1e6"/><ellipse cx="78.69" cy="548.52" rx="6.22" ry="7.51" fill="#55c1e6"/><ellipse cx="77.63" cy="550.51" rx="7.61" ry="4.09" fill="#55c1e6" transform="rotate(-30 77.63 550.51)"/><ellipse cx="81.78" cy="536.50" rx="2.77" ry="2.05" fill="#55c1e6"/><ellipse cx="78.69" cy="548.52" rx="4.79" ry="5.78" fill="#92c73e"/><ellipse cx="77.63" cy="550.51" rx="5.85" ry="3.15" fill="#92c73e" transform="rotate(-30 77.63 550.51)"/><ellipse cx="77.63" cy="550.51" rx="4.21" ry="2.27" fill="#efe31e" transform="rotate(-30 77.63 550.51)"/><ellipse cx="77.63" cy="550.51" rx="3.04" ry="1.64" fill="#f39b1f" transform="rotate(-30 77.63 550.51)"/><ellipse cx="77.63" cy="550.51" rx="2.11" ry="1.13" fill="#e11b1e" transform="rotate(-30 77.63 550.51)"/></g></g>
<rect x="64.86" y="520.85" width="17.56" height="29.40" fill="none" stroke="#777" stroke-width="0.5"/><rect x="82.42" y="520.85" width="12.77" height="16.27" fill="none" stroke="#777" stroke-width="0.5"/><rect x="95.18" y="520.85" width="19.15" height="35.70" fill="none" stroke="#777" stroke-width="0.5"/><rect x="74.44" y="537.65" width="17.56" height="13.13" fill="none" stroke="#777" stroke-width="0.5"/><rect x="62.96" y="520.97" width="12.60" height="5.02" fill="#fff" opacity="0.85"/><text x="63.26" y="525.58" font-size="5.9" fill="#1a1a1a" stroke="#1a1a1a" stroke-width="0.38" textLength="12.0" lengthAdjust="spacingAndGlyphs">9.64%</text><rect x="82.12" y="520.97" width="12.60" height="5.02" fill="#fff" opacity="0.85"/><text x="82.42" y="525.58" font-size="5.9" fill="#1a1a1a" stroke="#1a1a1a" stroke-width="0.38" textLength="12.0" lengthAdjust="spacingAndGlyphs">4.02%</text><rect x="101.27" y="520.97" width="12.60" height="5.02" fill="#fff" opacity="0.85"/><text x="101.57" y="525.58" font-size="5.9" fill="#1a1a1a" stroke="#1a1a1a" stroke-width="0.38" textLength="12.0" lengthAdjust="spacingAndGlyphs">3.61%</text><rect x="83.18" y="545.65" width="12.60" height="5.02" fill="#fff" opacity="0.85"/><text x="83.48" y="550.25" font-size="5.9" fill="#1a1a1a" stroke="#1a1a1a" stroke-width="0.38" textLength="12.0" lengthAdjust="spacingAndGlyphs">37.8%</text>
<g clip-path="url(#cE22)"><g filter="url(#bl)"><path d="M212.11,553.72 L213.18,549.57 L215.30,545.37 L216.37,541.17 L218.50,538.02 L221.63,533.87 L224.83,529.67 L226.90,526.52 L233.29,525.47 L239.62,525.47 L243.82,523.37 L248.07,524.42 L252.28,525.47 L256.53,527.05 L255.47,529.67 L252.28,533.87 L248.07,534.92 L243.82,535.45 L239.62,537.02 L236.42,540.12 L233.29,545.37 L231.16,548.52 L226.90,551.67 L222.70,555.82 L218.50,556.87 L214.24,556.34 Z" fill="#2b40aa" stroke-linejoin="round"/><ellipse cx="218.50" cy="553.72" rx="4.26" ry="2.62" fill="#2b40aa"/><ellipse cx="215.84" cy="532.82" rx="1.06" ry="1.05" fill="#2b40aa"/><ellipse cx="243.29" cy="543.79" rx="1.06" ry="1.05" fill="#2b40aa"/><ellipse cx="212.48" cy="548.15" rx="0.53" ry="0.53" fill="#2b40aa"/><ellipse cx="230.04" cy="555.50" rx="0.53" ry="0.53" fill="#2b40aa"/><ellipse cx="228.98" cy="557.60" rx="0.53" ry="0.53" fill="#2b40aa"/><path d="M216.74,549.73 L219.40,541.85 L223.66,535.55 L228.44,528.20 L238.02,527.15 L244.40,525.58 L252.92,527.15 L250.79,531.35 L243.34,533.45 L236.96,536.60 L232.70,542.90 L228.44,548.15 L222.06,551.30 Z" fill="#3a6fd2" stroke-linejoin="round"/><ellipse cx="218.50" cy="553.72" rx="3.43" ry="2.11" fill="#3a6fd2"/><ellipse cx="231.69" cy="530.72" rx="6.22" ry="4.09" fill="#55c1e6"/><ellipse cx="231.69" cy="530.72" rx="4.84" ry="3.41" fill="#55c1e6"/><ellipse cx="248.07" cy="528.62" rx="5.53" ry="3.41" fill="#55c1e6"/><ellipse cx="248.07" cy="528.62" rx="4.15" ry="2.73" fill="#55c1e6"/><ellipse cx="226.37" cy="541.69" rx="11.76" ry="7.51" fill="#55c1e6"/><ellipse cx="226.37" cy="541.69" rx="10.37" ry="6.83" fill="#55c1e6"/><ellipse cx="226.37" cy="541.69" rx="6.92" ry="4.09" fill="#55c1e6"/><ellipse cx="231.69" cy="530.72" rx="3.72" ry="2.62" fill="#92c73e"/><ellipse cx="248.07" cy="528.62" rx="3.19" ry="2.10" fill="#92c73e"/><ellipse cx="226.37" cy="541.69" rx="7.98" ry="5.25" fill="#92c73e"/><ellipse cx="226.37" cy="541.69" rx="5.32" ry="3.15" fill="#92c73e"/><ellipse cx="226.37" cy="541.69" rx="3.83" ry="2.27" fill="#efe31e"/><ellipse cx="226.37" cy="541.69" rx="2.77" ry="1.64" fill="#f39b1f"/><ellipse cx="226.37" cy="541.69" rx="1.92" ry="1.13" fill="#e11b1e"/></g></g>
<rect x="208.76" y="520.85" width="17.56" height="29.40" fill="none" stroke="#777" stroke-width="0.5"/><rect x="226.32" y="520.85" width="12.77" height="16.27" fill="none" stroke="#777" stroke-width="0.5"/><rect x="239.08" y="520.85" width="19.15" height="35.70" fill="none" stroke="#777" stroke-width="0.5"/><rect x="218.34" y="537.65" width="17.56" height="13.13" fill="none" stroke="#777" stroke-width="0.5"/><rect x="206.86" y="520.97" width="12.60" height="5.02" fill="#fff" opacity="0.85"/><text x="207.16" y="525.58" font-size="5.9" fill="#1a1a1a" stroke="#1a1a1a" stroke-width="0.38" textLength="12.0" lengthAdjust="spacingAndGlyphs">3.98%</text><rect x="226.02" y="520.97" width="12.60" height="5.02" fill="#fff" opacity="0.85"/><text x="226.32" y="525.58" font-size="5.9" fill="#1a1a1a" stroke="#1a1a1a" stroke-width="0.38" textLength="12.0" lengthAdjust="spacingAndGlyphs">11.7%</text><rect x="245.17" y="520.97" width="12.60" height="5.02" fill="#fff" opacity="0.85"/><text x="245.47" y="525.58" font-size="5.9" fill="#1a1a1a" stroke="#1a1a1a" stroke-width="0.38" textLength="12.0" lengthAdjust="spacingAndGlyphs">11.9%</text><rect x="227.08" y="545.65" width="12.60" height="5.02" fill="#fff" opacity="0.85"/><text x="227.38" y="550.25" font-size="5.9" fill="#1a1a1a" stroke="#1a1a1a" stroke-width="0.38" textLength="12.0" lengthAdjust="spacingAndGlyphs">65.6%</text>
<g clip-path="url(#cE24)"><g filter="url(#bl)"><path d="M354.16,560.23 L353.09,552.35 L357.88,544.48 L361.60,533.98 L368.52,528.73 L379.16,526.10 L387.14,523.48 L396.72,526.10 L397.78,531.35 L393.52,544.48 L391.40,551.30 L381.82,552.35 L373.84,551.30 L368.52,554.98 L360.54,560.23 Z" fill="#2b40aa" stroke-linejoin="round"/><ellipse cx="359.48" cy="555.50" rx="6.92" ry="6.30" fill="#2b40aa"/><ellipse cx="380.22" cy="539.75" rx="1.33" ry="1.57" fill="#fff"/><path d="M357.88,554.98 L360.54,544.48 L365.86,539.23 L373.84,535.55 L381.82,531.35 L388.20,526.10 L395.65,528.73 L392.46,541.85 L388.20,549.20 L376.50,549.20 L368.52,552.35 Z" fill="#3a6fd2" stroke-linejoin="round"/><ellipse cx="359.48" cy="555.50" rx="5.57" ry="5.07" fill="#3a6fd2"/><path d="M360.54,552.35 L363.20,544.48 L371.18,541.85 L376.50,544.48 L373.84,549.73 L365.86,552.35 Z" fill="#55c1e6" stroke-linejoin="round"/><path d="M386.08,527.15 L394.59,528.73 L392.46,539.23 L389.27,547.10 L385.01,546.05 L384.48,533.98 Z" fill="#55c1e6" stroke-linejoin="round"/><ellipse cx="371.18" cy="532.93" rx="2.77" ry="3.41" fill="#55c1e6"/><ellipse cx="359.48" cy="555.50" rx="4.22" ry="3.84" fill="#55c1e6"/><ellipse cx="359.48" cy="555.50" rx="6.22" ry="6.14" fill="#55c1e6"/><path d="M362.67,550.25 L365.86,544.48 L372.24,543.43 L373.31,547.10 L366.92,550.25 Z" fill="#92c73e" stroke-linejoin="round"/><path d="M388.20,528.73 L393.52,530.30 L391.40,539.23 L388.20,544.48 L386.61,536.60 Z" fill="#92c73e" stroke-linejoin="round"/><ellipse cx="371.18" cy="532.93" rx="2.13" ry="2.62" fill="#92c73e"/><ellipse cx="359.48" cy="555.50" rx="4.79" ry="4.72" fill="#92c73e"/><ellipse cx="359.48" cy="555.50" rx="3.45" ry="3.40" fill="#efe31e"/><ellipse cx="359.48" cy="555.50" rx="2.49" ry="2.46" fill="#f39b1f"/><ellipse cx="359.48" cy="555.50" rx="1.72" ry="1.70" fill="#e11b1e"/></g></g>
<rect x="352.56" y="520.85" width="17.56" height="29.40" fill="none" stroke="#777" stroke-width="0.5"/><rect x="370.12" y="520.85" width="12.77" height="16.27" fill="none" stroke="#777" stroke-width="0.5"/><rect x="382.88" y="520.85" width="19.15" height="35.70" fill="none" stroke="#777" stroke-width="0.5"/><rect x="362.14" y="537.65" width="17.56" height="13.13" fill="none" stroke="#777" stroke-width="0.5"/><rect x="350.66" y="520.97" width="12.60" height="5.02" fill="#fff" opacity="0.85"/><text x="350.96" y="525.58" font-size="5.9" fill="#1a1a1a" stroke="#1a1a1a" stroke-width="0.38" textLength="12.0" lengthAdjust="spacingAndGlyphs">3.86%</text><rect x="369.82" y="520.97" width="12.60" height="5.02" fill="#fff" opacity="0.85"/><text x="370.12" y="525.58" font-size="5.9" fill="#1a1a1a" stroke="#1a1a1a" stroke-width="0.38" textLength="12.0" lengthAdjust="spacingAndGlyphs">5.12%</text><rect x="388.97" y="520.97" width="12.60" height="5.02" fill="#fff" opacity="0.85"/><text x="389.27" y="525.58" font-size="5.9" fill="#1a1a1a" stroke="#1a1a1a" stroke-width="0.38" textLength="12.0" lengthAdjust="spacingAndGlyphs">21.8%</text><rect x="370.88" y="545.65" width="12.60" height="5.02" fill="#fff" opacity="0.85"/><text x="371.18" y="550.25" font-size="5.9" fill="#1a1a1a" stroke="#1a1a1a" stroke-width="0.38" textLength="12.0" lengthAdjust="spacingAndGlyphs">17.0%</text>
<path d="M143.67,461.00 L143.67,461.28 L145.21,457.02 L147.34,452.82 L149.47,448.10 L151.06,447.10 L152.61,442.38 L153.67,443.43 L154.74,448.68 L156.33,450.78 L158.46,454.40 L159.52,450.25 L160.53,447.10 L162.13,446.57 L164.26,443.95 L165.32,447.62 L166.39,452.88 L167.40,454.98 L168.99,455.45 L170.59,459.12 L171.65,461.28 L174.31,461.28 L174.31,461.00 Z" fill="#9898ab" stroke="#2d2d45" stroke-width="0.7" stroke-linejoin="round"/>
<rect x="164.29" y="436.93" width="12.6" height="4.3" fill="#fff" opacity="0.6"/>
<text x="170.5888" y="441.125" font-size="5.4" text-anchor="middle" textLength="12" lengthAdjust="spacingAndGlyphs" fill="#3a3a3a" stroke="#3a3a3a" stroke-width="0.1">47.5%</text>
<line x1="156.86319999999998" y1="442.90000000000003" x2="184.1016" y2="442.90000000000003" stroke="#333" stroke-width="1.1"/>
<circle cx="156.86" cy="442.90" r="0.95" fill="#222"/><circle cx="184.10" cy="442.90" r="0.95" fill="#222"/>
<path d="M143.67,514.00 L143.67,513.75 L145.21,508.50 L146.81,501.15 L148.19,494.85 L149.47,496.95 L151.06,495.90 L152.39,489.07 L153.67,494.85 L154.74,498.00 L156.01,497.48 L157.40,501.15 L158.99,507.45 L160.53,509.55 L162.13,507.98 L164.26,505.88 L166.39,506.40 L167.93,510.60 L170.06,512.70 L172.72,513.75 L172.72,514.00 Z" fill="#9898ab" stroke="#2d2d45" stroke-width="0.7" stroke-linejoin="round"/>
<rect x="164.29" y="489.40" width="12.6" height="4.3" fill="#fff" opacity="0.6"/>
<text x="170.5888" y="493.59999999999997" font-size="5.4" text-anchor="middle" textLength="12" lengthAdjust="spacingAndGlyphs" fill="#3a3a3a" stroke="#3a3a3a" stroke-width="0.1">29.7%</text>
<line x1="156.86319999999998" y1="495.375" x2="184.1016" y2="495.375" stroke="#333" stroke-width="1.1"/>
<circle cx="156.86" cy="495.38" r="0.95" fill="#222"/><circle cx="184.10" cy="495.38" r="0.95" fill="#222"/>
<path d="M143.67,567.30 L143.67,567.31 L145.74,564.69 L147.66,563.11 L149.47,565.74 L151.06,567.31 L152.61,566.26 L154.74,564.69 L156.33,562.59 L158.46,561.01 L160.00,558.91 L161.28,554.71 L162.66,553.14 L163.73,549.99 L165.32,550.51 L167.18,549.46 L168.46,552.61 L170.06,557.86 L171.65,562.06 L173.78,565.21 L175.32,567.31 L175.32,567.30 Z" fill="#9898ab" stroke="#2d2d45" stroke-width="0.7" stroke-linejoin="round"/>
<rect x="164.29" y="543.02" width="12.6" height="4.3" fill="#fff" opacity="0.6"/>
<text x="170.5888" y="547.215" font-size="5.4" text-anchor="middle" textLength="12" lengthAdjust="spacingAndGlyphs" fill="#3a3a3a" stroke="#3a3a3a" stroke-width="0.1">83.5%</text>
<line x1="157.076" y1="548.99" x2="184.1016" y2="548.99" stroke="#333" stroke-width="1.1"/>
<circle cx="157.08" cy="548.99" r="0.95" fill="#222"/><circle cx="184.10" cy="548.99" r="0.95" fill="#222"/>
<path d="M293.64,461.00 L293.64,461.28 L295.24,459.70 L296.62,458.65 L297.84,460.23 L298.91,459.70 L300.18,459.33 L301.89,460.23 L303.16,459.18 L304.71,457.02 L306.09,452.82 L307.37,447.62 L308.43,442.38 L309.49,435.03 L310.03,429.78 L310.77,429.25 L311.57,431.35 L312.63,433.45 L313.70,438.18 L314.76,445.52 L316.04,452.88 L317.42,458.07 L318.96,461.28 L318.96,461.00 Z" fill="#9898ab" stroke="#2d2d45" stroke-width="0.7" stroke-linejoin="round"/>
<rect x="308.46" y="436.40" width="12.6" height="4.3" fill="#fff" opacity="0.6"/>
<text x="314.76120000000003" y="440.59999999999997" font-size="5.4" text-anchor="middle" textLength="12" lengthAdjust="spacingAndGlyphs" fill="#3a3a3a" stroke="#3a3a3a" stroke-width="0.1">93.4%</text>
<line x1="301.2484" y1="442.90000000000003" x2="328.274" y2="442.90000000000003" stroke="#333" stroke-width="1.1"/>
<circle cx="301.25" cy="442.90" r="0.95" fill="#222"/><circle cx="328.27" cy="442.90" r="0.95" fill="#222"/>
<path d="M289.92,514.00 L289.92,513.75 L292.58,512.70 L295.77,510.60 L297.84,512.17 L299.44,512.70 L301.04,510.60 L303.16,509.03 L304.71,507.98 L305.77,503.25 L306.83,497.48 L308.43,494.85 L309.49,495.90 L311.04,493.28 L312.10,499.05 L313.70,502.20 L315.29,503.78 L316.36,507.45 L317.42,512.70 L318.96,513.75 L318.96,514.00 Z" fill="#9898ab" stroke="#2d2d45" stroke-width="0.7" stroke-linejoin="round"/>
<rect x="307.88" y="489.40" width="12.6" height="4.3" fill="#fff" opacity="0.6"/>
<text x="314.176" y="493.59999999999997" font-size="5.4" text-anchor="middle" textLength="12" lengthAdjust="spacingAndGlyphs" fill="#3a3a3a" stroke="#3a3a3a" stroke-width="0.1">88.7%</text>
<line x1="301.2484" y1="495.375" x2="328.274" y2="495.375" stroke="#333" stroke-width="1.1"/>
<circle cx="301.25" cy="495.38" r="0.95" fill="#222"/><circle cx="328.27" cy="495.38" r="0.95" fill="#222"/>
<path d="M291.51,567.30 L291.51,567.31 L294.70,566.26 L297.31,565.74 L300.50,565.21 L303.16,563.11 L305.24,558.91 L306.83,552.61 L308.43,544.26 L310.03,538.02 L311.36,534.34 L312.63,531.19 L313.70,530.67 L314.55,533.29 L314.97,539.01 L315.83,545.32 L316.89,552.66 L318.43,559.96 L320.03,565.21 L321.62,567.31 L321.62,567.30 Z" fill="#9898ab" stroke="#2d2d45" stroke-width="0.7" stroke-linejoin="round"/>
<rect x="307.93" y="543.23" width="12.6" height="4.3" fill="#fff" opacity="0.6"/>
<text x="314.2292" y="547.425" font-size="5.4" text-anchor="middle" textLength="12" lengthAdjust="spacingAndGlyphs" fill="#3a3a3a" stroke="#3a3a3a" stroke-width="0.1">95.1%</text>
<line x1="301.2484" y1="549.3050000000001" x2="328.274" y2="549.3050000000001" stroke="#333" stroke-width="1.1"/>
<circle cx="301.25" cy="549.31" r="0.95" fill="#222"/><circle cx="328.27" cy="549.31" r="0.95" fill="#222"/>
<path d="M433.38,461.00 L433.38,460.70 L435.51,454.92 L437.64,446.57 L439.24,437.12 L440.30,433.98 L440.99,437.65 L441.84,439.23 L442.91,437.65 L443.76,439.23 L445.04,445.52 L447.16,451.83 L448.71,454.40 L450.30,452.30 L452.43,446.57 L454.03,440.28 L455.36,433.98 L456.10,432.93 L457.17,438.18 L458.23,443.43 L459.29,450.78 L460.89,458.07 L462.43,460.70 L462.43,461.00 Z" fill="#9898ab" stroke="#2d2d45" stroke-width="0.7" stroke-linejoin="round"/>
<rect x="451.40" y="435.88" width="12.6" height="4.3" fill="#fff" opacity="0.6"/>
<text x="457.6972" y="440.075" font-size="5.4" text-anchor="middle" textLength="12" lengthAdjust="spacingAndGlyphs" fill="#3a3a3a" stroke="#3a3a3a" stroke-width="0.1">55.0%</text>
<line x1="444.5036" y1="442.165" x2="471.21000000000004" y2="442.165" stroke="#333" stroke-width="1.1"/>
<circle cx="444.50" cy="442.17" r="0.95" fill="#222"/><circle cx="471.21" cy="442.17" r="0.95" fill="#222"/>
<path d="M431.31,514.00 L431.31,513.23 L432.91,509.55 L434.45,500.10 L436.04,482.25 L437.43,469.75 L438.49,471.33 L439.56,470.81 L440.62,477.11 L441.84,484.45 L442.91,491.75 L443.97,495.95 L445.04,499.63 L446.63,502.73 L448.17,504.83 L450.30,504.30 L452.43,503.25 L453.49,501.68 L455.09,503.78 L456.63,505.35 L458.23,507.98 L459.83,510.60 L461.90,513.23 L461.90,514.00 Z" fill="#9898ab" stroke="#2d2d45" stroke-width="0.7" stroke-linejoin="round"/>
<rect x="451.40" y="488.61" width="12.6" height="4.3" fill="#fff" opacity="0.6"/>
<text x="457.6972" y="492.8125" font-size="5.4" text-anchor="middle" textLength="12" lengthAdjust="spacingAndGlyphs" fill="#3a3a3a" stroke="#3a3a3a" stroke-width="0.1">31.2%</text>
<line x1="444.1844" y1="494.85" x2="471.4228" y2="494.85" stroke="#333" stroke-width="1.1"/>
<circle cx="444.18" cy="494.85" r="0.95" fill="#222"/><circle cx="471.42" cy="494.85" r="0.95" fill="#222"/>
<path d="M431.84,567.30 L431.84,566.26 L433.38,559.96 L434.45,546.37 L435.51,530.67 L436.58,523.32 L437.64,521.80 L438.49,524.37 L439.24,529.62 L440.62,533.82 L441.31,541.12 L442.38,548.47 L443.97,551.62 L446.10,553.19 L448.17,552.66 L450.30,552.14 L452.43,552.66 L454.03,554.19 L455.57,555.76 L457.70,557.86 L459.29,561.01 L461.42,564.16 L463.50,566.26 L463.50,567.30 Z" fill="#9898ab" stroke="#2d2d45" stroke-width="0.7" stroke-linejoin="round"/>
<rect x="451.93" y="541.97" width="12.6" height="4.3" fill="#fff" opacity="0.6"/>
<text x="458.2292" y="546.165" font-size="5.4" text-anchor="middle" textLength="12" lengthAdjust="spacingAndGlyphs" fill="#3a3a3a" stroke="#3a3a3a" stroke-width="0.1">37.9%</text>
<line x1="444.5036" y1="548.465" x2="471.6356" y2="548.465" stroke="#333" stroke-width="1.1"/>
<circle cx="444.50" cy="548.47" r="0.95" fill="#222"/><circle cx="471.64" cy="548.47" r="0.95" fill="#222"/>
<rect x="59.4" y="101.9" width="1.5" height="159.79999999999998" fill="#444"/>
<rect x="111.0" y="101.9" width="1.5" height="159.79999999999998" fill="#444"/>
<rect x="59.4" y="101.9" width="53.1" height="1.25" fill="#2a2a2a"/>
<rect x="59.4" y="260.45" width="53.1" height="1.25" fill="#2a2a2a"/>
<rect x="59.4" y="153.25" width="53.1" height="2.4" fill="#5a5a5a"/>
<rect x="59.4" y="207.10000000000002" width="53.1" height="2.4" fill="#5a5a5a"/>
<rect x="131.9" y="101.9" width="1.5" height="159.79999999999998" fill="#444"/>
<rect x="183.5" y="101.9" width="1.5" height="159.79999999999998" fill="#444"/>
<rect x="131.9" y="101.9" width="53.1" height="1.25" fill="#2a2a2a"/>
<rect x="131.9" y="260.45" width="53.1" height="1.25" fill="#2a2a2a"/>
<rect x="131.9" y="153.25" width="53.1" height="2.4" fill="#5a5a5a"/>
<rect x="131.9" y="207.10000000000002" width="53.1" height="2.4" fill="#5a5a5a"/>
<rect x="204.4" y="101.9" width="1.5" height="159.79999999999998" fill="#444"/>
<rect x="256.0" y="101.9" width="1.5" height="159.79999999999998" fill="#444"/>
<rect x="204.4" y="101.9" width="53.1" height="1.25" fill="#2a2a2a"/>
<rect x="204.4" y="260.45" width="53.1" height="1.25" fill="#2a2a2a"/>
<rect x="204.4" y="153.25" width="53.1" height="2.4" fill="#5a5a5a"/>
<rect x="204.4" y="207.10000000000002" width="53.1" height="2.4" fill="#5a5a5a"/>
<rect x="276.9" y="101.9" width="1.5" height="159.79999999999998" fill="#444"/>
<rect x="328.5" y="101.9" width="1.5" height="159.79999999999998" fill="#444"/>
<rect x="276.9" y="101.9" width="53.1" height="1.25" fill="#2a2a2a"/>
<rect x="276.9" y="260.45" width="53.1" height="1.25" fill="#2a2a2a"/>
<rect x="276.9" y="153.25" width="53.1" height="2.4" fill="#5a5a5a"/>
<rect x="276.9" y="207.10000000000002" width="53.1" height="2.4" fill="#5a5a5a"/>
<rect x="349.4" y="101.9" width="1.5" height="159.79999999999998" fill="#444"/>
<rect x="401.0" y="101.9" width="1.5" height="159.79999999999998" fill="#444"/>
<rect x="349.4" y="101.9" width="53.1" height="1.25" fill="#2a2a2a"/>
<rect x="349.4" y="260.45" width="53.1" height="1.25" fill="#2a2a2a"/>
<rect x="349.4" y="153.25" width="53.1" height="2.4" fill="#5a5a5a"/>
<rect x="349.4" y="207.10000000000002" width="53.1" height="2.4" fill="#5a5a5a"/>
<rect x="421.6" y="101.9" width="1.5" height="159.79999999999998" fill="#444"/>
<rect x="473.20000000000005" y="101.9" width="1.5" height="159.79999999999998" fill="#444"/>
<rect x="421.6" y="101.9" width="53.1" height="1.25" fill="#2a2a2a"/>
<rect x="421.6" y="260.45" width="53.1" height="1.25" fill="#2a2a2a"/>
<rect x="421.6" y="153.25" width="53.1" height="2.4" fill="#5a5a5a"/>
<rect x="421.6" y="207.10000000000002" width="53.1" height="2.4" fill="#5a5a5a"/>
<rect x="134.2" y="409.2" width="1.3" height="158.8" fill="#2a2a2a"/>
<rect x="186.09999999999997" y="409.2" width="1.3" height="158.8" fill="#2a2a2a"/>
<rect x="134.2" y="409.2" width="53.2" height="1.3" fill="#2a2a2a"/>
<rect x="134.2" y="566.7" width="53.2" height="1.3" fill="#2a2a2a"/>
<rect x="134.2" y="461.15" width="53.2" height="1.7" fill="#2a2a2a"/>
<rect x="134.2" y="514.85" width="53.2" height="1.7" fill="#2a2a2a"/>
<rect x="206.1" y="409.2" width="1.3" height="158.8" fill="#2a2a2a"/>
<rect x="258.0" y="409.2" width="1.3" height="158.8" fill="#2a2a2a"/>
<rect x="206.1" y="409.2" width="53.2" height="1.3" fill="#2a2a2a"/>
<rect x="206.1" y="566.7" width="53.2" height="1.3" fill="#2a2a2a"/>
<rect x="206.1" y="461.15" width="53.2" height="1.7" fill="#2a2a2a"/>
<rect x="206.1" y="514.85" width="53.2" height="1.7" fill="#2a2a2a"/>
<rect x="278.0" y="409.2" width="1.3" height="158.8" fill="#2a2a2a"/>
<rect x="329.9" y="409.2" width="1.3" height="158.8" fill="#2a2a2a"/>
<rect x="278.0" y="409.2" width="53.2" height="1.3" fill="#2a2a2a"/>
<rect x="278.0" y="566.7" width="53.2" height="1.3" fill="#2a2a2a"/>
<rect x="278.0" y="461.15" width="53.2" height="1.7" fill="#2a2a2a"/>
<rect x="278.0" y="514.85" width="53.2" height="1.7" fill="#2a2a2a"/>
<rect x="349.9" y="409.2" width="1.3" height="158.8" fill="#2a2a2a"/>
<rect x="401.79999999999995" y="409.2" width="1.3" height="158.8" fill="#2a2a2a"/>
<rect x="349.9" y="409.2" width="53.2" height="1.3" fill="#2a2a2a"/>
<rect x="349.9" y="566.7" width="53.2" height="1.3" fill="#2a2a2a"/>
<rect x="349.9" y="461.15" width="53.2" height="1.7" fill="#2a2a2a"/>
<rect x="349.9" y="514.85" width="53.2" height="1.7" fill="#2a2a2a"/>
<rect x="422.0" y="409.2" width="1.3" height="158.8" fill="#2a2a2a"/>
<rect x="473.9" y="409.2" width="1.3" height="158.8" fill="#2a2a2a"/>
<rect x="422.0" y="409.2" width="53.2" height="1.3" fill="#2a2a2a"/>
<rect x="422.0" y="566.7" width="53.2" height="1.3" fill="#2a2a2a"/>
<rect x="422.0" y="461.15" width="53.2" height="1.7" fill="#2a2a2a"/>
<rect x="422.0" y="514.85" width="53.2" height="1.7" fill="#2a2a2a"/>
<rect x="62.2" y="409.2" width="1.3" height="105.80000000000001" fill="#b0b0b0"/>
<rect x="114.10000000000001" y="409.2" width="1.3" height="105.80000000000001" fill="#b0b0b0"/>
<rect x="62.2" y="409.2" width="53.2" height="1.3" fill="#a8a8a8"/>
<rect x="62.2" y="513.7" width="53.2" height="1.3" fill="#a8a8a8"/>
<rect x="62.2" y="461.15" width="53.2" height="1.7" fill="#a8a8a8"/>
<rect x="62.2" y="515.0" width="1.4" height="53.0" fill="#4a4a4a"/>
<rect x="114.0" y="515.0" width="1.4" height="53.0" fill="#4a4a4a"/>
<rect x="62.2" y="515.0" width="53.2" height="1.4" fill="#4a4a4a"/>
<rect x="62.2" y="566.6" width="53.2" height="1.4" fill="#4a4a4a"/>
<rect x="0" y="0" width="1.6" height="707" fill="#1a1a1a"/><rect x="0" y="0" width="520" height="1.3" fill="#1a1a1a"/><rect x="518.4" y="0" width="1.6" height="707" fill="#1a1a1a"/><rect x="0" y="705.2" width="520" height="1.8" fill="#1a1a1a"/>
</svg>
</body></html>
